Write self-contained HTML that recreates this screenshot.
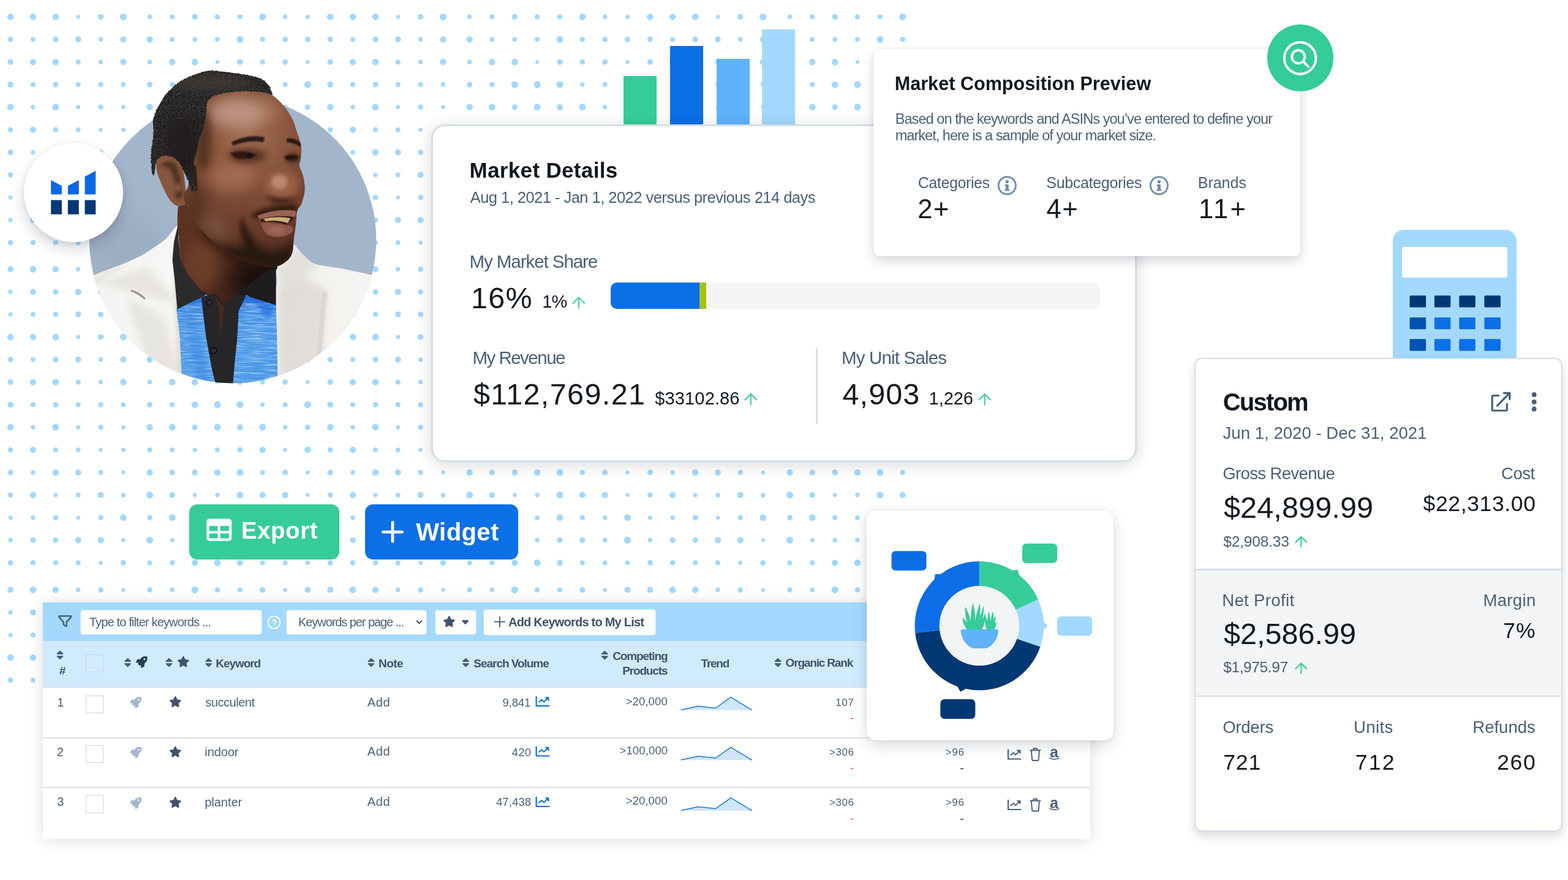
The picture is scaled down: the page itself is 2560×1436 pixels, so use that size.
<!DOCTYPE html>
<html lang="en">
<head>
<meta charset="utf-8">
<title>Market dashboard</title>
<style>
html,body{margin:0;padding:0;background:#fff;}
body{width:2560px;height:1436px;overflow:hidden;font-family:"Liberation Sans",sans-serif;}
#stage{position:relative;width:2560px;height:1436px;overflow:hidden;background:#fff;}
#stage>div,#stage>svg{position:absolute;}
.t{position:absolute;white-space:nowrap;line-height:1;}
#texts{left:0;top:0;width:0;height:0;}
.bar{position:absolute;}
.card{position:absolute;background:#fff;box-sizing:border-box;}

</style>
</head>
<body>
<div id="stage">
<svg id="dots" width="2560" height="1436" viewBox="0 0 2560 1436" style="position:absolute;left:0;top:0"><path fill="#a4d8fe" d="M11.8 27.5a5.33 5.33 0 1 0 10.66 0a5.33 5.33 0 1 0 -10.66 0zM48.8 27.5a5.13 5.13 0 1 0 10.26 0a5.13 5.13 0 1 0 -10.26 0zM85.5 27.5a5.33 5.33 0 1 0 10.66 0a5.33 5.33 0 1 0 -10.66 0zM124.4 27.5a3.3 3.3 0 1 0 6.60 0a3.3 3.3 0 1 0 -6.60 0zM159.8 27.5a4.72 4.72 0 1 0 9.44 0a4.72 4.72 0 1 0 -9.44 0zM195.8 27.5a5.53 5.53 0 1 0 11.06 0a5.53 5.53 0 1 0 -11.06 0zM12.6 64.3a4.52 4.52 0 1 0 9.04 0a4.52 4.52 0 1 0 -9.04 0zM50.0 64.3a3.91 3.91 0 1 0 7.82 0a3.91 3.91 0 1 0 -7.82 0zM86.1 64.3a4.72 4.72 0 1 0 9.44 0a4.72 4.72 0 1 0 -9.44 0zM122.7 64.3a4.93 4.93 0 1 0 9.86 0a4.93 4.93 0 1 0 -9.86 0zM160.8 64.3a3.71 3.71 0 1 0 7.42 0a3.71 3.71 0 1 0 -7.42 0zM196.2 64.3a5.13 5.13 0 1 0 10.26 0a5.13 5.13 0 1 0 -10.26 0zM12.4 101.2a4.72 4.72 0 1 0 9.44 0a4.72 4.72 0 1 0 -9.44 0zM48.8 101.2a5.13 5.13 0 1 0 10.26 0a5.13 5.13 0 1 0 -10.26 0zM85.5 101.2a5.33 5.33 0 1 0 10.66 0a5.33 5.33 0 1 0 -10.66 0zM123.3 101.2a4.32 4.32 0 1 0 8.64 0a4.32 4.32 0 1 0 -8.64 0zM160.8 101.2a3.71 3.71 0 1 0 7.42 0a3.71 3.71 0 1 0 -7.42 0zM196.2 101.2a5.13 5.13 0 1 0 10.26 0a5.13 5.13 0 1 0 -10.26 0zM12.2 138.0a4.93 4.93 0 1 0 9.86 0a4.93 4.93 0 1 0 -9.86 0zM49.8 138.0a4.11 4.11 0 1 0 8.22 0a4.11 4.11 0 1 0 -8.22 0zM86.3 138.0a4.52 4.52 0 1 0 9.04 0a4.52 4.52 0 1 0 -9.04 0zM123.5 138.0a4.11 4.11 0 1 0 8.22 0a4.11 4.11 0 1 0 -8.22 0zM160.4 138.0a4.11 4.11 0 1 0 8.22 0a4.11 4.11 0 1 0 -8.22 0zM197.4 138.0a3.91 3.91 0 1 0 7.82 0a3.91 3.91 0 1 0 -7.82 0zM11.8 174.8a5.33 5.33 0 1 0 10.66 0a5.33 5.33 0 1 0 -10.66 0zM50.2 174.8a3.71 3.71 0 1 0 7.42 0a3.71 3.71 0 1 0 -7.42 0zM85.3 174.8a5.53 5.53 0 1 0 11.06 0a5.53 5.53 0 1 0 -11.06 0zM124.2 174.8a3.5 3.5 0 1 0 7.00 0a3.5 3.5 0 1 0 -7.00 0zM160.2 174.8a4.32 4.32 0 1 0 8.64 0a4.32 4.32 0 1 0 -8.64 0zM198.1 174.8a3.3 3.3 0 1 0 6.60 0a3.3 3.3 0 1 0 -6.60 0zM12.8 211.7a4.32 4.32 0 1 0 8.64 0a4.32 4.32 0 1 0 -8.64 0zM48.8 211.7a5.13 5.13 0 1 0 10.26 0a5.13 5.13 0 1 0 -10.26 0zM86.7 211.7a4.11 4.11 0 1 0 8.22 0a4.11 4.11 0 1 0 -8.22 0zM123.7 211.7a3.91 3.91 0 1 0 7.82 0a3.91 3.91 0 1 0 -7.82 0zM161.2 211.7a3.3 3.3 0 1 0 6.60 0a3.3 3.3 0 1 0 -6.60 0zM197.9 211.7a3.5 3.5 0 1 0 7.00 0a3.5 3.5 0 1 0 -7.00 0zM12.4 248.6a4.72 4.72 0 1 0 9.44 0a4.72 4.72 0 1 0 -9.44 0zM50.2 248.6a3.71 3.71 0 1 0 7.42 0a3.71 3.71 0 1 0 -7.42 0zM85.5 248.6a5.33 5.33 0 1 0 10.66 0a5.33 5.33 0 1 0 -10.66 0zM122.7 248.6a4.93 4.93 0 1 0 9.86 0a4.93 4.93 0 1 0 -9.86 0zM160.2 248.6a4.32 4.32 0 1 0 8.64 0a4.32 4.32 0 1 0 -8.64 0zM198.1 248.6a3.3 3.3 0 1 0 6.60 0a3.3 3.3 0 1 0 -6.60 0zM12.8 285.4a4.32 4.32 0 1 0 8.64 0a4.32 4.32 0 1 0 -8.64 0zM48.8 285.4a5.13 5.13 0 1 0 10.26 0a5.13 5.13 0 1 0 -10.26 0zM87.3 285.4a3.5 3.5 0 1 0 7.00 0a3.5 3.5 0 1 0 -7.00 0zM123.7 285.4a3.91 3.91 0 1 0 7.82 0a3.91 3.91 0 1 0 -7.82 0zM159.6 285.4a4.93 4.93 0 1 0 9.86 0a4.93 4.93 0 1 0 -9.86 0zM197.4 285.4a3.91 3.91 0 1 0 7.82 0a3.91 3.91 0 1 0 -7.82 0zM13.6 322.2a3.5 3.5 0 1 0 7.00 0a3.5 3.5 0 1 0 -7.00 0zM50.2 322.2a3.71 3.71 0 1 0 7.42 0a3.71 3.71 0 1 0 -7.42 0zM86.3 322.2a4.52 4.52 0 1 0 9.04 0a4.52 4.52 0 1 0 -9.04 0zM124.4 322.2a3.3 3.3 0 1 0 6.60 0a3.3 3.3 0 1 0 -6.60 0zM160.2 322.2a4.32 4.32 0 1 0 8.64 0a4.32 4.32 0 1 0 -8.64 0zM196.0 322.2a5.33 5.33 0 1 0 10.66 0a5.33 5.33 0 1 0 -10.66 0zM13.4 359.1a3.71 3.71 0 1 0 7.42 0a3.71 3.71 0 1 0 -7.42 0zM49.2 359.1a4.72 4.72 0 1 0 9.44 0a4.72 4.72 0 1 0 -9.44 0zM86.3 359.1a4.52 4.52 0 1 0 9.04 0a4.52 4.52 0 1 0 -9.04 0zM122.5 359.1a5.13 5.13 0 1 0 10.26 0a5.13 5.13 0 1 0 -10.26 0zM159.4 359.1a5.13 5.13 0 1 0 10.26 0a5.13 5.13 0 1 0 -10.26 0zM198.1 359.1a3.3 3.3 0 1 0 6.60 0a3.3 3.3 0 1 0 -6.60 0zM12.6 396.0a4.52 4.52 0 1 0 9.04 0a4.52 4.52 0 1 0 -9.04 0zM49.6 396.0a4.32 4.32 0 1 0 8.64 0a4.32 4.32 0 1 0 -8.64 0zM86.7 396.0a4.11 4.11 0 1 0 8.22 0a4.11 4.11 0 1 0 -8.22 0zM123.5 396.0a4.11 4.11 0 1 0 8.22 0a4.11 4.11 0 1 0 -8.22 0zM161.2 396.0a3.3 3.3 0 1 0 6.60 0a3.3 3.3 0 1 0 -6.60 0zM196.8 396.0a4.52 4.52 0 1 0 9.04 0a4.52 4.52 0 1 0 -9.04 0zM240.7 27.5a3.71 3.71 0 1 0 7.42 0a3.71 3.71 0 1 0 -7.42 0zM277.1 27.5a4.11 4.11 0 1 0 8.22 0a4.11 4.11 0 1 0 -8.22 0zM313.4 27.5a4.72 4.72 0 1 0 9.44 0a4.72 4.72 0 1 0 -9.44 0zM350.8 27.5a4.11 4.11 0 1 0 8.22 0a4.11 4.11 0 1 0 -8.22 0zM387.7 27.5a4.11 4.11 0 1 0 8.22 0a4.11 4.11 0 1 0 -8.22 0zM423.1 27.5a5.53 5.53 0 1 0 11.06 0a5.53 5.53 0 1 0 -11.06 0zM461.8 27.5a3.71 3.71 0 1 0 7.42 0a3.71 3.71 0 1 0 -7.42 0zM498.9 27.5a3.5 3.5 0 1 0 7.00 0a3.5 3.5 0 1 0 -7.00 0zM533.9 27.5a5.33 5.33 0 1 0 10.66 0a5.33 5.33 0 1 0 -10.66 0zM570.9 27.5a5.13 5.13 0 1 0 10.26 0a5.13 5.13 0 1 0 -10.26 0zM607.6 27.5a5.33 5.33 0 1 0 10.66 0a5.33 5.33 0 1 0 -10.66 0zM646.5 27.5a3.3 3.3 0 1 0 6.60 0a3.3 3.3 0 1 0 -6.60 0zM681.9 27.5a4.72 4.72 0 1 0 9.44 0a4.72 4.72 0 1 0 -9.44 0zM717.9 27.5a5.53 5.53 0 1 0 11.06 0a5.53 5.53 0 1 0 -11.06 0zM239.2 64.3a5.23 5.23 0 1 0 10.46 0a5.23 5.23 0 1 0 -10.46 0zM277.3 64.3a3.91 3.91 0 1 0 7.82 0a3.91 3.91 0 1 0 -7.82 0zM314.2 64.3a3.91 3.91 0 1 0 7.82 0a3.91 3.91 0 1 0 -7.82 0zM350.9 64.3a4.01 4.01 0 1 0 8.02 0a4.01 4.01 0 1 0 -8.02 0zM386.3 64.3a5.53 5.53 0 1 0 11.06 0a5.53 5.53 0 1 0 -11.06 0zM424.3 64.3a4.32 4.32 0 1 0 8.64 0a4.32 4.32 0 1 0 -8.64 0zM461.0 64.3a4.52 4.52 0 1 0 9.04 0a4.52 4.52 0 1 0 -9.04 0zM497.7 64.3a4.62 4.62 0 1 0 9.24 0a4.62 4.62 0 1 0 -9.24 0zM534.7 64.3a4.52 4.52 0 1 0 9.04 0a4.52 4.52 0 1 0 -9.04 0zM572.1 64.3a3.91 3.91 0 1 0 7.82 0a3.91 3.91 0 1 0 -7.82 0zM608.2 64.3a4.72 4.72 0 1 0 9.44 0a4.72 4.72 0 1 0 -9.44 0zM644.8 64.3a4.93 4.93 0 1 0 9.86 0a4.93 4.93 0 1 0 -9.86 0zM682.9 64.3a3.71 3.71 0 1 0 7.42 0a3.71 3.71 0 1 0 -7.42 0zM718.3 64.3a5.13 5.13 0 1 0 10.26 0a5.13 5.13 0 1 0 -10.26 0zM240.6 101.2a3.81 3.81 0 1 0 7.62 0a3.81 3.81 0 1 0 -7.62 0zM275.9 101.2a5.33 5.33 0 1 0 10.66 0a5.33 5.33 0 1 0 -10.66 0zM312.8 101.2a5.33 5.33 0 1 0 10.66 0a5.33 5.33 0 1 0 -10.66 0zM351.9 101.2a3.1 3.1 0 1 0 6.20 0a3.1 3.1 0 1 0 -6.20 0zM387.1 101.2a4.72 4.72 0 1 0 9.44 0a4.72 4.72 0 1 0 -9.44 0zM424.5 101.2a4.11 4.11 0 1 0 8.22 0a4.11 4.11 0 1 0 -8.22 0zM461.0 101.2a4.52 4.52 0 1 0 9.04 0a4.52 4.52 0 1 0 -9.04 0zM499.1 101.2a3.3 3.3 0 1 0 6.60 0a3.3 3.3 0 1 0 -6.60 0zM534.5 101.2a4.72 4.72 0 1 0 9.44 0a4.72 4.72 0 1 0 -9.44 0zM570.9 101.2a5.13 5.13 0 1 0 10.26 0a5.13 5.13 0 1 0 -10.26 0zM607.6 101.2a5.33 5.33 0 1 0 10.66 0a5.33 5.33 0 1 0 -10.66 0zM645.4 101.2a4.32 4.32 0 1 0 8.64 0a4.32 4.32 0 1 0 -8.64 0zM682.9 101.2a3.71 3.71 0 1 0 7.42 0a3.71 3.71 0 1 0 -7.42 0zM718.3 101.2a5.13 5.13 0 1 0 10.26 0a5.13 5.13 0 1 0 -10.26 0zM239.9 138.0a4.52 4.52 0 1 0 9.04 0a4.52 4.52 0 1 0 -9.04 0zM276.9 138.0a4.32 4.32 0 1 0 8.64 0a4.32 4.32 0 1 0 -8.64 0zM312.6 138.0a5.53 5.53 0 1 0 11.06 0a5.53 5.53 0 1 0 -11.06 0zM349.4 138.0a5.53 5.53 0 1 0 11.06 0a5.53 5.53 0 1 0 -11.06 0zM386.3 138.0a5.53 5.53 0 1 0 11.06 0a5.53 5.53 0 1 0 -11.06 0zM424.9 138.0a3.71 3.71 0 1 0 7.42 0a3.71 3.71 0 1 0 -7.42 0zM461.5 138.0a4.01 4.01 0 1 0 8.02 0a4.01 4.01 0 1 0 -8.02 0zM496.8 138.0a5.53 5.53 0 1 0 11.06 0a5.53 5.53 0 1 0 -11.06 0zM534.3 138.0a4.93 4.93 0 1 0 9.86 0a4.93 4.93 0 1 0 -9.86 0zM571.9 138.0a4.11 4.11 0 1 0 8.22 0a4.11 4.11 0 1 0 -8.22 0zM608.4 138.0a4.52 4.52 0 1 0 9.04 0a4.52 4.52 0 1 0 -9.04 0zM645.6 138.0a4.11 4.11 0 1 0 8.22 0a4.11 4.11 0 1 0 -8.22 0zM682.5 138.0a4.11 4.11 0 1 0 8.22 0a4.11 4.11 0 1 0 -8.22 0zM719.5 138.0a3.91 3.91 0 1 0 7.82 0a3.91 3.91 0 1 0 -7.82 0zM239.1 174.8a5.33 5.33 0 1 0 10.66 0a5.33 5.33 0 1 0 -10.66 0zM275.9 174.8a5.33 5.33 0 1 0 10.66 0a5.33 5.33 0 1 0 -10.66 0zM313.6 174.8a4.52 4.52 0 1 0 9.04 0a4.52 4.52 0 1 0 -9.04 0zM349.4 174.8a5.53 5.53 0 1 0 11.06 0a5.53 5.53 0 1 0 -11.06 0zM386.7 174.8a5.13 5.13 0 1 0 10.26 0a5.13 5.13 0 1 0 -10.26 0zM423.1 174.8a5.53 5.53 0 1 0 11.06 0a5.53 5.53 0 1 0 -11.06 0zM461.8 174.8a3.71 3.71 0 1 0 7.42 0a3.71 3.71 0 1 0 -7.42 0zM497.8 174.8a4.52 4.52 0 1 0 9.04 0a4.52 4.52 0 1 0 -9.04 0zM533.9 174.8a5.33 5.33 0 1 0 10.66 0a5.33 5.33 0 1 0 -10.66 0zM572.3 174.8a3.71 3.71 0 1 0 7.42 0a3.71 3.71 0 1 0 -7.42 0zM607.4 174.8a5.53 5.53 0 1 0 11.06 0a5.53 5.53 0 1 0 -11.06 0zM646.2 174.8a3.5 3.5 0 1 0 7.00 0a3.5 3.5 0 1 0 -7.00 0zM682.3 174.8a4.32 4.32 0 1 0 8.64 0a4.32 4.32 0 1 0 -8.64 0zM720.2 174.8a3.3 3.3 0 1 0 6.60 0a3.3 3.3 0 1 0 -6.60 0zM240.3 211.7a4.11 4.11 0 1 0 8.22 0a4.11 4.11 0 1 0 -8.22 0zM277.3 211.7a3.91 3.91 0 1 0 7.82 0a3.91 3.91 0 1 0 -7.82 0zM314.4 211.7a3.71 3.71 0 1 0 7.42 0a3.71 3.71 0 1 0 -7.42 0zM351.0 211.7a3.91 3.91 0 1 0 7.82 0a3.91 3.91 0 1 0 -7.82 0zM387.5 211.7a4.32 4.32 0 1 0 8.64 0a4.32 4.32 0 1 0 -8.64 0zM423.3 211.7a5.33 5.33 0 1 0 10.66 0a5.33 5.33 0 1 0 -10.66 0zM462.2 211.7a3.3 3.3 0 1 0 6.60 0a3.3 3.3 0 1 0 -6.60 0zM497.0 211.7a5.33 5.33 0 1 0 10.66 0a5.33 5.33 0 1 0 -10.66 0zM534.9 211.7a4.32 4.32 0 1 0 8.64 0a4.32 4.32 0 1 0 -8.64 0zM570.9 211.7a5.13 5.13 0 1 0 10.26 0a5.13 5.13 0 1 0 -10.26 0zM608.8 211.7a4.11 4.11 0 1 0 8.22 0a4.11 4.11 0 1 0 -8.22 0zM645.8 211.7a3.91 3.91 0 1 0 7.82 0a3.91 3.91 0 1 0 -7.82 0zM683.3 211.7a3.3 3.3 0 1 0 6.60 0a3.3 3.3 0 1 0 -6.60 0zM720.0 211.7a3.5 3.5 0 1 0 7.00 0a3.5 3.5 0 1 0 -7.00 0zM239.3 248.6a5.13 5.13 0 1 0 10.26 0a5.13 5.13 0 1 0 -10.26 0zM276.5 248.6a4.72 4.72 0 1 0 9.44 0a4.72 4.72 0 1 0 -9.44 0zM313.2 248.6a4.93 4.93 0 1 0 9.86 0a4.93 4.93 0 1 0 -9.86 0zM349.6 248.6a5.33 5.33 0 1 0 10.66 0a5.33 5.33 0 1 0 -10.66 0zM386.3 248.6a5.53 5.53 0 1 0 11.06 0a5.53 5.53 0 1 0 -11.06 0zM424.5 248.6a4.11 4.11 0 1 0 8.22 0a4.11 4.11 0 1 0 -8.22 0zM460.8 248.6a4.72 4.72 0 1 0 9.44 0a4.72 4.72 0 1 0 -9.44 0zM499.1 248.6a3.3 3.3 0 1 0 6.60 0a3.3 3.3 0 1 0 -6.60 0zM534.5 248.6a4.72 4.72 0 1 0 9.44 0a4.72 4.72 0 1 0 -9.44 0zM572.3 248.6a3.71 3.71 0 1 0 7.42 0a3.71 3.71 0 1 0 -7.42 0zM607.6 248.6a5.33 5.33 0 1 0 10.66 0a5.33 5.33 0 1 0 -10.66 0zM644.8 248.6a4.93 4.93 0 1 0 9.86 0a4.93 4.93 0 1 0 -9.86 0zM682.3 248.6a4.32 4.32 0 1 0 8.64 0a4.32 4.32 0 1 0 -8.64 0zM720.2 248.6a3.3 3.3 0 1 0 6.60 0a3.3 3.3 0 1 0 -6.60 0zM238.9 285.4a5.53 5.53 0 1 0 11.06 0a5.53 5.53 0 1 0 -11.06 0zM276.5 285.4a4.72 4.72 0 1 0 9.44 0a4.72 4.72 0 1 0 -9.44 0zM314.8 285.4a3.3 3.3 0 1 0 6.60 0a3.3 3.3 0 1 0 -6.60 0zM351.2 285.4a3.71 3.71 0 1 0 7.42 0a3.71 3.71 0 1 0 -7.42 0zM386.3 285.4a5.53 5.53 0 1 0 11.06 0a5.53 5.53 0 1 0 -11.06 0zM423.7 285.4a4.93 4.93 0 1 0 9.86 0a4.93 4.93 0 1 0 -9.86 0zM460.4 285.4a5.13 5.13 0 1 0 10.26 0a5.13 5.13 0 1 0 -10.26 0zM499.2 285.4a3.1 3.1 0 1 0 6.20 0a3.1 3.1 0 1 0 -6.20 0zM534.9 285.4a4.32 4.32 0 1 0 8.64 0a4.32 4.32 0 1 0 -8.64 0zM570.9 285.4a5.13 5.13 0 1 0 10.26 0a5.13 5.13 0 1 0 -10.26 0zM609.4 285.4a3.5 3.5 0 1 0 7.00 0a3.5 3.5 0 1 0 -7.00 0zM645.8 285.4a3.91 3.91 0 1 0 7.82 0a3.91 3.91 0 1 0 -7.82 0zM681.7 285.4a4.93 4.93 0 1 0 9.86 0a4.93 4.93 0 1 0 -9.86 0zM719.5 285.4a3.91 3.91 0 1 0 7.82 0a3.91 3.91 0 1 0 -7.82 0zM239.9 322.2a4.52 4.52 0 1 0 9.04 0a4.52 4.52 0 1 0 -9.04 0zM275.7 322.2a5.53 5.53 0 1 0 11.06 0a5.53 5.53 0 1 0 -11.06 0zM313.8 322.2a4.32 4.32 0 1 0 8.64 0a4.32 4.32 0 1 0 -8.64 0zM351.0 322.2a3.91 3.91 0 1 0 7.82 0a3.91 3.91 0 1 0 -7.82 0zM386.5 322.2a5.33 5.33 0 1 0 10.66 0a5.33 5.33 0 1 0 -10.66 0zM424.5 322.2a4.11 4.11 0 1 0 8.22 0a4.11 4.11 0 1 0 -8.22 0zM461.8 322.2a3.71 3.71 0 1 0 7.42 0a3.71 3.71 0 1 0 -7.42 0zM496.8 322.2a5.53 5.53 0 1 0 11.06 0a5.53 5.53 0 1 0 -11.06 0zM535.7 322.2a3.5 3.5 0 1 0 7.00 0a3.5 3.5 0 1 0 -7.00 0zM572.3 322.2a3.71 3.71 0 1 0 7.42 0a3.71 3.71 0 1 0 -7.42 0zM608.4 322.2a4.52 4.52 0 1 0 9.04 0a4.52 4.52 0 1 0 -9.04 0zM646.5 322.2a3.3 3.3 0 1 0 6.60 0a3.3 3.3 0 1 0 -6.60 0zM682.3 322.2a4.32 4.32 0 1 0 8.64 0a4.32 4.32 0 1 0 -8.64 0zM718.1 322.2a5.33 5.33 0 1 0 10.66 0a5.33 5.33 0 1 0 -10.66 0zM238.9 359.1a5.53 5.53 0 1 0 11.06 0a5.53 5.53 0 1 0 -11.06 0zM277.8 359.1a3.5 3.5 0 1 0 7.00 0a3.5 3.5 0 1 0 -7.00 0zM314.3 359.1a3.81 3.81 0 1 0 7.62 0a3.81 3.81 0 1 0 -7.62 0zM351.2 359.1a3.71 3.71 0 1 0 7.42 0a3.71 3.71 0 1 0 -7.42 0zM387.1 359.1a4.72 4.72 0 1 0 9.44 0a4.72 4.72 0 1 0 -9.44 0zM423.9 359.1a4.72 4.72 0 1 0 9.44 0a4.72 4.72 0 1 0 -9.44 0zM461.6 359.1a3.91 3.91 0 1 0 7.82 0a3.91 3.91 0 1 0 -7.82 0zM496.6 359.1a5.74 5.74 0 1 0 11.48 0a5.74 5.74 0 1 0 -11.48 0zM535.5 359.1a3.71 3.71 0 1 0 7.42 0a3.71 3.71 0 1 0 -7.42 0zM571.3 359.1a4.72 4.72 0 1 0 9.44 0a4.72 4.72 0 1 0 -9.44 0zM608.4 359.1a4.52 4.52 0 1 0 9.04 0a4.52 4.52 0 1 0 -9.04 0zM644.6 359.1a5.13 5.13 0 1 0 10.26 0a5.13 5.13 0 1 0 -10.26 0zM681.5 359.1a5.13 5.13 0 1 0 10.26 0a5.13 5.13 0 1 0 -10.26 0zM720.2 359.1a3.3 3.3 0 1 0 6.60 0a3.3 3.3 0 1 0 -6.60 0zM240.5 396.0a3.91 3.91 0 1 0 7.82 0a3.91 3.91 0 1 0 -7.82 0zM277.1 396.0a4.11 4.11 0 1 0 8.22 0a4.11 4.11 0 1 0 -8.22 0zM313.0 396.0a5.13 5.13 0 1 0 10.26 0a5.13 5.13 0 1 0 -10.26 0zM349.6 396.0a5.33 5.33 0 1 0 10.66 0a5.33 5.33 0 1 0 -10.66 0zM386.9 396.0a4.93 4.93 0 1 0 9.86 0a4.93 4.93 0 1 0 -9.86 0zM424.7 396.0a3.91 3.91 0 1 0 7.82 0a3.91 3.91 0 1 0 -7.82 0zM461.6 396.0a3.91 3.91 0 1 0 7.82 0a3.91 3.91 0 1 0 -7.82 0zM498.6 396.0a3.71 3.71 0 1 0 7.42 0a3.71 3.71 0 1 0 -7.42 0zM534.7 396.0a4.52 4.52 0 1 0 9.04 0a4.52 4.52 0 1 0 -9.04 0zM571.7 396.0a4.32 4.32 0 1 0 8.64 0a4.32 4.32 0 1 0 -8.64 0zM608.8 396.0a4.11 4.11 0 1 0 8.22 0a4.11 4.11 0 1 0 -8.22 0zM645.6 396.0a4.11 4.11 0 1 0 8.22 0a4.11 4.11 0 1 0 -8.22 0zM683.3 396.0a3.3 3.3 0 1 0 6.60 0a3.3 3.3 0 1 0 -6.60 0zM718.9 396.0a4.52 4.52 0 1 0 9.04 0a4.52 4.52 0 1 0 -9.04 0zM762.9 27.5a3.71 3.71 0 1 0 7.42 0a3.71 3.71 0 1 0 -7.42 0zM799.3 27.5a4.11 4.11 0 1 0 8.22 0a4.11 4.11 0 1 0 -8.22 0zM835.6 27.5a4.72 4.72 0 1 0 9.44 0a4.72 4.72 0 1 0 -9.44 0zM873.0 27.5a4.11 4.11 0 1 0 8.22 0a4.11 4.11 0 1 0 -8.22 0zM909.9 27.5a4.11 4.11 0 1 0 8.22 0a4.11 4.11 0 1 0 -8.22 0zM945.3 27.5a5.53 5.53 0 1 0 11.06 0a5.53 5.53 0 1 0 -11.06 0zM984.0 27.5a3.71 3.71 0 1 0 7.42 0a3.71 3.71 0 1 0 -7.42 0zM1021.0 27.5a3.5 3.5 0 1 0 7.00 0a3.5 3.5 0 1 0 -7.00 0zM1056.1 27.5a5.33 5.33 0 1 0 10.66 0a5.33 5.33 0 1 0 -10.66 0zM1093.1 27.5a5.13 5.13 0 1 0 10.26 0a5.13 5.13 0 1 0 -10.26 0zM1129.8 27.5a5.33 5.33 0 1 0 10.66 0a5.33 5.33 0 1 0 -10.66 0zM1168.7 27.5a3.3 3.3 0 1 0 6.60 0a3.3 3.3 0 1 0 -6.60 0zM1204.1 27.5a4.72 4.72 0 1 0 9.44 0a4.72 4.72 0 1 0 -9.44 0zM1240.1 27.5a5.53 5.53 0 1 0 11.06 0a5.53 5.53 0 1 0 -11.06 0zM761.4 64.3a5.23 5.23 0 1 0 10.46 0a5.23 5.23 0 1 0 -10.46 0zM799.5 64.3a3.91 3.91 0 1 0 7.82 0a3.91 3.91 0 1 0 -7.82 0zM836.4 64.3a3.91 3.91 0 1 0 7.82 0a3.91 3.91 0 1 0 -7.82 0zM873.1 64.3a4.01 4.01 0 1 0 8.02 0a4.01 4.01 0 1 0 -8.02 0zM908.5 64.3a5.53 5.53 0 1 0 11.06 0a5.53 5.53 0 1 0 -11.06 0zM946.5 64.3a4.32 4.32 0 1 0 8.64 0a4.32 4.32 0 1 0 -8.64 0zM983.2 64.3a4.52 4.52 0 1 0 9.04 0a4.52 4.52 0 1 0 -9.04 0zM1019.9 64.3a4.62 4.62 0 1 0 9.24 0a4.62 4.62 0 1 0 -9.24 0zM1056.9 64.3a4.52 4.52 0 1 0 9.04 0a4.52 4.52 0 1 0 -9.04 0zM1094.3 64.3a3.91 3.91 0 1 0 7.82 0a3.91 3.91 0 1 0 -7.82 0zM1130.4 64.3a4.72 4.72 0 1 0 9.44 0a4.72 4.72 0 1 0 -9.44 0zM1167.0 64.3a4.93 4.93 0 1 0 9.86 0a4.93 4.93 0 1 0 -9.86 0zM1205.1 64.3a3.71 3.71 0 1 0 7.42 0a3.71 3.71 0 1 0 -7.42 0zM1240.5 64.3a5.13 5.13 0 1 0 10.26 0a5.13 5.13 0 1 0 -10.26 0zM762.8 101.2a3.81 3.81 0 1 0 7.62 0a3.81 3.81 0 1 0 -7.62 0zM798.1 101.2a5.33 5.33 0 1 0 10.66 0a5.33 5.33 0 1 0 -10.66 0zM835.0 101.2a5.33 5.33 0 1 0 10.66 0a5.33 5.33 0 1 0 -10.66 0zM874.1 101.2a3.1 3.1 0 1 0 6.20 0a3.1 3.1 0 1 0 -6.20 0zM909.3 101.2a4.72 4.72 0 1 0 9.44 0a4.72 4.72 0 1 0 -9.44 0zM946.7 101.2a4.11 4.11 0 1 0 8.22 0a4.11 4.11 0 1 0 -8.22 0zM983.2 101.2a4.52 4.52 0 1 0 9.04 0a4.52 4.52 0 1 0 -9.04 0zM1021.2 101.2a3.3 3.3 0 1 0 6.60 0a3.3 3.3 0 1 0 -6.60 0zM1056.7 101.2a4.72 4.72 0 1 0 9.44 0a4.72 4.72 0 1 0 -9.44 0zM1093.1 101.2a5.13 5.13 0 1 0 10.26 0a5.13 5.13 0 1 0 -10.26 0zM1129.8 101.2a5.33 5.33 0 1 0 10.66 0a5.33 5.33 0 1 0 -10.66 0zM1167.6 101.2a4.32 4.32 0 1 0 8.64 0a4.32 4.32 0 1 0 -8.64 0zM1205.1 101.2a3.71 3.71 0 1 0 7.42 0a3.71 3.71 0 1 0 -7.42 0zM1240.5 101.2a5.13 5.13 0 1 0 10.26 0a5.13 5.13 0 1 0 -10.26 0zM762.1 138.0a4.52 4.52 0 1 0 9.04 0a4.52 4.52 0 1 0 -9.04 0zM799.1 138.0a4.32 4.32 0 1 0 8.64 0a4.32 4.32 0 1 0 -8.64 0zM834.8 138.0a5.53 5.53 0 1 0 11.06 0a5.53 5.53 0 1 0 -11.06 0zM871.6 138.0a5.53 5.53 0 1 0 11.06 0a5.53 5.53 0 1 0 -11.06 0zM908.5 138.0a5.53 5.53 0 1 0 11.06 0a5.53 5.53 0 1 0 -11.06 0zM947.1 138.0a3.71 3.71 0 1 0 7.42 0a3.71 3.71 0 1 0 -7.42 0zM983.7 138.0a4.01 4.01 0 1 0 8.02 0a4.01 4.01 0 1 0 -8.02 0zM1019.0 138.0a5.53 5.53 0 1 0 11.06 0a5.53 5.53 0 1 0 -11.06 0zM1056.5 138.0a4.93 4.93 0 1 0 9.86 0a4.93 4.93 0 1 0 -9.86 0zM1094.1 138.0a4.11 4.11 0 1 0 8.22 0a4.11 4.11 0 1 0 -8.22 0zM1130.6 138.0a4.52 4.52 0 1 0 9.04 0a4.52 4.52 0 1 0 -9.04 0zM1167.8 138.0a4.11 4.11 0 1 0 8.22 0a4.11 4.11 0 1 0 -8.22 0zM1204.7 138.0a4.11 4.11 0 1 0 8.22 0a4.11 4.11 0 1 0 -8.22 0zM1241.7 138.0a3.91 3.91 0 1 0 7.82 0a3.91 3.91 0 1 0 -7.82 0zM761.3 174.8a5.33 5.33 0 1 0 10.66 0a5.33 5.33 0 1 0 -10.66 0zM798.1 174.8a5.33 5.33 0 1 0 10.66 0a5.33 5.33 0 1 0 -10.66 0zM835.8 174.8a4.52 4.52 0 1 0 9.04 0a4.52 4.52 0 1 0 -9.04 0zM871.6 174.8a5.53 5.53 0 1 0 11.06 0a5.53 5.53 0 1 0 -11.06 0zM908.9 174.8a5.13 5.13 0 1 0 10.26 0a5.13 5.13 0 1 0 -10.26 0zM945.3 174.8a5.53 5.53 0 1 0 11.06 0a5.53 5.53 0 1 0 -11.06 0zM984.0 174.8a3.71 3.71 0 1 0 7.42 0a3.71 3.71 0 1 0 -7.42 0zM1020.0 174.8a4.52 4.52 0 1 0 9.04 0a4.52 4.52 0 1 0 -9.04 0zM1056.1 174.8a5.33 5.33 0 1 0 10.66 0a5.33 5.33 0 1 0 -10.66 0zM1094.5 174.8a3.71 3.71 0 1 0 7.42 0a3.71 3.71 0 1 0 -7.42 0zM1129.6 174.8a5.53 5.53 0 1 0 11.06 0a5.53 5.53 0 1 0 -11.06 0zM1168.5 174.8a3.5 3.5 0 1 0 7.00 0a3.5 3.5 0 1 0 -7.00 0zM1204.5 174.8a4.32 4.32 0 1 0 8.64 0a4.32 4.32 0 1 0 -8.64 0zM1242.4 174.8a3.3 3.3 0 1 0 6.60 0a3.3 3.3 0 1 0 -6.60 0zM762.5 211.7a4.11 4.11 0 1 0 8.22 0a4.11 4.11 0 1 0 -8.22 0zM799.5 211.7a3.91 3.91 0 1 0 7.82 0a3.91 3.91 0 1 0 -7.82 0zM836.6 211.7a3.71 3.71 0 1 0 7.42 0a3.71 3.71 0 1 0 -7.42 0zM873.2 211.7a3.91 3.91 0 1 0 7.82 0a3.91 3.91 0 1 0 -7.82 0zM909.7 211.7a4.32 4.32 0 1 0 8.64 0a4.32 4.32 0 1 0 -8.64 0zM945.5 211.7a5.33 5.33 0 1 0 10.66 0a5.33 5.33 0 1 0 -10.66 0zM984.4 211.7a3.3 3.3 0 1 0 6.60 0a3.3 3.3 0 1 0 -6.60 0zM1019.2 211.7a5.33 5.33 0 1 0 10.66 0a5.33 5.33 0 1 0 -10.66 0zM1057.1 211.7a4.32 4.32 0 1 0 8.64 0a4.32 4.32 0 1 0 -8.64 0zM1093.1 211.7a5.13 5.13 0 1 0 10.26 0a5.13 5.13 0 1 0 -10.26 0zM1131.0 211.7a4.11 4.11 0 1 0 8.22 0a4.11 4.11 0 1 0 -8.22 0zM1168.0 211.7a3.91 3.91 0 1 0 7.82 0a3.91 3.91 0 1 0 -7.82 0zM1205.5 211.7a3.3 3.3 0 1 0 6.60 0a3.3 3.3 0 1 0 -6.60 0zM1242.2 211.7a3.5 3.5 0 1 0 7.00 0a3.5 3.5 0 1 0 -7.00 0zM761.5 248.6a5.13 5.13 0 1 0 10.26 0a5.13 5.13 0 1 0 -10.26 0zM798.7 248.6a4.72 4.72 0 1 0 9.44 0a4.72 4.72 0 1 0 -9.44 0zM835.4 248.6a4.93 4.93 0 1 0 9.86 0a4.93 4.93 0 1 0 -9.86 0zM871.8 248.6a5.33 5.33 0 1 0 10.66 0a5.33 5.33 0 1 0 -10.66 0zM908.5 248.6a5.53 5.53 0 1 0 11.06 0a5.53 5.53 0 1 0 -11.06 0zM946.7 248.6a4.11 4.11 0 1 0 8.22 0a4.11 4.11 0 1 0 -8.22 0zM983.0 248.6a4.72 4.72 0 1 0 9.44 0a4.72 4.72 0 1 0 -9.44 0zM1021.2 248.6a3.3 3.3 0 1 0 6.60 0a3.3 3.3 0 1 0 -6.60 0zM1056.7 248.6a4.72 4.72 0 1 0 9.44 0a4.72 4.72 0 1 0 -9.44 0zM1094.5 248.6a3.71 3.71 0 1 0 7.42 0a3.71 3.71 0 1 0 -7.42 0zM1129.8 248.6a5.33 5.33 0 1 0 10.66 0a5.33 5.33 0 1 0 -10.66 0zM1167.0 248.6a4.93 4.93 0 1 0 9.86 0a4.93 4.93 0 1 0 -9.86 0zM1204.5 248.6a4.32 4.32 0 1 0 8.64 0a4.32 4.32 0 1 0 -8.64 0zM1242.4 248.6a3.3 3.3 0 1 0 6.60 0a3.3 3.3 0 1 0 -6.60 0zM761.1 285.4a5.53 5.53 0 1 0 11.06 0a5.53 5.53 0 1 0 -11.06 0zM798.7 285.4a4.72 4.72 0 1 0 9.44 0a4.72 4.72 0 1 0 -9.44 0zM837.0 285.4a3.3 3.3 0 1 0 6.60 0a3.3 3.3 0 1 0 -6.60 0zM873.4 285.4a3.71 3.71 0 1 0 7.42 0a3.71 3.71 0 1 0 -7.42 0zM908.5 285.4a5.53 5.53 0 1 0 11.06 0a5.53 5.53 0 1 0 -11.06 0zM945.9 285.4a4.93 4.93 0 1 0 9.86 0a4.93 4.93 0 1 0 -9.86 0zM982.6 285.4a5.13 5.13 0 1 0 10.26 0a5.13 5.13 0 1 0 -10.26 0zM1021.4 285.4a3.1 3.1 0 1 0 6.20 0a3.1 3.1 0 1 0 -6.20 0zM1057.1 285.4a4.32 4.32 0 1 0 8.64 0a4.32 4.32 0 1 0 -8.64 0zM1093.1 285.4a5.13 5.13 0 1 0 10.26 0a5.13 5.13 0 1 0 -10.26 0zM1131.6 285.4a3.5 3.5 0 1 0 7.00 0a3.5 3.5 0 1 0 -7.00 0zM1168.0 285.4a3.91 3.91 0 1 0 7.82 0a3.91 3.91 0 1 0 -7.82 0zM1203.9 285.4a4.93 4.93 0 1 0 9.86 0a4.93 4.93 0 1 0 -9.86 0zM1241.7 285.4a3.91 3.91 0 1 0 7.82 0a3.91 3.91 0 1 0 -7.82 0zM762.1 322.2a4.52 4.52 0 1 0 9.04 0a4.52 4.52 0 1 0 -9.04 0zM797.9 322.2a5.53 5.53 0 1 0 11.06 0a5.53 5.53 0 1 0 -11.06 0zM836.0 322.2a4.32 4.32 0 1 0 8.64 0a4.32 4.32 0 1 0 -8.64 0zM873.2 322.2a3.91 3.91 0 1 0 7.82 0a3.91 3.91 0 1 0 -7.82 0zM908.7 322.2a5.33 5.33 0 1 0 10.66 0a5.33 5.33 0 1 0 -10.66 0zM946.7 322.2a4.11 4.11 0 1 0 8.22 0a4.11 4.11 0 1 0 -8.22 0zM984.0 322.2a3.71 3.71 0 1 0 7.42 0a3.71 3.71 0 1 0 -7.42 0zM1019.0 322.2a5.53 5.53 0 1 0 11.06 0a5.53 5.53 0 1 0 -11.06 0zM1057.9 322.2a3.5 3.5 0 1 0 7.00 0a3.5 3.5 0 1 0 -7.00 0zM1094.5 322.2a3.71 3.71 0 1 0 7.42 0a3.71 3.71 0 1 0 -7.42 0zM1130.6 322.2a4.52 4.52 0 1 0 9.04 0a4.52 4.52 0 1 0 -9.04 0zM1168.7 322.2a3.3 3.3 0 1 0 6.60 0a3.3 3.3 0 1 0 -6.60 0zM1204.5 322.2a4.32 4.32 0 1 0 8.64 0a4.32 4.32 0 1 0 -8.64 0zM1240.3 322.2a5.33 5.33 0 1 0 10.66 0a5.33 5.33 0 1 0 -10.66 0zM761.1 359.1a5.53 5.53 0 1 0 11.06 0a5.53 5.53 0 1 0 -11.06 0zM800.0 359.1a3.5 3.5 0 1 0 7.00 0a3.5 3.5 0 1 0 -7.00 0zM836.5 359.1a3.81 3.81 0 1 0 7.62 0a3.81 3.81 0 1 0 -7.62 0zM873.4 359.1a3.71 3.71 0 1 0 7.42 0a3.71 3.71 0 1 0 -7.42 0zM909.3 359.1a4.72 4.72 0 1 0 9.44 0a4.72 4.72 0 1 0 -9.44 0zM946.1 359.1a4.72 4.72 0 1 0 9.44 0a4.72 4.72 0 1 0 -9.44 0zM983.8 359.1a3.91 3.91 0 1 0 7.82 0a3.91 3.91 0 1 0 -7.82 0zM1018.8 359.1a5.74 5.74 0 1 0 11.48 0a5.74 5.74 0 1 0 -11.48 0zM1057.7 359.1a3.71 3.71 0 1 0 7.42 0a3.71 3.71 0 1 0 -7.42 0zM1093.5 359.1a4.72 4.72 0 1 0 9.44 0a4.72 4.72 0 1 0 -9.44 0zM1130.6 359.1a4.52 4.52 0 1 0 9.04 0a4.52 4.52 0 1 0 -9.04 0zM1166.8 359.1a5.13 5.13 0 1 0 10.26 0a5.13 5.13 0 1 0 -10.26 0zM1203.7 359.1a5.13 5.13 0 1 0 10.26 0a5.13 5.13 0 1 0 -10.26 0zM1242.4 359.1a3.3 3.3 0 1 0 6.60 0a3.3 3.3 0 1 0 -6.60 0zM762.7 396.0a3.91 3.91 0 1 0 7.82 0a3.91 3.91 0 1 0 -7.82 0zM799.3 396.0a4.11 4.11 0 1 0 8.22 0a4.11 4.11 0 1 0 -8.22 0zM835.2 396.0a5.13 5.13 0 1 0 10.26 0a5.13 5.13 0 1 0 -10.26 0zM871.8 396.0a5.33 5.33 0 1 0 10.66 0a5.33 5.33 0 1 0 -10.66 0zM909.1 396.0a4.93 4.93 0 1 0 9.86 0a4.93 4.93 0 1 0 -9.86 0zM946.9 396.0a3.91 3.91 0 1 0 7.82 0a3.91 3.91 0 1 0 -7.82 0zM983.8 396.0a3.91 3.91 0 1 0 7.82 0a3.91 3.91 0 1 0 -7.82 0zM1020.8 396.0a3.71 3.71 0 1 0 7.42 0a3.71 3.71 0 1 0 -7.42 0zM1056.9 396.0a4.52 4.52 0 1 0 9.04 0a4.52 4.52 0 1 0 -9.04 0zM1093.9 396.0a4.32 4.32 0 1 0 8.64 0a4.32 4.32 0 1 0 -8.64 0zM1131.0 396.0a4.11 4.11 0 1 0 8.22 0a4.11 4.11 0 1 0 -8.22 0zM1167.8 396.0a4.11 4.11 0 1 0 8.22 0a4.11 4.11 0 1 0 -8.22 0zM1205.5 396.0a3.3 3.3 0 1 0 6.60 0a3.3 3.3 0 1 0 -6.60 0zM1241.1 396.0a4.52 4.52 0 1 0 9.04 0a4.52 4.52 0 1 0 -9.04 0zM1285.7 27.5a3.71 3.71 0 1 0 7.42 0a3.71 3.71 0 1 0 -7.42 0zM1322.1 27.5a4.11 4.11 0 1 0 8.22 0a4.11 4.11 0 1 0 -8.22 0zM1358.4 27.5a4.72 4.72 0 1 0 9.44 0a4.72 4.72 0 1 0 -9.44 0zM1395.8 27.5a4.11 4.11 0 1 0 8.22 0a4.11 4.11 0 1 0 -8.22 0zM1432.7 27.5a4.11 4.11 0 1 0 8.22 0a4.11 4.11 0 1 0 -8.22 0zM1468.1 27.5a5.53 5.53 0 1 0 11.06 0a5.53 5.53 0 1 0 -11.06 0zM1284.2 64.3a5.23 5.23 0 1 0 10.46 0a5.23 5.23 0 1 0 -10.46 0zM1322.3 64.3a3.91 3.91 0 1 0 7.82 0a3.91 3.91 0 1 0 -7.82 0zM1359.2 64.3a3.91 3.91 0 1 0 7.82 0a3.91 3.91 0 1 0 -7.82 0zM1395.9 64.3a4.01 4.01 0 1 0 8.02 0a4.01 4.01 0 1 0 -8.02 0zM1431.3 64.3a5.53 5.53 0 1 0 11.06 0a5.53 5.53 0 1 0 -11.06 0zM1469.3 64.3a4.32 4.32 0 1 0 8.64 0a4.32 4.32 0 1 0 -8.64 0zM1285.6 101.2a3.81 3.81 0 1 0 7.62 0a3.81 3.81 0 1 0 -7.62 0zM1320.9 101.2a5.33 5.33 0 1 0 10.66 0a5.33 5.33 0 1 0 -10.66 0zM1357.8 101.2a5.33 5.33 0 1 0 10.66 0a5.33 5.33 0 1 0 -10.66 0zM1396.9 101.2a3.1 3.1 0 1 0 6.20 0a3.1 3.1 0 1 0 -6.20 0zM1432.1 101.2a4.72 4.72 0 1 0 9.44 0a4.72 4.72 0 1 0 -9.44 0zM1469.5 101.2a4.11 4.11 0 1 0 8.22 0a4.11 4.11 0 1 0 -8.22 0zM1284.9 138.0a4.52 4.52 0 1 0 9.04 0a4.52 4.52 0 1 0 -9.04 0zM1321.9 138.0a4.32 4.32 0 1 0 8.64 0a4.32 4.32 0 1 0 -8.64 0zM1357.6 138.0a5.53 5.53 0 1 0 11.06 0a5.53 5.53 0 1 0 -11.06 0zM1394.4 138.0a5.53 5.53 0 1 0 11.06 0a5.53 5.53 0 1 0 -11.06 0zM1431.3 138.0a5.53 5.53 0 1 0 11.06 0a5.53 5.53 0 1 0 -11.06 0zM1469.9 138.0a3.71 3.71 0 1 0 7.42 0a3.71 3.71 0 1 0 -7.42 0zM1284.1 174.8a5.33 5.33 0 1 0 10.66 0a5.33 5.33 0 1 0 -10.66 0zM1320.9 174.8a5.33 5.33 0 1 0 10.66 0a5.33 5.33 0 1 0 -10.66 0zM1358.6 174.8a4.52 4.52 0 1 0 9.04 0a4.52 4.52 0 1 0 -9.04 0zM1394.4 174.8a5.53 5.53 0 1 0 11.06 0a5.53 5.53 0 1 0 -11.06 0zM1431.7 174.8a5.13 5.13 0 1 0 10.26 0a5.13 5.13 0 1 0 -10.26 0zM1468.1 174.8a5.53 5.53 0 1 0 11.06 0a5.53 5.53 0 1 0 -11.06 0zM1285.3 211.7a4.11 4.11 0 1 0 8.22 0a4.11 4.11 0 1 0 -8.22 0zM1322.3 211.7a3.91 3.91 0 1 0 7.82 0a3.91 3.91 0 1 0 -7.82 0zM1359.4 211.7a3.71 3.71 0 1 0 7.42 0a3.71 3.71 0 1 0 -7.42 0zM1396.0 211.7a3.91 3.91 0 1 0 7.82 0a3.91 3.91 0 1 0 -7.82 0zM1432.5 211.7a4.32 4.32 0 1 0 8.64 0a4.32 4.32 0 1 0 -8.64 0zM1468.3 211.7a5.33 5.33 0 1 0 10.66 0a5.33 5.33 0 1 0 -10.66 0zM1284.3 248.6a5.13 5.13 0 1 0 10.26 0a5.13 5.13 0 1 0 -10.26 0zM1321.5 248.6a4.72 4.72 0 1 0 9.44 0a4.72 4.72 0 1 0 -9.44 0zM1358.2 248.6a4.93 4.93 0 1 0 9.86 0a4.93 4.93 0 1 0 -9.86 0zM1394.6 248.6a5.33 5.33 0 1 0 10.66 0a5.33 5.33 0 1 0 -10.66 0zM1431.3 248.6a5.53 5.53 0 1 0 11.06 0a5.53 5.53 0 1 0 -11.06 0zM1469.5 248.6a4.11 4.11 0 1 0 8.22 0a4.11 4.11 0 1 0 -8.22 0zM1283.9 285.4a5.53 5.53 0 1 0 11.06 0a5.53 5.53 0 1 0 -11.06 0zM1321.5 285.4a4.72 4.72 0 1 0 9.44 0a4.72 4.72 0 1 0 -9.44 0zM1359.8 285.4a3.3 3.3 0 1 0 6.60 0a3.3 3.3 0 1 0 -6.60 0zM1396.2 285.4a3.71 3.71 0 1 0 7.42 0a3.71 3.71 0 1 0 -7.42 0zM1431.3 285.4a5.53 5.53 0 1 0 11.06 0a5.53 5.53 0 1 0 -11.06 0zM1468.7 285.4a4.93 4.93 0 1 0 9.86 0a4.93 4.93 0 1 0 -9.86 0zM1284.9 322.2a4.52 4.52 0 1 0 9.04 0a4.52 4.52 0 1 0 -9.04 0zM1320.7 322.2a5.53 5.53 0 1 0 11.06 0a5.53 5.53 0 1 0 -11.06 0zM1358.8 322.2a4.32 4.32 0 1 0 8.64 0a4.32 4.32 0 1 0 -8.64 0zM1396.0 322.2a3.91 3.91 0 1 0 7.82 0a3.91 3.91 0 1 0 -7.82 0zM1431.5 322.2a5.33 5.33 0 1 0 10.66 0a5.33 5.33 0 1 0 -10.66 0zM1469.5 322.2a4.11 4.11 0 1 0 8.22 0a4.11 4.11 0 1 0 -8.22 0zM1283.9 359.1a5.53 5.53 0 1 0 11.06 0a5.53 5.53 0 1 0 -11.06 0zM1322.8 359.1a3.5 3.5 0 1 0 7.00 0a3.5 3.5 0 1 0 -7.00 0zM1359.3 359.1a3.81 3.81 0 1 0 7.62 0a3.81 3.81 0 1 0 -7.62 0zM1396.2 359.1a3.71 3.71 0 1 0 7.42 0a3.71 3.71 0 1 0 -7.42 0zM1432.1 359.1a4.72 4.72 0 1 0 9.44 0a4.72 4.72 0 1 0 -9.44 0zM1468.9 359.1a4.72 4.72 0 1 0 9.44 0a4.72 4.72 0 1 0 -9.44 0zM1285.5 396.0a3.91 3.91 0 1 0 7.82 0a3.91 3.91 0 1 0 -7.82 0zM1322.1 396.0a4.11 4.11 0 1 0 8.22 0a4.11 4.11 0 1 0 -8.22 0zM1358.0 396.0a5.13 5.13 0 1 0 10.26 0a5.13 5.13 0 1 0 -10.26 0zM1394.6 396.0a5.33 5.33 0 1 0 10.66 0a5.33 5.33 0 1 0 -10.66 0zM1431.9 396.0a4.93 4.93 0 1 0 9.86 0a4.93 4.93 0 1 0 -9.86 0zM1469.7 396.0a3.91 3.91 0 1 0 7.82 0a3.91 3.91 0 1 0 -7.82 0zM12.1 439.3a5.03 5.03 0 1 0 10.06 0a5.03 5.03 0 1 0 -10.06 0zM48.5 439.3a5.43 5.43 0 1 0 10.86 0a5.43 5.43 0 1 0 -10.86 0zM85.7 439.3a5.13 5.13 0 1 0 10.26 0a5.13 5.13 0 1 0 -10.26 0zM123.9 439.3a3.71 3.71 0 1 0 7.42 0a3.71 3.71 0 1 0 -7.42 0zM160.1 439.3a4.42 4.42 0 1 0 8.84 0a4.42 4.42 0 1 0 -8.84 0zM198.1 439.3a3.3 3.3 0 1 0 6.60 0a3.3 3.3 0 1 0 -6.60 0zM13.5 476.2a3.6 3.6 0 1 0 7.20 0a3.6 3.6 0 1 0 -7.20 0zM49.0 476.2a4.93 4.93 0 1 0 9.86 0a4.93 4.93 0 1 0 -9.86 0zM86.3 476.2a4.52 4.52 0 1 0 9.04 0a4.52 4.52 0 1 0 -9.04 0zM122.4 476.2a5.23 5.23 0 1 0 10.46 0a5.23 5.23 0 1 0 -10.46 0zM160.2 476.2a4.32 4.32 0 1 0 8.64 0a4.32 4.32 0 1 0 -8.64 0zM197.2 476.2a4.11 4.11 0 1 0 8.22 0a4.11 4.11 0 1 0 -8.22 0zM13.6 513.0a3.5 3.5 0 1 0 7.00 0a3.5 3.5 0 1 0 -7.00 0zM49.9 513.0a4.01 4.01 0 1 0 8.02 0a4.01 4.01 0 1 0 -8.02 0zM86.5 513.0a4.32 4.32 0 1 0 8.64 0a4.32 4.32 0 1 0 -8.64 0zM122.8 513.0a4.82 4.82 0 1 0 9.64 0a4.82 4.82 0 1 0 -9.64 0zM159.9 513.0a4.62 4.62 0 1 0 9.24 0a4.62 4.62 0 1 0 -9.24 0zM197.2 513.0a4.11 4.11 0 1 0 8.22 0a4.11 4.11 0 1 0 -8.22 0zM11.8 549.9a5.33 5.33 0 1 0 10.66 0a5.33 5.33 0 1 0 -10.66 0zM48.8 549.9a5.13 5.13 0 1 0 10.26 0a5.13 5.13 0 1 0 -10.26 0zM85.5 549.9a5.33 5.33 0 1 0 10.66 0a5.33 5.33 0 1 0 -10.66 0zM124.4 549.9a3.3 3.3 0 1 0 6.60 0a3.3 3.3 0 1 0 -6.60 0zM159.8 549.9a4.72 4.72 0 1 0 9.44 0a4.72 4.72 0 1 0 -9.44 0zM195.8 549.9a5.53 5.53 0 1 0 11.06 0a5.53 5.53 0 1 0 -11.06 0zM12.6 586.7a4.52 4.52 0 1 0 9.04 0a4.52 4.52 0 1 0 -9.04 0zM50.0 586.7a3.91 3.91 0 1 0 7.82 0a3.91 3.91 0 1 0 -7.82 0zM86.1 586.7a4.72 4.72 0 1 0 9.44 0a4.72 4.72 0 1 0 -9.44 0zM122.7 586.7a4.93 4.93 0 1 0 9.86 0a4.93 4.93 0 1 0 -9.86 0zM160.8 586.7a3.71 3.71 0 1 0 7.42 0a3.71 3.71 0 1 0 -7.42 0zM196.2 586.7a5.13 5.13 0 1 0 10.26 0a5.13 5.13 0 1 0 -10.26 0zM12.4 623.5a4.72 4.72 0 1 0 9.44 0a4.72 4.72 0 1 0 -9.44 0zM48.8 623.5a5.13 5.13 0 1 0 10.26 0a5.13 5.13 0 1 0 -10.26 0zM85.5 623.5a5.33 5.33 0 1 0 10.66 0a5.33 5.33 0 1 0 -10.66 0zM123.3 623.5a4.32 4.32 0 1 0 8.64 0a4.32 4.32 0 1 0 -8.64 0zM160.8 623.5a3.71 3.71 0 1 0 7.42 0a3.71 3.71 0 1 0 -7.42 0zM196.2 623.5a5.13 5.13 0 1 0 10.26 0a5.13 5.13 0 1 0 -10.26 0zM12.2 660.4a4.93 4.93 0 1 0 9.86 0a4.93 4.93 0 1 0 -9.86 0zM49.8 660.4a4.11 4.11 0 1 0 8.22 0a4.11 4.11 0 1 0 -8.22 0zM86.3 660.4a4.52 4.52 0 1 0 9.04 0a4.52 4.52 0 1 0 -9.04 0zM123.5 660.4a4.11 4.11 0 1 0 8.22 0a4.11 4.11 0 1 0 -8.22 0zM160.4 660.4a4.11 4.11 0 1 0 8.22 0a4.11 4.11 0 1 0 -8.22 0zM197.4 660.4a3.91 3.91 0 1 0 7.82 0a3.91 3.91 0 1 0 -7.82 0zM11.8 697.2a5.33 5.33 0 1 0 10.66 0a5.33 5.33 0 1 0 -10.66 0zM50.2 697.2a3.71 3.71 0 1 0 7.42 0a3.71 3.71 0 1 0 -7.42 0zM85.3 697.2a5.53 5.53 0 1 0 11.06 0a5.53 5.53 0 1 0 -11.06 0zM124.2 697.2a3.5 3.5 0 1 0 7.00 0a3.5 3.5 0 1 0 -7.00 0zM160.2 697.2a4.32 4.32 0 1 0 8.64 0a4.32 4.32 0 1 0 -8.64 0zM198.1 697.2a3.3 3.3 0 1 0 6.60 0a3.3 3.3 0 1 0 -6.60 0zM12.8 734.1a4.32 4.32 0 1 0 8.64 0a4.32 4.32 0 1 0 -8.64 0zM48.8 734.1a5.13 5.13 0 1 0 10.26 0a5.13 5.13 0 1 0 -10.26 0zM86.7 734.1a4.11 4.11 0 1 0 8.22 0a4.11 4.11 0 1 0 -8.22 0zM123.7 734.1a3.91 3.91 0 1 0 7.82 0a3.91 3.91 0 1 0 -7.82 0zM161.2 734.1a3.3 3.3 0 1 0 6.60 0a3.3 3.3 0 1 0 -6.60 0zM197.9 734.1a3.5 3.5 0 1 0 7.00 0a3.5 3.5 0 1 0 -7.00 0zM12.4 771.0a4.72 4.72 0 1 0 9.44 0a4.72 4.72 0 1 0 -9.44 0zM50.2 771.0a3.71 3.71 0 1 0 7.42 0a3.71 3.71 0 1 0 -7.42 0zM85.5 771.0a5.33 5.33 0 1 0 10.66 0a5.33 5.33 0 1 0 -10.66 0zM122.7 771.0a4.93 4.93 0 1 0 9.86 0a4.93 4.93 0 1 0 -9.86 0zM160.2 771.0a4.32 4.32 0 1 0 8.64 0a4.32 4.32 0 1 0 -8.64 0zM198.1 771.0a3.3 3.3 0 1 0 6.60 0a3.3 3.3 0 1 0 -6.60 0zM12.8 807.8a4.32 4.32 0 1 0 8.64 0a4.32 4.32 0 1 0 -8.64 0zM48.8 807.8a5.13 5.13 0 1 0 10.26 0a5.13 5.13 0 1 0 -10.26 0zM87.3 807.8a3.5 3.5 0 1 0 7.00 0a3.5 3.5 0 1 0 -7.00 0zM123.7 807.8a3.91 3.91 0 1 0 7.82 0a3.91 3.91 0 1 0 -7.82 0zM159.6 807.8a4.93 4.93 0 1 0 9.86 0a4.93 4.93 0 1 0 -9.86 0zM197.4 807.8a3.91 3.91 0 1 0 7.82 0a3.91 3.91 0 1 0 -7.82 0zM13.6 844.7a3.5 3.5 0 1 0 7.00 0a3.5 3.5 0 1 0 -7.00 0zM50.2 844.7a3.71 3.71 0 1 0 7.42 0a3.71 3.71 0 1 0 -7.42 0zM86.3 844.7a4.52 4.52 0 1 0 9.04 0a4.52 4.52 0 1 0 -9.04 0zM124.4 844.7a3.3 3.3 0 1 0 6.60 0a3.3 3.3 0 1 0 -6.60 0zM160.2 844.7a4.32 4.32 0 1 0 8.64 0a4.32 4.32 0 1 0 -8.64 0zM196.0 844.7a5.33 5.33 0 1 0 10.66 0a5.33 5.33 0 1 0 -10.66 0zM13.4 881.5a3.71 3.71 0 1 0 7.42 0a3.71 3.71 0 1 0 -7.42 0zM49.2 881.5a4.72 4.72 0 1 0 9.44 0a4.72 4.72 0 1 0 -9.44 0zM86.3 881.5a4.52 4.52 0 1 0 9.04 0a4.52 4.52 0 1 0 -9.04 0zM122.5 881.5a5.13 5.13 0 1 0 10.26 0a5.13 5.13 0 1 0 -10.26 0zM159.4 881.5a5.13 5.13 0 1 0 10.26 0a5.13 5.13 0 1 0 -10.26 0zM198.1 881.5a3.3 3.3 0 1 0 6.60 0a3.3 3.3 0 1 0 -6.60 0zM12.6 918.4a4.52 4.52 0 1 0 9.04 0a4.52 4.52 0 1 0 -9.04 0zM49.6 918.4a4.32 4.32 0 1 0 8.64 0a4.32 4.32 0 1 0 -8.64 0zM86.7 918.4a4.11 4.11 0 1 0 8.22 0a4.11 4.11 0 1 0 -8.22 0zM123.5 918.4a4.11 4.11 0 1 0 8.22 0a4.11 4.11 0 1 0 -8.22 0zM161.2 918.4a3.3 3.3 0 1 0 6.60 0a3.3 3.3 0 1 0 -6.60 0zM196.8 918.4a4.52 4.52 0 1 0 9.04 0a4.52 4.52 0 1 0 -9.04 0zM240.1 439.3a4.32 4.32 0 1 0 8.64 0a4.32 4.32 0 1 0 -8.64 0zM277.5 439.3a3.71 3.71 0 1 0 7.42 0a3.71 3.71 0 1 0 -7.42 0zM312.4 439.3a5.74 5.74 0 1 0 11.48 0a5.74 5.74 0 1 0 -11.48 0zM350.6 439.3a4.32 4.32 0 1 0 8.64 0a4.32 4.32 0 1 0 -8.64 0zM387.7 439.3a4.11 4.11 0 1 0 8.22 0a4.11 4.11 0 1 0 -8.22 0zM423.9 439.3a4.72 4.72 0 1 0 9.44 0a4.72 4.72 0 1 0 -9.44 0zM462.2 439.3a3.3 3.3 0 1 0 6.60 0a3.3 3.3 0 1 0 -6.60 0zM497.4 439.3a4.93 4.93 0 1 0 9.86 0a4.93 4.93 0 1 0 -9.86 0zM534.2 439.3a5.03 5.03 0 1 0 10.06 0a5.03 5.03 0 1 0 -10.06 0zM570.6 439.3a5.43 5.43 0 1 0 10.86 0a5.43 5.43 0 1 0 -10.86 0zM607.8 439.3a5.13 5.13 0 1 0 10.26 0a5.13 5.13 0 1 0 -10.26 0zM646.0 439.3a3.71 3.71 0 1 0 7.42 0a3.71 3.71 0 1 0 -7.42 0zM682.2 439.3a4.42 4.42 0 1 0 8.84 0a4.42 4.42 0 1 0 -8.84 0zM720.2 439.3a3.3 3.3 0 1 0 6.60 0a3.3 3.3 0 1 0 -6.60 0zM240.3 476.2a4.11 4.11 0 1 0 8.22 0a4.11 4.11 0 1 0 -8.22 0zM276.7 476.2a4.52 4.52 0 1 0 9.04 0a4.52 4.52 0 1 0 -9.04 0zM314.2 476.2a3.91 3.91 0 1 0 7.82 0a3.91 3.91 0 1 0 -7.82 0zM350.2 476.2a4.72 4.72 0 1 0 9.44 0a4.72 4.72 0 1 0 -9.44 0zM387.7 476.2a4.11 4.11 0 1 0 8.22 0a4.11 4.11 0 1 0 -8.22 0zM423.5 476.2a5.13 5.13 0 1 0 10.26 0a5.13 5.13 0 1 0 -10.26 0zM461.8 476.2a3.71 3.71 0 1 0 7.42 0a3.71 3.71 0 1 0 -7.42 0zM498.0 476.2a4.32 4.32 0 1 0 8.64 0a4.32 4.32 0 1 0 -8.64 0zM535.6 476.2a3.6 3.6 0 1 0 7.20 0a3.6 3.6 0 1 0 -7.20 0zM571.1 476.2a4.93 4.93 0 1 0 9.86 0a4.93 4.93 0 1 0 -9.86 0zM608.4 476.2a4.52 4.52 0 1 0 9.04 0a4.52 4.52 0 1 0 -9.04 0zM644.5 476.2a5.23 5.23 0 1 0 10.46 0a5.23 5.23 0 1 0 -10.46 0zM682.3 476.2a4.32 4.32 0 1 0 8.64 0a4.32 4.32 0 1 0 -8.64 0zM719.3 476.2a4.11 4.11 0 1 0 8.22 0a4.11 4.11 0 1 0 -8.22 0zM239.7 513.0a4.72 4.72 0 1 0 9.44 0a4.72 4.72 0 1 0 -9.44 0zM277.3 513.0a3.91 3.91 0 1 0 7.82 0a3.91 3.91 0 1 0 -7.82 0zM313.0 513.0a5.13 5.13 0 1 0 10.26 0a5.13 5.13 0 1 0 -10.26 0zM350.8 513.0a4.11 4.11 0 1 0 8.22 0a4.11 4.11 0 1 0 -8.22 0zM387.3 513.0a4.52 4.52 0 1 0 9.04 0a4.52 4.52 0 1 0 -9.04 0zM424.9 513.0a3.71 3.71 0 1 0 7.42 0a3.71 3.71 0 1 0 -7.42 0zM460.6 513.0a4.93 4.93 0 1 0 9.86 0a4.93 4.93 0 1 0 -9.86 0zM498.2 513.0a4.11 4.11 0 1 0 8.22 0a4.11 4.11 0 1 0 -8.22 0zM535.7 513.0a3.5 3.5 0 1 0 7.00 0a3.5 3.5 0 1 0 -7.00 0zM572.0 513.0a4.01 4.01 0 1 0 8.02 0a4.01 4.01 0 1 0 -8.02 0zM608.6 513.0a4.32 4.32 0 1 0 8.64 0a4.32 4.32 0 1 0 -8.64 0zM644.9 513.0a4.82 4.82 0 1 0 9.64 0a4.82 4.82 0 1 0 -9.64 0zM682.0 513.0a4.62 4.62 0 1 0 9.24 0a4.62 4.62 0 1 0 -9.24 0zM719.3 513.0a4.11 4.11 0 1 0 8.22 0a4.11 4.11 0 1 0 -8.22 0zM240.7 549.9a3.71 3.71 0 1 0 7.42 0a3.71 3.71 0 1 0 -7.42 0zM277.1 549.9a4.11 4.11 0 1 0 8.22 0a4.11 4.11 0 1 0 -8.22 0zM313.4 549.9a4.72 4.72 0 1 0 9.44 0a4.72 4.72 0 1 0 -9.44 0zM350.8 549.9a4.11 4.11 0 1 0 8.22 0a4.11 4.11 0 1 0 -8.22 0zM387.7 549.9a4.11 4.11 0 1 0 8.22 0a4.11 4.11 0 1 0 -8.22 0zM423.1 549.9a5.53 5.53 0 1 0 11.06 0a5.53 5.53 0 1 0 -11.06 0zM461.8 549.9a3.71 3.71 0 1 0 7.42 0a3.71 3.71 0 1 0 -7.42 0zM498.9 549.9a3.5 3.5 0 1 0 7.00 0a3.5 3.5 0 1 0 -7.00 0zM533.9 549.9a5.33 5.33 0 1 0 10.66 0a5.33 5.33 0 1 0 -10.66 0zM570.9 549.9a5.13 5.13 0 1 0 10.26 0a5.13 5.13 0 1 0 -10.26 0zM607.6 549.9a5.33 5.33 0 1 0 10.66 0a5.33 5.33 0 1 0 -10.66 0zM646.5 549.9a3.3 3.3 0 1 0 6.60 0a3.3 3.3 0 1 0 -6.60 0zM681.9 549.9a4.72 4.72 0 1 0 9.44 0a4.72 4.72 0 1 0 -9.44 0zM717.9 549.9a5.53 5.53 0 1 0 11.06 0a5.53 5.53 0 1 0 -11.06 0zM239.2 586.7a5.23 5.23 0 1 0 10.46 0a5.23 5.23 0 1 0 -10.46 0zM277.3 586.7a3.91 3.91 0 1 0 7.82 0a3.91 3.91 0 1 0 -7.82 0zM314.2 586.7a3.91 3.91 0 1 0 7.82 0a3.91 3.91 0 1 0 -7.82 0zM350.9 586.7a4.01 4.01 0 1 0 8.02 0a4.01 4.01 0 1 0 -8.02 0zM386.3 586.7a5.53 5.53 0 1 0 11.06 0a5.53 5.53 0 1 0 -11.06 0zM424.3 586.7a4.32 4.32 0 1 0 8.64 0a4.32 4.32 0 1 0 -8.64 0zM461.0 586.7a4.52 4.52 0 1 0 9.04 0a4.52 4.52 0 1 0 -9.04 0zM497.7 586.7a4.62 4.62 0 1 0 9.24 0a4.62 4.62 0 1 0 -9.24 0zM534.7 586.7a4.52 4.52 0 1 0 9.04 0a4.52 4.52 0 1 0 -9.04 0zM572.1 586.7a3.91 3.91 0 1 0 7.82 0a3.91 3.91 0 1 0 -7.82 0zM608.2 586.7a4.72 4.72 0 1 0 9.44 0a4.72 4.72 0 1 0 -9.44 0zM644.8 586.7a4.93 4.93 0 1 0 9.86 0a4.93 4.93 0 1 0 -9.86 0zM682.9 586.7a3.71 3.71 0 1 0 7.42 0a3.71 3.71 0 1 0 -7.42 0zM718.3 586.7a5.13 5.13 0 1 0 10.26 0a5.13 5.13 0 1 0 -10.26 0zM240.6 623.5a3.81 3.81 0 1 0 7.62 0a3.81 3.81 0 1 0 -7.62 0zM275.9 623.5a5.33 5.33 0 1 0 10.66 0a5.33 5.33 0 1 0 -10.66 0zM312.8 623.5a5.33 5.33 0 1 0 10.66 0a5.33 5.33 0 1 0 -10.66 0zM351.9 623.5a3.1 3.1 0 1 0 6.20 0a3.1 3.1 0 1 0 -6.20 0zM387.1 623.5a4.72 4.72 0 1 0 9.44 0a4.72 4.72 0 1 0 -9.44 0zM424.5 623.5a4.11 4.11 0 1 0 8.22 0a4.11 4.11 0 1 0 -8.22 0zM461.0 623.5a4.52 4.52 0 1 0 9.04 0a4.52 4.52 0 1 0 -9.04 0zM499.1 623.5a3.3 3.3 0 1 0 6.60 0a3.3 3.3 0 1 0 -6.60 0zM534.5 623.5a4.72 4.72 0 1 0 9.44 0a4.72 4.72 0 1 0 -9.44 0zM570.9 623.5a5.13 5.13 0 1 0 10.26 0a5.13 5.13 0 1 0 -10.26 0zM607.6 623.5a5.33 5.33 0 1 0 10.66 0a5.33 5.33 0 1 0 -10.66 0zM645.4 623.5a4.32 4.32 0 1 0 8.64 0a4.32 4.32 0 1 0 -8.64 0zM682.9 623.5a3.71 3.71 0 1 0 7.42 0a3.71 3.71 0 1 0 -7.42 0zM718.3 623.5a5.13 5.13 0 1 0 10.26 0a5.13 5.13 0 1 0 -10.26 0zM239.9 660.4a4.52 4.52 0 1 0 9.04 0a4.52 4.52 0 1 0 -9.04 0zM276.9 660.4a4.32 4.32 0 1 0 8.64 0a4.32 4.32 0 1 0 -8.64 0zM312.6 660.4a5.53 5.53 0 1 0 11.06 0a5.53 5.53 0 1 0 -11.06 0zM349.4 660.4a5.53 5.53 0 1 0 11.06 0a5.53 5.53 0 1 0 -11.06 0zM386.3 660.4a5.53 5.53 0 1 0 11.06 0a5.53 5.53 0 1 0 -11.06 0zM424.9 660.4a3.71 3.71 0 1 0 7.42 0a3.71 3.71 0 1 0 -7.42 0zM461.5 660.4a4.01 4.01 0 1 0 8.02 0a4.01 4.01 0 1 0 -8.02 0zM496.8 660.4a5.53 5.53 0 1 0 11.06 0a5.53 5.53 0 1 0 -11.06 0zM534.3 660.4a4.93 4.93 0 1 0 9.86 0a4.93 4.93 0 1 0 -9.86 0zM571.9 660.4a4.11 4.11 0 1 0 8.22 0a4.11 4.11 0 1 0 -8.22 0zM608.4 660.4a4.52 4.52 0 1 0 9.04 0a4.52 4.52 0 1 0 -9.04 0zM645.6 660.4a4.11 4.11 0 1 0 8.22 0a4.11 4.11 0 1 0 -8.22 0zM682.5 660.4a4.11 4.11 0 1 0 8.22 0a4.11 4.11 0 1 0 -8.22 0zM719.5 660.4a3.91 3.91 0 1 0 7.82 0a3.91 3.91 0 1 0 -7.82 0zM239.1 697.2a5.33 5.33 0 1 0 10.66 0a5.33 5.33 0 1 0 -10.66 0zM275.9 697.2a5.33 5.33 0 1 0 10.66 0a5.33 5.33 0 1 0 -10.66 0zM313.6 697.2a4.52 4.52 0 1 0 9.04 0a4.52 4.52 0 1 0 -9.04 0zM349.4 697.2a5.53 5.53 0 1 0 11.06 0a5.53 5.53 0 1 0 -11.06 0zM386.7 697.2a5.13 5.13 0 1 0 10.26 0a5.13 5.13 0 1 0 -10.26 0zM423.1 697.2a5.53 5.53 0 1 0 11.06 0a5.53 5.53 0 1 0 -11.06 0zM461.8 697.2a3.71 3.71 0 1 0 7.42 0a3.71 3.71 0 1 0 -7.42 0zM497.8 697.2a4.52 4.52 0 1 0 9.04 0a4.52 4.52 0 1 0 -9.04 0zM533.9 697.2a5.33 5.33 0 1 0 10.66 0a5.33 5.33 0 1 0 -10.66 0zM572.3 697.2a3.71 3.71 0 1 0 7.42 0a3.71 3.71 0 1 0 -7.42 0zM607.4 697.2a5.53 5.53 0 1 0 11.06 0a5.53 5.53 0 1 0 -11.06 0zM646.2 697.2a3.5 3.5 0 1 0 7.00 0a3.5 3.5 0 1 0 -7.00 0zM682.3 697.2a4.32 4.32 0 1 0 8.64 0a4.32 4.32 0 1 0 -8.64 0zM720.2 697.2a3.3 3.3 0 1 0 6.60 0a3.3 3.3 0 1 0 -6.60 0zM240.3 734.1a4.11 4.11 0 1 0 8.22 0a4.11 4.11 0 1 0 -8.22 0zM277.3 734.1a3.91 3.91 0 1 0 7.82 0a3.91 3.91 0 1 0 -7.82 0zM314.4 734.1a3.71 3.71 0 1 0 7.42 0a3.71 3.71 0 1 0 -7.42 0zM351.0 734.1a3.91 3.91 0 1 0 7.82 0a3.91 3.91 0 1 0 -7.82 0zM387.5 734.1a4.32 4.32 0 1 0 8.64 0a4.32 4.32 0 1 0 -8.64 0zM423.3 734.1a5.33 5.33 0 1 0 10.66 0a5.33 5.33 0 1 0 -10.66 0zM462.2 734.1a3.3 3.3 0 1 0 6.60 0a3.3 3.3 0 1 0 -6.60 0zM497.0 734.1a5.33 5.33 0 1 0 10.66 0a5.33 5.33 0 1 0 -10.66 0zM534.9 734.1a4.32 4.32 0 1 0 8.64 0a4.32 4.32 0 1 0 -8.64 0zM570.9 734.1a5.13 5.13 0 1 0 10.26 0a5.13 5.13 0 1 0 -10.26 0zM608.8 734.1a4.11 4.11 0 1 0 8.22 0a4.11 4.11 0 1 0 -8.22 0zM645.8 734.1a3.91 3.91 0 1 0 7.82 0a3.91 3.91 0 1 0 -7.82 0zM683.3 734.1a3.3 3.3 0 1 0 6.60 0a3.3 3.3 0 1 0 -6.60 0zM720.0 734.1a3.5 3.5 0 1 0 7.00 0a3.5 3.5 0 1 0 -7.00 0zM239.3 771.0a5.13 5.13 0 1 0 10.26 0a5.13 5.13 0 1 0 -10.26 0zM276.5 771.0a4.72 4.72 0 1 0 9.44 0a4.72 4.72 0 1 0 -9.44 0zM313.2 771.0a4.93 4.93 0 1 0 9.86 0a4.93 4.93 0 1 0 -9.86 0zM349.6 771.0a5.33 5.33 0 1 0 10.66 0a5.33 5.33 0 1 0 -10.66 0zM386.3 771.0a5.53 5.53 0 1 0 11.06 0a5.53 5.53 0 1 0 -11.06 0zM424.5 771.0a4.11 4.11 0 1 0 8.22 0a4.11 4.11 0 1 0 -8.22 0zM460.8 771.0a4.72 4.72 0 1 0 9.44 0a4.72 4.72 0 1 0 -9.44 0zM499.1 771.0a3.3 3.3 0 1 0 6.60 0a3.3 3.3 0 1 0 -6.60 0zM534.5 771.0a4.72 4.72 0 1 0 9.44 0a4.72 4.72 0 1 0 -9.44 0zM572.3 771.0a3.71 3.71 0 1 0 7.42 0a3.71 3.71 0 1 0 -7.42 0zM607.6 771.0a5.33 5.33 0 1 0 10.66 0a5.33 5.33 0 1 0 -10.66 0zM644.8 771.0a4.93 4.93 0 1 0 9.86 0a4.93 4.93 0 1 0 -9.86 0zM682.3 771.0a4.32 4.32 0 1 0 8.64 0a4.32 4.32 0 1 0 -8.64 0zM720.2 771.0a3.3 3.3 0 1 0 6.60 0a3.3 3.3 0 1 0 -6.60 0zM238.9 807.8a5.53 5.53 0 1 0 11.06 0a5.53 5.53 0 1 0 -11.06 0zM276.5 807.8a4.72 4.72 0 1 0 9.44 0a4.72 4.72 0 1 0 -9.44 0zM314.8 807.8a3.3 3.3 0 1 0 6.60 0a3.3 3.3 0 1 0 -6.60 0zM351.2 807.8a3.71 3.71 0 1 0 7.42 0a3.71 3.71 0 1 0 -7.42 0zM386.3 807.8a5.53 5.53 0 1 0 11.06 0a5.53 5.53 0 1 0 -11.06 0zM423.7 807.8a4.93 4.93 0 1 0 9.86 0a4.93 4.93 0 1 0 -9.86 0zM460.4 807.8a5.13 5.13 0 1 0 10.26 0a5.13 5.13 0 1 0 -10.26 0zM499.2 807.8a3.1 3.1 0 1 0 6.20 0a3.1 3.1 0 1 0 -6.20 0zM534.9 807.8a4.32 4.32 0 1 0 8.64 0a4.32 4.32 0 1 0 -8.64 0zM570.9 807.8a5.13 5.13 0 1 0 10.26 0a5.13 5.13 0 1 0 -10.26 0zM609.4 807.8a3.5 3.5 0 1 0 7.00 0a3.5 3.5 0 1 0 -7.00 0zM645.8 807.8a3.91 3.91 0 1 0 7.82 0a3.91 3.91 0 1 0 -7.82 0zM681.7 807.8a4.93 4.93 0 1 0 9.86 0a4.93 4.93 0 1 0 -9.86 0zM719.5 807.8a3.91 3.91 0 1 0 7.82 0a3.91 3.91 0 1 0 -7.82 0zM239.9 844.7a4.52 4.52 0 1 0 9.04 0a4.52 4.52 0 1 0 -9.04 0zM275.7 844.7a5.53 5.53 0 1 0 11.06 0a5.53 5.53 0 1 0 -11.06 0zM313.8 844.7a4.32 4.32 0 1 0 8.64 0a4.32 4.32 0 1 0 -8.64 0zM351.0 844.7a3.91 3.91 0 1 0 7.82 0a3.91 3.91 0 1 0 -7.82 0zM386.5 844.7a5.33 5.33 0 1 0 10.66 0a5.33 5.33 0 1 0 -10.66 0zM424.5 844.7a4.11 4.11 0 1 0 8.22 0a4.11 4.11 0 1 0 -8.22 0zM461.8 844.7a3.71 3.71 0 1 0 7.42 0a3.71 3.71 0 1 0 -7.42 0zM496.8 844.7a5.53 5.53 0 1 0 11.06 0a5.53 5.53 0 1 0 -11.06 0zM535.7 844.7a3.5 3.5 0 1 0 7.00 0a3.5 3.5 0 1 0 -7.00 0zM572.3 844.7a3.71 3.71 0 1 0 7.42 0a3.71 3.71 0 1 0 -7.42 0zM608.4 844.7a4.52 4.52 0 1 0 9.04 0a4.52 4.52 0 1 0 -9.04 0zM646.5 844.7a3.3 3.3 0 1 0 6.60 0a3.3 3.3 0 1 0 -6.60 0zM682.3 844.7a4.32 4.32 0 1 0 8.64 0a4.32 4.32 0 1 0 -8.64 0zM718.1 844.7a5.33 5.33 0 1 0 10.66 0a5.33 5.33 0 1 0 -10.66 0zM238.9 881.5a5.53 5.53 0 1 0 11.06 0a5.53 5.53 0 1 0 -11.06 0zM277.8 881.5a3.5 3.5 0 1 0 7.00 0a3.5 3.5 0 1 0 -7.00 0zM314.3 881.5a3.81 3.81 0 1 0 7.62 0a3.81 3.81 0 1 0 -7.62 0zM351.2 881.5a3.71 3.71 0 1 0 7.42 0a3.71 3.71 0 1 0 -7.42 0zM387.1 881.5a4.72 4.72 0 1 0 9.44 0a4.72 4.72 0 1 0 -9.44 0zM423.9 881.5a4.72 4.72 0 1 0 9.44 0a4.72 4.72 0 1 0 -9.44 0zM461.6 881.5a3.91 3.91 0 1 0 7.82 0a3.91 3.91 0 1 0 -7.82 0zM496.6 881.5a5.74 5.74 0 1 0 11.48 0a5.74 5.74 0 1 0 -11.48 0zM535.5 881.5a3.71 3.71 0 1 0 7.42 0a3.71 3.71 0 1 0 -7.42 0zM571.3 881.5a4.72 4.72 0 1 0 9.44 0a4.72 4.72 0 1 0 -9.44 0zM608.4 881.5a4.52 4.52 0 1 0 9.04 0a4.52 4.52 0 1 0 -9.04 0zM644.6 881.5a5.13 5.13 0 1 0 10.26 0a5.13 5.13 0 1 0 -10.26 0zM681.5 881.5a5.13 5.13 0 1 0 10.26 0a5.13 5.13 0 1 0 -10.26 0zM720.2 881.5a3.3 3.3 0 1 0 6.60 0a3.3 3.3 0 1 0 -6.60 0zM240.5 918.4a3.91 3.91 0 1 0 7.82 0a3.91 3.91 0 1 0 -7.82 0zM277.1 918.4a4.11 4.11 0 1 0 8.22 0a4.11 4.11 0 1 0 -8.22 0zM313.0 918.4a5.13 5.13 0 1 0 10.26 0a5.13 5.13 0 1 0 -10.26 0zM349.6 918.4a5.33 5.33 0 1 0 10.66 0a5.33 5.33 0 1 0 -10.66 0zM386.9 918.4a4.93 4.93 0 1 0 9.86 0a4.93 4.93 0 1 0 -9.86 0zM424.7 918.4a3.91 3.91 0 1 0 7.82 0a3.91 3.91 0 1 0 -7.82 0zM461.6 918.4a3.91 3.91 0 1 0 7.82 0a3.91 3.91 0 1 0 -7.82 0zM498.6 918.4a3.71 3.71 0 1 0 7.42 0a3.71 3.71 0 1 0 -7.42 0zM534.7 918.4a4.52 4.52 0 1 0 9.04 0a4.52 4.52 0 1 0 -9.04 0zM571.7 918.4a4.32 4.32 0 1 0 8.64 0a4.32 4.32 0 1 0 -8.64 0zM608.8 918.4a4.11 4.11 0 1 0 8.22 0a4.11 4.11 0 1 0 -8.22 0zM645.6 918.4a4.11 4.11 0 1 0 8.22 0a4.11 4.11 0 1 0 -8.22 0zM683.3 918.4a3.3 3.3 0 1 0 6.60 0a3.3 3.3 0 1 0 -6.60 0zM718.9 918.4a4.52 4.52 0 1 0 9.04 0a4.52 4.52 0 1 0 -9.04 0zM762.3 439.3a4.32 4.32 0 1 0 8.64 0a4.32 4.32 0 1 0 -8.64 0zM799.7 439.3a3.71 3.71 0 1 0 7.42 0a3.71 3.71 0 1 0 -7.42 0zM834.6 439.3a5.74 5.74 0 1 0 11.48 0a5.74 5.74 0 1 0 -11.48 0zM872.8 439.3a4.32 4.32 0 1 0 8.64 0a4.32 4.32 0 1 0 -8.64 0zM909.9 439.3a4.11 4.11 0 1 0 8.22 0a4.11 4.11 0 1 0 -8.22 0zM946.1 439.3a4.72 4.72 0 1 0 9.44 0a4.72 4.72 0 1 0 -9.44 0zM984.4 439.3a3.3 3.3 0 1 0 6.60 0a3.3 3.3 0 1 0 -6.60 0zM1019.6 439.3a4.93 4.93 0 1 0 9.86 0a4.93 4.93 0 1 0 -9.86 0zM1056.4 439.3a5.03 5.03 0 1 0 10.06 0a5.03 5.03 0 1 0 -10.06 0zM1092.8 439.3a5.43 5.43 0 1 0 10.86 0a5.43 5.43 0 1 0 -10.86 0zM1130.0 439.3a5.13 5.13 0 1 0 10.26 0a5.13 5.13 0 1 0 -10.26 0zM1168.2 439.3a3.71 3.71 0 1 0 7.42 0a3.71 3.71 0 1 0 -7.42 0zM1204.4 439.3a4.42 4.42 0 1 0 8.84 0a4.42 4.42 0 1 0 -8.84 0zM1242.4 439.3a3.3 3.3 0 1 0 6.60 0a3.3 3.3 0 1 0 -6.60 0zM762.5 476.2a4.11 4.11 0 1 0 8.22 0a4.11 4.11 0 1 0 -8.22 0zM798.9 476.2a4.52 4.52 0 1 0 9.04 0a4.52 4.52 0 1 0 -9.04 0zM836.4 476.2a3.91 3.91 0 1 0 7.82 0a3.91 3.91 0 1 0 -7.82 0zM872.4 476.2a4.72 4.72 0 1 0 9.44 0a4.72 4.72 0 1 0 -9.44 0zM909.9 476.2a4.11 4.11 0 1 0 8.22 0a4.11 4.11 0 1 0 -8.22 0zM945.7 476.2a5.13 5.13 0 1 0 10.26 0a5.13 5.13 0 1 0 -10.26 0zM984.0 476.2a3.71 3.71 0 1 0 7.42 0a3.71 3.71 0 1 0 -7.42 0zM1020.2 476.2a4.32 4.32 0 1 0 8.64 0a4.32 4.32 0 1 0 -8.64 0zM1057.8 476.2a3.6 3.6 0 1 0 7.20 0a3.6 3.6 0 1 0 -7.20 0zM1093.3 476.2a4.93 4.93 0 1 0 9.86 0a4.93 4.93 0 1 0 -9.86 0zM1130.6 476.2a4.52 4.52 0 1 0 9.04 0a4.52 4.52 0 1 0 -9.04 0zM1166.7 476.2a5.23 5.23 0 1 0 10.46 0a5.23 5.23 0 1 0 -10.46 0zM1204.5 476.2a4.32 4.32 0 1 0 8.64 0a4.32 4.32 0 1 0 -8.64 0zM1241.5 476.2a4.11 4.11 0 1 0 8.22 0a4.11 4.11 0 1 0 -8.22 0zM761.9 513.0a4.72 4.72 0 1 0 9.44 0a4.72 4.72 0 1 0 -9.44 0zM799.5 513.0a3.91 3.91 0 1 0 7.82 0a3.91 3.91 0 1 0 -7.82 0zM835.2 513.0a5.13 5.13 0 1 0 10.26 0a5.13 5.13 0 1 0 -10.26 0zM873.0 513.0a4.11 4.11 0 1 0 8.22 0a4.11 4.11 0 1 0 -8.22 0zM909.5 513.0a4.52 4.52 0 1 0 9.04 0a4.52 4.52 0 1 0 -9.04 0zM947.1 513.0a3.71 3.71 0 1 0 7.42 0a3.71 3.71 0 1 0 -7.42 0zM982.8 513.0a4.93 4.93 0 1 0 9.86 0a4.93 4.93 0 1 0 -9.86 0zM1020.4 513.0a4.11 4.11 0 1 0 8.22 0a4.11 4.11 0 1 0 -8.22 0zM1057.9 513.0a3.5 3.5 0 1 0 7.00 0a3.5 3.5 0 1 0 -7.00 0zM1094.2 513.0a4.01 4.01 0 1 0 8.02 0a4.01 4.01 0 1 0 -8.02 0zM1130.8 513.0a4.32 4.32 0 1 0 8.64 0a4.32 4.32 0 1 0 -8.64 0zM1167.1 513.0a4.82 4.82 0 1 0 9.64 0a4.82 4.82 0 1 0 -9.64 0zM1204.2 513.0a4.62 4.62 0 1 0 9.24 0a4.62 4.62 0 1 0 -9.24 0zM1241.5 513.0a4.11 4.11 0 1 0 8.22 0a4.11 4.11 0 1 0 -8.22 0zM762.9 549.9a3.71 3.71 0 1 0 7.42 0a3.71 3.71 0 1 0 -7.42 0zM799.3 549.9a4.11 4.11 0 1 0 8.22 0a4.11 4.11 0 1 0 -8.22 0zM835.6 549.9a4.72 4.72 0 1 0 9.44 0a4.72 4.72 0 1 0 -9.44 0zM873.0 549.9a4.11 4.11 0 1 0 8.22 0a4.11 4.11 0 1 0 -8.22 0zM909.9 549.9a4.11 4.11 0 1 0 8.22 0a4.11 4.11 0 1 0 -8.22 0zM945.3 549.9a5.53 5.53 0 1 0 11.06 0a5.53 5.53 0 1 0 -11.06 0zM984.0 549.9a3.71 3.71 0 1 0 7.42 0a3.71 3.71 0 1 0 -7.42 0zM1021.0 549.9a3.5 3.5 0 1 0 7.00 0a3.5 3.5 0 1 0 -7.00 0zM1056.1 549.9a5.33 5.33 0 1 0 10.66 0a5.33 5.33 0 1 0 -10.66 0zM1093.1 549.9a5.13 5.13 0 1 0 10.26 0a5.13 5.13 0 1 0 -10.26 0zM1129.8 549.9a5.33 5.33 0 1 0 10.66 0a5.33 5.33 0 1 0 -10.66 0zM1168.7 549.9a3.3 3.3 0 1 0 6.60 0a3.3 3.3 0 1 0 -6.60 0zM1204.1 549.9a4.72 4.72 0 1 0 9.44 0a4.72 4.72 0 1 0 -9.44 0zM1240.1 549.9a5.53 5.53 0 1 0 11.06 0a5.53 5.53 0 1 0 -11.06 0zM761.4 586.7a5.23 5.23 0 1 0 10.46 0a5.23 5.23 0 1 0 -10.46 0zM799.5 586.7a3.91 3.91 0 1 0 7.82 0a3.91 3.91 0 1 0 -7.82 0zM836.4 586.7a3.91 3.91 0 1 0 7.82 0a3.91 3.91 0 1 0 -7.82 0zM873.1 586.7a4.01 4.01 0 1 0 8.02 0a4.01 4.01 0 1 0 -8.02 0zM908.5 586.7a5.53 5.53 0 1 0 11.06 0a5.53 5.53 0 1 0 -11.06 0zM946.5 586.7a4.32 4.32 0 1 0 8.64 0a4.32 4.32 0 1 0 -8.64 0zM983.2 586.7a4.52 4.52 0 1 0 9.04 0a4.52 4.52 0 1 0 -9.04 0zM1019.9 586.7a4.62 4.62 0 1 0 9.24 0a4.62 4.62 0 1 0 -9.24 0zM1056.9 586.7a4.52 4.52 0 1 0 9.04 0a4.52 4.52 0 1 0 -9.04 0zM1094.3 586.7a3.91 3.91 0 1 0 7.82 0a3.91 3.91 0 1 0 -7.82 0zM1130.4 586.7a4.72 4.72 0 1 0 9.44 0a4.72 4.72 0 1 0 -9.44 0zM1167.0 586.7a4.93 4.93 0 1 0 9.86 0a4.93 4.93 0 1 0 -9.86 0zM1205.1 586.7a3.71 3.71 0 1 0 7.42 0a3.71 3.71 0 1 0 -7.42 0zM1240.5 586.7a5.13 5.13 0 1 0 10.26 0a5.13 5.13 0 1 0 -10.26 0zM762.8 623.5a3.81 3.81 0 1 0 7.62 0a3.81 3.81 0 1 0 -7.62 0zM798.1 623.5a5.33 5.33 0 1 0 10.66 0a5.33 5.33 0 1 0 -10.66 0zM835.0 623.5a5.33 5.33 0 1 0 10.66 0a5.33 5.33 0 1 0 -10.66 0zM874.1 623.5a3.1 3.1 0 1 0 6.20 0a3.1 3.1 0 1 0 -6.20 0zM909.3 623.5a4.72 4.72 0 1 0 9.44 0a4.72 4.72 0 1 0 -9.44 0zM946.7 623.5a4.11 4.11 0 1 0 8.22 0a4.11 4.11 0 1 0 -8.22 0zM983.2 623.5a4.52 4.52 0 1 0 9.04 0a4.52 4.52 0 1 0 -9.04 0zM1021.2 623.5a3.3 3.3 0 1 0 6.60 0a3.3 3.3 0 1 0 -6.60 0zM1056.7 623.5a4.72 4.72 0 1 0 9.44 0a4.72 4.72 0 1 0 -9.44 0zM1093.1 623.5a5.13 5.13 0 1 0 10.26 0a5.13 5.13 0 1 0 -10.26 0zM1129.8 623.5a5.33 5.33 0 1 0 10.66 0a5.33 5.33 0 1 0 -10.66 0zM1167.6 623.5a4.32 4.32 0 1 0 8.64 0a4.32 4.32 0 1 0 -8.64 0zM1205.1 623.5a3.71 3.71 0 1 0 7.42 0a3.71 3.71 0 1 0 -7.42 0zM1240.5 623.5a5.13 5.13 0 1 0 10.26 0a5.13 5.13 0 1 0 -10.26 0zM762.1 660.4a4.52 4.52 0 1 0 9.04 0a4.52 4.52 0 1 0 -9.04 0zM799.1 660.4a4.32 4.32 0 1 0 8.64 0a4.32 4.32 0 1 0 -8.64 0zM834.8 660.4a5.53 5.53 0 1 0 11.06 0a5.53 5.53 0 1 0 -11.06 0zM871.6 660.4a5.53 5.53 0 1 0 11.06 0a5.53 5.53 0 1 0 -11.06 0zM908.5 660.4a5.53 5.53 0 1 0 11.06 0a5.53 5.53 0 1 0 -11.06 0zM947.1 660.4a3.71 3.71 0 1 0 7.42 0a3.71 3.71 0 1 0 -7.42 0zM983.7 660.4a4.01 4.01 0 1 0 8.02 0a4.01 4.01 0 1 0 -8.02 0zM1019.0 660.4a5.53 5.53 0 1 0 11.06 0a5.53 5.53 0 1 0 -11.06 0zM1056.5 660.4a4.93 4.93 0 1 0 9.86 0a4.93 4.93 0 1 0 -9.86 0zM1094.1 660.4a4.11 4.11 0 1 0 8.22 0a4.11 4.11 0 1 0 -8.22 0zM1130.6 660.4a4.52 4.52 0 1 0 9.04 0a4.52 4.52 0 1 0 -9.04 0zM1167.8 660.4a4.11 4.11 0 1 0 8.22 0a4.11 4.11 0 1 0 -8.22 0zM1204.7 660.4a4.11 4.11 0 1 0 8.22 0a4.11 4.11 0 1 0 -8.22 0zM1241.7 660.4a3.91 3.91 0 1 0 7.82 0a3.91 3.91 0 1 0 -7.82 0zM761.3 697.2a5.33 5.33 0 1 0 10.66 0a5.33 5.33 0 1 0 -10.66 0zM798.1 697.2a5.33 5.33 0 1 0 10.66 0a5.33 5.33 0 1 0 -10.66 0zM835.8 697.2a4.52 4.52 0 1 0 9.04 0a4.52 4.52 0 1 0 -9.04 0zM871.6 697.2a5.53 5.53 0 1 0 11.06 0a5.53 5.53 0 1 0 -11.06 0zM908.9 697.2a5.13 5.13 0 1 0 10.26 0a5.13 5.13 0 1 0 -10.26 0zM945.3 697.2a5.53 5.53 0 1 0 11.06 0a5.53 5.53 0 1 0 -11.06 0zM984.0 697.2a3.71 3.71 0 1 0 7.42 0a3.71 3.71 0 1 0 -7.42 0zM1020.0 697.2a4.52 4.52 0 1 0 9.04 0a4.52 4.52 0 1 0 -9.04 0zM1056.1 697.2a5.33 5.33 0 1 0 10.66 0a5.33 5.33 0 1 0 -10.66 0zM1094.5 697.2a3.71 3.71 0 1 0 7.42 0a3.71 3.71 0 1 0 -7.42 0zM1129.6 697.2a5.53 5.53 0 1 0 11.06 0a5.53 5.53 0 1 0 -11.06 0zM1168.5 697.2a3.5 3.5 0 1 0 7.00 0a3.5 3.5 0 1 0 -7.00 0zM1204.5 697.2a4.32 4.32 0 1 0 8.64 0a4.32 4.32 0 1 0 -8.64 0zM1242.4 697.2a3.3 3.3 0 1 0 6.60 0a3.3 3.3 0 1 0 -6.60 0zM762.5 734.1a4.11 4.11 0 1 0 8.22 0a4.11 4.11 0 1 0 -8.22 0zM799.5 734.1a3.91 3.91 0 1 0 7.82 0a3.91 3.91 0 1 0 -7.82 0zM836.6 734.1a3.71 3.71 0 1 0 7.42 0a3.71 3.71 0 1 0 -7.42 0zM873.2 734.1a3.91 3.91 0 1 0 7.82 0a3.91 3.91 0 1 0 -7.82 0zM909.7 734.1a4.32 4.32 0 1 0 8.64 0a4.32 4.32 0 1 0 -8.64 0zM945.5 734.1a5.33 5.33 0 1 0 10.66 0a5.33 5.33 0 1 0 -10.66 0zM984.4 734.1a3.3 3.3 0 1 0 6.60 0a3.3 3.3 0 1 0 -6.60 0zM1019.2 734.1a5.33 5.33 0 1 0 10.66 0a5.33 5.33 0 1 0 -10.66 0zM1057.1 734.1a4.32 4.32 0 1 0 8.64 0a4.32 4.32 0 1 0 -8.64 0zM1093.1 734.1a5.13 5.13 0 1 0 10.26 0a5.13 5.13 0 1 0 -10.26 0zM1131.0 734.1a4.11 4.11 0 1 0 8.22 0a4.11 4.11 0 1 0 -8.22 0zM1168.0 734.1a3.91 3.91 0 1 0 7.82 0a3.91 3.91 0 1 0 -7.82 0zM1205.5 734.1a3.3 3.3 0 1 0 6.60 0a3.3 3.3 0 1 0 -6.60 0zM1242.2 734.1a3.5 3.5 0 1 0 7.00 0a3.5 3.5 0 1 0 -7.00 0zM761.5 771.0a5.13 5.13 0 1 0 10.26 0a5.13 5.13 0 1 0 -10.26 0zM798.7 771.0a4.72 4.72 0 1 0 9.44 0a4.72 4.72 0 1 0 -9.44 0zM835.4 771.0a4.93 4.93 0 1 0 9.86 0a4.93 4.93 0 1 0 -9.86 0zM871.8 771.0a5.33 5.33 0 1 0 10.66 0a5.33 5.33 0 1 0 -10.66 0zM908.5 771.0a5.53 5.53 0 1 0 11.06 0a5.53 5.53 0 1 0 -11.06 0zM946.7 771.0a4.11 4.11 0 1 0 8.22 0a4.11 4.11 0 1 0 -8.22 0zM983.0 771.0a4.72 4.72 0 1 0 9.44 0a4.72 4.72 0 1 0 -9.44 0zM1021.2 771.0a3.3 3.3 0 1 0 6.60 0a3.3 3.3 0 1 0 -6.60 0zM1056.7 771.0a4.72 4.72 0 1 0 9.44 0a4.72 4.72 0 1 0 -9.44 0zM1094.5 771.0a3.71 3.71 0 1 0 7.42 0a3.71 3.71 0 1 0 -7.42 0zM1129.8 771.0a5.33 5.33 0 1 0 10.66 0a5.33 5.33 0 1 0 -10.66 0zM1167.0 771.0a4.93 4.93 0 1 0 9.86 0a4.93 4.93 0 1 0 -9.86 0zM1204.5 771.0a4.32 4.32 0 1 0 8.64 0a4.32 4.32 0 1 0 -8.64 0zM1242.4 771.0a3.3 3.3 0 1 0 6.60 0a3.3 3.3 0 1 0 -6.60 0zM761.1 807.8a5.53 5.53 0 1 0 11.06 0a5.53 5.53 0 1 0 -11.06 0zM798.7 807.8a4.72 4.72 0 1 0 9.44 0a4.72 4.72 0 1 0 -9.44 0zM837.0 807.8a3.3 3.3 0 1 0 6.60 0a3.3 3.3 0 1 0 -6.60 0zM873.4 807.8a3.71 3.71 0 1 0 7.42 0a3.71 3.71 0 1 0 -7.42 0zM908.5 807.8a5.53 5.53 0 1 0 11.06 0a5.53 5.53 0 1 0 -11.06 0zM945.9 807.8a4.93 4.93 0 1 0 9.86 0a4.93 4.93 0 1 0 -9.86 0zM982.6 807.8a5.13 5.13 0 1 0 10.26 0a5.13 5.13 0 1 0 -10.26 0zM1021.4 807.8a3.1 3.1 0 1 0 6.20 0a3.1 3.1 0 1 0 -6.20 0zM1057.1 807.8a4.32 4.32 0 1 0 8.64 0a4.32 4.32 0 1 0 -8.64 0zM1093.1 807.8a5.13 5.13 0 1 0 10.26 0a5.13 5.13 0 1 0 -10.26 0zM1131.6 807.8a3.5 3.5 0 1 0 7.00 0a3.5 3.5 0 1 0 -7.00 0zM1168.0 807.8a3.91 3.91 0 1 0 7.82 0a3.91 3.91 0 1 0 -7.82 0zM1203.9 807.8a4.93 4.93 0 1 0 9.86 0a4.93 4.93 0 1 0 -9.86 0zM1241.7 807.8a3.91 3.91 0 1 0 7.82 0a3.91 3.91 0 1 0 -7.82 0zM762.1 844.7a4.52 4.52 0 1 0 9.04 0a4.52 4.52 0 1 0 -9.04 0zM797.9 844.7a5.53 5.53 0 1 0 11.06 0a5.53 5.53 0 1 0 -11.06 0zM836.0 844.7a4.32 4.32 0 1 0 8.64 0a4.32 4.32 0 1 0 -8.64 0zM873.2 844.7a3.91 3.91 0 1 0 7.82 0a3.91 3.91 0 1 0 -7.82 0zM908.7 844.7a5.33 5.33 0 1 0 10.66 0a5.33 5.33 0 1 0 -10.66 0zM946.7 844.7a4.11 4.11 0 1 0 8.22 0a4.11 4.11 0 1 0 -8.22 0zM984.0 844.7a3.71 3.71 0 1 0 7.42 0a3.71 3.71 0 1 0 -7.42 0zM1019.0 844.7a5.53 5.53 0 1 0 11.06 0a5.53 5.53 0 1 0 -11.06 0zM1057.9 844.7a3.5 3.5 0 1 0 7.00 0a3.5 3.5 0 1 0 -7.00 0zM1094.5 844.7a3.71 3.71 0 1 0 7.42 0a3.71 3.71 0 1 0 -7.42 0zM1130.6 844.7a4.52 4.52 0 1 0 9.04 0a4.52 4.52 0 1 0 -9.04 0zM1168.7 844.7a3.3 3.3 0 1 0 6.60 0a3.3 3.3 0 1 0 -6.60 0zM1204.5 844.7a4.32 4.32 0 1 0 8.64 0a4.32 4.32 0 1 0 -8.64 0zM1240.3 844.7a5.33 5.33 0 1 0 10.66 0a5.33 5.33 0 1 0 -10.66 0zM761.1 881.5a5.53 5.53 0 1 0 11.06 0a5.53 5.53 0 1 0 -11.06 0zM800.0 881.5a3.5 3.5 0 1 0 7.00 0a3.5 3.5 0 1 0 -7.00 0zM836.5 881.5a3.81 3.81 0 1 0 7.62 0a3.81 3.81 0 1 0 -7.62 0zM873.4 881.5a3.71 3.71 0 1 0 7.42 0a3.71 3.71 0 1 0 -7.42 0zM909.3 881.5a4.72 4.72 0 1 0 9.44 0a4.72 4.72 0 1 0 -9.44 0zM946.1 881.5a4.72 4.72 0 1 0 9.44 0a4.72 4.72 0 1 0 -9.44 0zM983.8 881.5a3.91 3.91 0 1 0 7.82 0a3.91 3.91 0 1 0 -7.82 0zM1018.8 881.5a5.74 5.74 0 1 0 11.48 0a5.74 5.74 0 1 0 -11.48 0zM1057.7 881.5a3.71 3.71 0 1 0 7.42 0a3.71 3.71 0 1 0 -7.42 0zM1093.5 881.5a4.72 4.72 0 1 0 9.44 0a4.72 4.72 0 1 0 -9.44 0zM1130.6 881.5a4.52 4.52 0 1 0 9.04 0a4.52 4.52 0 1 0 -9.04 0zM1166.8 881.5a5.13 5.13 0 1 0 10.26 0a5.13 5.13 0 1 0 -10.26 0zM1203.7 881.5a5.13 5.13 0 1 0 10.26 0a5.13 5.13 0 1 0 -10.26 0zM1242.4 881.5a3.3 3.3 0 1 0 6.60 0a3.3 3.3 0 1 0 -6.60 0zM762.7 918.4a3.91 3.91 0 1 0 7.82 0a3.91 3.91 0 1 0 -7.82 0zM799.3 918.4a4.11 4.11 0 1 0 8.22 0a4.11 4.11 0 1 0 -8.22 0zM835.2 918.4a5.13 5.13 0 1 0 10.26 0a5.13 5.13 0 1 0 -10.26 0zM871.8 918.4a5.33 5.33 0 1 0 10.66 0a5.33 5.33 0 1 0 -10.66 0zM909.1 918.4a4.93 4.93 0 1 0 9.86 0a4.93 4.93 0 1 0 -9.86 0zM946.9 918.4a3.91 3.91 0 1 0 7.82 0a3.91 3.91 0 1 0 -7.82 0zM983.8 918.4a3.91 3.91 0 1 0 7.82 0a3.91 3.91 0 1 0 -7.82 0zM1020.8 918.4a3.71 3.71 0 1 0 7.42 0a3.71 3.71 0 1 0 -7.42 0zM1056.9 918.4a4.52 4.52 0 1 0 9.04 0a4.52 4.52 0 1 0 -9.04 0zM1093.9 918.4a4.32 4.32 0 1 0 8.64 0a4.32 4.32 0 1 0 -8.64 0zM1131.0 918.4a4.11 4.11 0 1 0 8.22 0a4.11 4.11 0 1 0 -8.22 0zM1167.8 918.4a4.11 4.11 0 1 0 8.22 0a4.11 4.11 0 1 0 -8.22 0zM1205.5 918.4a3.3 3.3 0 1 0 6.60 0a3.3 3.3 0 1 0 -6.60 0zM1241.1 918.4a4.52 4.52 0 1 0 9.04 0a4.52 4.52 0 1 0 -9.04 0zM1285.1 439.3a4.32 4.32 0 1 0 8.64 0a4.32 4.32 0 1 0 -8.64 0zM1322.5 439.3a3.71 3.71 0 1 0 7.42 0a3.71 3.71 0 1 0 -7.42 0zM1357.4 439.3a5.74 5.74 0 1 0 11.48 0a5.74 5.74 0 1 0 -11.48 0zM1395.6 439.3a4.32 4.32 0 1 0 8.64 0a4.32 4.32 0 1 0 -8.64 0zM1432.7 439.3a4.11 4.11 0 1 0 8.22 0a4.11 4.11 0 1 0 -8.22 0zM1468.9 439.3a4.72 4.72 0 1 0 9.44 0a4.72 4.72 0 1 0 -9.44 0zM1285.3 476.2a4.11 4.11 0 1 0 8.22 0a4.11 4.11 0 1 0 -8.22 0zM1321.7 476.2a4.52 4.52 0 1 0 9.04 0a4.52 4.52 0 1 0 -9.04 0zM1359.2 476.2a3.91 3.91 0 1 0 7.82 0a3.91 3.91 0 1 0 -7.82 0zM1395.2 476.2a4.72 4.72 0 1 0 9.44 0a4.72 4.72 0 1 0 -9.44 0zM1432.7 476.2a4.11 4.11 0 1 0 8.22 0a4.11 4.11 0 1 0 -8.22 0zM1468.5 476.2a5.13 5.13 0 1 0 10.26 0a5.13 5.13 0 1 0 -10.26 0zM1284.7 513.0a4.72 4.72 0 1 0 9.44 0a4.72 4.72 0 1 0 -9.44 0zM1322.3 513.0a3.91 3.91 0 1 0 7.82 0a3.91 3.91 0 1 0 -7.82 0zM1358.0 513.0a5.13 5.13 0 1 0 10.26 0a5.13 5.13 0 1 0 -10.26 0zM1395.8 513.0a4.11 4.11 0 1 0 8.22 0a4.11 4.11 0 1 0 -8.22 0zM1432.3 513.0a4.52 4.52 0 1 0 9.04 0a4.52 4.52 0 1 0 -9.04 0zM1469.9 513.0a3.71 3.71 0 1 0 7.42 0a3.71 3.71 0 1 0 -7.42 0zM1285.7 549.9a3.71 3.71 0 1 0 7.42 0a3.71 3.71 0 1 0 -7.42 0zM1322.1 549.9a4.11 4.11 0 1 0 8.22 0a4.11 4.11 0 1 0 -8.22 0zM1358.4 549.9a4.72 4.72 0 1 0 9.44 0a4.72 4.72 0 1 0 -9.44 0zM1395.8 549.9a4.11 4.11 0 1 0 8.22 0a4.11 4.11 0 1 0 -8.22 0zM1432.7 549.9a4.11 4.11 0 1 0 8.22 0a4.11 4.11 0 1 0 -8.22 0zM1468.1 549.9a5.53 5.53 0 1 0 11.06 0a5.53 5.53 0 1 0 -11.06 0zM1284.2 586.7a5.23 5.23 0 1 0 10.46 0a5.23 5.23 0 1 0 -10.46 0zM1322.3 586.7a3.91 3.91 0 1 0 7.82 0a3.91 3.91 0 1 0 -7.82 0zM1359.2 586.7a3.91 3.91 0 1 0 7.82 0a3.91 3.91 0 1 0 -7.82 0zM1395.9 586.7a4.01 4.01 0 1 0 8.02 0a4.01 4.01 0 1 0 -8.02 0zM1431.3 586.7a5.53 5.53 0 1 0 11.06 0a5.53 5.53 0 1 0 -11.06 0zM1469.3 586.7a4.32 4.32 0 1 0 8.64 0a4.32 4.32 0 1 0 -8.64 0zM1285.6 623.5a3.81 3.81 0 1 0 7.62 0a3.81 3.81 0 1 0 -7.62 0zM1320.9 623.5a5.33 5.33 0 1 0 10.66 0a5.33 5.33 0 1 0 -10.66 0zM1357.8 623.5a5.33 5.33 0 1 0 10.66 0a5.33 5.33 0 1 0 -10.66 0zM1396.9 623.5a3.1 3.1 0 1 0 6.20 0a3.1 3.1 0 1 0 -6.20 0zM1432.1 623.5a4.72 4.72 0 1 0 9.44 0a4.72 4.72 0 1 0 -9.44 0zM1469.5 623.5a4.11 4.11 0 1 0 8.22 0a4.11 4.11 0 1 0 -8.22 0zM1284.9 660.4a4.52 4.52 0 1 0 9.04 0a4.52 4.52 0 1 0 -9.04 0zM1321.9 660.4a4.32 4.32 0 1 0 8.64 0a4.32 4.32 0 1 0 -8.64 0zM1357.6 660.4a5.53 5.53 0 1 0 11.06 0a5.53 5.53 0 1 0 -11.06 0zM1394.4 660.4a5.53 5.53 0 1 0 11.06 0a5.53 5.53 0 1 0 -11.06 0zM1431.3 660.4a5.53 5.53 0 1 0 11.06 0a5.53 5.53 0 1 0 -11.06 0zM1469.9 660.4a3.71 3.71 0 1 0 7.42 0a3.71 3.71 0 1 0 -7.42 0zM1284.1 697.2a5.33 5.33 0 1 0 10.66 0a5.33 5.33 0 1 0 -10.66 0zM1320.9 697.2a5.33 5.33 0 1 0 10.66 0a5.33 5.33 0 1 0 -10.66 0zM1358.6 697.2a4.52 4.52 0 1 0 9.04 0a4.52 4.52 0 1 0 -9.04 0zM1394.4 697.2a5.53 5.53 0 1 0 11.06 0a5.53 5.53 0 1 0 -11.06 0zM1431.7 697.2a5.13 5.13 0 1 0 10.26 0a5.13 5.13 0 1 0 -10.26 0zM1468.1 697.2a5.53 5.53 0 1 0 11.06 0a5.53 5.53 0 1 0 -11.06 0zM1285.3 734.1a4.11 4.11 0 1 0 8.22 0a4.11 4.11 0 1 0 -8.22 0zM1322.3 734.1a3.91 3.91 0 1 0 7.82 0a3.91 3.91 0 1 0 -7.82 0zM1359.4 734.1a3.71 3.71 0 1 0 7.42 0a3.71 3.71 0 1 0 -7.42 0zM1396.0 734.1a3.91 3.91 0 1 0 7.82 0a3.91 3.91 0 1 0 -7.82 0zM1432.5 734.1a4.32 4.32 0 1 0 8.64 0a4.32 4.32 0 1 0 -8.64 0zM1468.3 734.1a5.33 5.33 0 1 0 10.66 0a5.33 5.33 0 1 0 -10.66 0zM1284.3 771.0a5.13 5.13 0 1 0 10.26 0a5.13 5.13 0 1 0 -10.26 0zM1321.5 771.0a4.72 4.72 0 1 0 9.44 0a4.72 4.72 0 1 0 -9.44 0zM1358.2 771.0a4.93 4.93 0 1 0 9.86 0a4.93 4.93 0 1 0 -9.86 0zM1394.6 771.0a5.33 5.33 0 1 0 10.66 0a5.33 5.33 0 1 0 -10.66 0zM1431.3 771.0a5.53 5.53 0 1 0 11.06 0a5.53 5.53 0 1 0 -11.06 0zM1469.5 771.0a4.11 4.11 0 1 0 8.22 0a4.11 4.11 0 1 0 -8.22 0zM1283.9 807.8a5.53 5.53 0 1 0 11.06 0a5.53 5.53 0 1 0 -11.06 0zM1321.5 807.8a4.72 4.72 0 1 0 9.44 0a4.72 4.72 0 1 0 -9.44 0zM1359.8 807.8a3.3 3.3 0 1 0 6.60 0a3.3 3.3 0 1 0 -6.60 0zM1396.2 807.8a3.71 3.71 0 1 0 7.42 0a3.71 3.71 0 1 0 -7.42 0zM1431.3 807.8a5.53 5.53 0 1 0 11.06 0a5.53 5.53 0 1 0 -11.06 0zM1468.7 807.8a4.93 4.93 0 1 0 9.86 0a4.93 4.93 0 1 0 -9.86 0zM1284.9 844.7a4.52 4.52 0 1 0 9.04 0a4.52 4.52 0 1 0 -9.04 0zM1320.7 844.7a5.53 5.53 0 1 0 11.06 0a5.53 5.53 0 1 0 -11.06 0zM1358.8 844.7a4.32 4.32 0 1 0 8.64 0a4.32 4.32 0 1 0 -8.64 0zM1396.0 844.7a3.91 3.91 0 1 0 7.82 0a3.91 3.91 0 1 0 -7.82 0zM1431.5 844.7a5.33 5.33 0 1 0 10.66 0a5.33 5.33 0 1 0 -10.66 0zM1469.5 844.7a4.11 4.11 0 1 0 8.22 0a4.11 4.11 0 1 0 -8.22 0zM1283.9 881.5a5.53 5.53 0 1 0 11.06 0a5.53 5.53 0 1 0 -11.06 0zM1322.8 881.5a3.5 3.5 0 1 0 7.00 0a3.5 3.5 0 1 0 -7.00 0zM1359.3 881.5a3.81 3.81 0 1 0 7.62 0a3.81 3.81 0 1 0 -7.62 0zM1396.2 881.5a3.71 3.71 0 1 0 7.42 0a3.71 3.71 0 1 0 -7.42 0zM1432.1 881.5a4.72 4.72 0 1 0 9.44 0a4.72 4.72 0 1 0 -9.44 0zM1468.9 881.5a4.72 4.72 0 1 0 9.44 0a4.72 4.72 0 1 0 -9.44 0zM1285.5 918.4a3.91 3.91 0 1 0 7.82 0a3.91 3.91 0 1 0 -7.82 0zM1322.1 918.4a4.11 4.11 0 1 0 8.22 0a4.11 4.11 0 1 0 -8.22 0zM1358.0 918.4a5.13 5.13 0 1 0 10.26 0a5.13 5.13 0 1 0 -10.26 0zM1394.6 918.4a5.33 5.33 0 1 0 10.66 0a5.33 5.33 0 1 0 -10.66 0zM1431.9 918.4a4.93 4.93 0 1 0 9.86 0a4.93 4.93 0 1 0 -9.86 0zM1469.7 918.4a3.91 3.91 0 1 0 7.82 0a3.91 3.91 0 1 0 -7.82 0zM12.1 962.5a5.03 5.03 0 1 0 10.06 0a5.03 5.03 0 1 0 -10.06 0zM48.5 962.5a5.43 5.43 0 1 0 10.86 0a5.43 5.43 0 1 0 -10.86 0zM85.7 962.5a5.13 5.13 0 1 0 10.26 0a5.13 5.13 0 1 0 -10.26 0zM123.9 962.5a3.71 3.71 0 1 0 7.42 0a3.71 3.71 0 1 0 -7.42 0zM160.1 962.5a4.42 4.42 0 1 0 8.84 0a4.42 4.42 0 1 0 -8.84 0zM198.1 962.5a3.3 3.3 0 1 0 6.60 0a3.3 3.3 0 1 0 -6.60 0zM13.5 999.4a3.6 3.6 0 1 0 7.20 0a3.6 3.6 0 1 0 -7.20 0zM49.0 999.4a4.93 4.93 0 1 0 9.86 0a4.93 4.93 0 1 0 -9.86 0zM13.6 1036.2a3.5 3.5 0 1 0 7.00 0a3.5 3.5 0 1 0 -7.00 0zM49.9 1036.2a4.01 4.01 0 1 0 8.02 0a4.01 4.01 0 1 0 -8.02 0zM11.8 1073.0a5.33 5.33 0 1 0 10.66 0a5.33 5.33 0 1 0 -10.66 0zM48.8 1073.0a5.13 5.13 0 1 0 10.26 0a5.13 5.13 0 1 0 -10.26 0zM12.6 1109.9a4.52 4.52 0 1 0 9.04 0a4.52 4.52 0 1 0 -9.04 0zM50.0 1109.9a3.91 3.91 0 1 0 7.82 0a3.91 3.91 0 1 0 -7.82 0zM240.1 962.5a4.32 4.32 0 1 0 8.64 0a4.32 4.32 0 1 0 -8.64 0zM277.5 962.5a3.71 3.71 0 1 0 7.42 0a3.71 3.71 0 1 0 -7.42 0zM312.4 962.5a5.74 5.74 0 1 0 11.48 0a5.74 5.74 0 1 0 -11.48 0zM350.6 962.5a4.32 4.32 0 1 0 8.64 0a4.32 4.32 0 1 0 -8.64 0zM387.7 962.5a4.11 4.11 0 1 0 8.22 0a4.11 4.11 0 1 0 -8.22 0zM423.9 962.5a4.72 4.72 0 1 0 9.44 0a4.72 4.72 0 1 0 -9.44 0zM462.2 962.5a3.3 3.3 0 1 0 6.60 0a3.3 3.3 0 1 0 -6.60 0zM497.4 962.5a4.93 4.93 0 1 0 9.86 0a4.93 4.93 0 1 0 -9.86 0zM534.2 962.5a5.03 5.03 0 1 0 10.06 0a5.03 5.03 0 1 0 -10.06 0zM570.6 962.5a5.43 5.43 0 1 0 10.86 0a5.43 5.43 0 1 0 -10.86 0zM607.8 962.5a5.13 5.13 0 1 0 10.26 0a5.13 5.13 0 1 0 -10.26 0zM646.0 962.5a3.71 3.71 0 1 0 7.42 0a3.71 3.71 0 1 0 -7.42 0zM682.2 962.5a4.42 4.42 0 1 0 8.84 0a4.42 4.42 0 1 0 -8.84 0zM720.2 962.5a3.3 3.3 0 1 0 6.60 0a3.3 3.3 0 1 0 -6.60 0zM762.3 962.5a4.32 4.32 0 1 0 8.64 0a4.32 4.32 0 1 0 -8.64 0zM799.7 962.5a3.71 3.71 0 1 0 7.42 0a3.71 3.71 0 1 0 -7.42 0zM834.6 962.5a5.74 5.74 0 1 0 11.48 0a5.74 5.74 0 1 0 -11.48 0zM872.8 962.5a4.32 4.32 0 1 0 8.64 0a4.32 4.32 0 1 0 -8.64 0zM909.9 962.5a4.11 4.11 0 1 0 8.22 0a4.11 4.11 0 1 0 -8.22 0zM946.1 962.5a4.72 4.72 0 1 0 9.44 0a4.72 4.72 0 1 0 -9.44 0zM984.4 962.5a3.3 3.3 0 1 0 6.60 0a3.3 3.3 0 1 0 -6.60 0zM1019.6 962.5a4.93 4.93 0 1 0 9.86 0a4.93 4.93 0 1 0 -9.86 0zM1056.4 962.5a5.03 5.03 0 1 0 10.06 0a5.03 5.03 0 1 0 -10.06 0zM1092.8 962.5a5.43 5.43 0 1 0 10.86 0a5.43 5.43 0 1 0 -10.86 0zM1130.0 962.5a5.13 5.13 0 1 0 10.26 0a5.13 5.13 0 1 0 -10.26 0zM1168.2 962.5a3.71 3.71 0 1 0 7.42 0a3.71 3.71 0 1 0 -7.42 0zM1204.4 962.5a4.42 4.42 0 1 0 8.84 0a4.42 4.42 0 1 0 -8.84 0zM1242.4 962.5a3.3 3.3 0 1 0 6.60 0a3.3 3.3 0 1 0 -6.60 0zM1285.1 962.5a4.32 4.32 0 1 0 8.64 0a4.32 4.32 0 1 0 -8.64 0zM1322.5 962.5a3.71 3.71 0 1 0 7.42 0a3.71 3.71 0 1 0 -7.42 0zM1357.4 962.5a5.74 5.74 0 1 0 11.48 0a5.74 5.74 0 1 0 -11.48 0zM1395.6 962.5a4.32 4.32 0 1 0 8.64 0a4.32 4.32 0 1 0 -8.64 0zM1432.7 962.5a4.11 4.11 0 1 0 8.22 0a4.11 4.11 0 1 0 -8.22 0zM1468.9 962.5a4.72 4.72 0 1 0 9.44 0a4.72 4.72 0 1 0 -9.44 0z"/></svg>
<!-- bar chart decoration -->
<div class="bar" style="left:1018.4px;top:124px;width:54px;height:82px;background:#36cc98"></div>
<div class="bar" style="left:1094px;top:74.5px;width:54px;height:131px;background:#0b6fe6"></div>
<div class="bar" style="left:1169.5px;top:96px;width:54px;height:110px;background:#5fb3fd"></div>
<div class="bar" style="left:1244.4px;top:47.5px;width:53.8px;height:158px;background:#a3d9ff"></div>

<!-- Market details card -->
<div class="card" id="md" style="left:703.8px;top:202.5px;width:1152.2px;height:551px;border:3px solid #d6dee7;border-radius:22px;box-shadow:0 4px 24px rgba(20,25,35,.17)"></div>
<div style="left:996.6px;top:460.7px;width:799.8px;height:43.4px;border-radius:10px;background:#f3f5f7;overflow:hidden">
  <div style="position:absolute;left:0;top:0;width:145.1px;height:100%;background:#0b6fe6"></div>
  <div style="position:absolute;left:145.1px;top:0;width:11px;height:100%;background:#a4c400"></div>
</div>
<div style="left:1332.3px;top:568.5px;width:3px;height:123.5px;background:#d6dee7"></div>

<!-- calculator -->
<div style="left:2274px;top:374.5px;width:202px;height:230px;border-radius:18px;background:#a3d9ff"></div>
<div style="left:2289px;top:402.6px;width:172px;height:50.7px;border-radius:2px;background:#fff"></div>
<svg style="left:2274px;top:374.5px" width="202" height="230" viewBox="2274 374.5 202 230">
 <g>
  <rect x="2301.5" y="481.8" width="26.6" height="19.3" rx="1.5" fill="#003873"/>
  <rect x="2341.9" y="481.8" width="26.4" height="19.3" rx="1.5" fill="#003873"/>
  <rect x="2382.3" y="481.8" width="26.5" height="19.3" rx="1.5" fill="#003873"/>
  <rect x="2423.4" y="481.8" width="26.6" height="19.3" rx="1.5" fill="#003873"/>
  <rect x="2301.5" y="517.4" width="26.6" height="19.3" rx="1.5" fill="#0052b4"/>
  <rect x="2341.9" y="517.4" width="26.4" height="19.3" rx="1.5" fill="#0b6fe6"/>
  <rect x="2382.3" y="517.4" width="26.5" height="19.3" rx="1.5" fill="#0b6fe6"/>
  <rect x="2423.4" y="517.4" width="26.6" height="19.3" rx="1.5" fill="#0b6fe6"/>
  <rect x="2301.5" y="552.8" width="26.6" height="19.3" rx="1.5" fill="#0052b4"/>
  <rect x="2341.9" y="552.8" width="26.4" height="19.3" rx="1.5" fill="#0b6fe6"/>
  <rect x="2382.3" y="552.8" width="26.5" height="19.3" rx="1.5" fill="#0b6fe6"/>
  <rect x="2423.4" y="552.8" width="26.6" height="19.3" rx="1.5" fill="#0b6fe6"/>
 </g>
</svg>

<!-- Custom card -->
<div class="card" id="custom" style="left:1950px;top:584.4px;width:600.5px;height:773px;border:2px solid #d6dee7;border-radius:12px;box-shadow:0 8px 16px rgba(30,45,70,.16);overflow:hidden">
  <div style="position:absolute;left:0;top:342px;width:100%;height:2.4px;background:#d6dee7"></div>
  <div style="position:absolute;left:0;top:344.4px;width:100%;height:204.6px;background:#f3f5f7"></div>
  <div style="position:absolute;left:0;top:548.6px;width:100%;height:2.4px;background:#d6dee7"></div>
</div>

<!-- Market composition preview card -->
<div class="card" id="mcp" style="left:1425.7px;top:79.5px;width:697.3px;height:338.5px;border-radius:9px;box-shadow:0 8px 18px rgba(20,30,50,.17), 0 0 6px rgba(20,30,50,.06)"></div>
<div style="left:2068.5px;top:40.4px;width:108.4px;height:108.4px;border-radius:50%;background:#34cc98"></div>

<!-- buttons -->
<div style="left:308.8px;top:822.6px;width:245.7px;height:90.2px;border-radius:13px;background:#36cc98"></div>
<div style="left:595.9px;top:822.6px;width:250.1px;height:90.2px;border-radius:13px;background:#0b6fe6"></div>

<!-- table -->
<div id="table" style="left:70px;top:983px;width:1709.5px;height:386px;background:#fff;box-shadow:0 2px 22px rgba(30,45,70,.16)">
  <div style="position:absolute;left:0;top:0;width:100%;height:63px;background:#a3d9ff"></div>
  <div style="position:absolute;left:0;top:63px;width:100%;height:75.4px;background:#d0eaff"></div>
  <div style="position:absolute;left:0;top:137.6px;width:100%;height:1.2px;background:#c3dcf2"></div>
  <div style="position:absolute;left:0;top:219.6px;width:100%;height:2px;background:#dbe2ea"></div>
  <div style="position:absolute;left:0;top:300.8px;width:100%;height:2px;background:#dbe2ea"></div>
  <!-- toolbar controls -->
  <div style="position:absolute;left:61.5px;top:12.8px;width:295.3px;height:39px;border-radius:4px;background:#fff;box-shadow:0 0 0 1px #c5e2fa"></div>
  <div style="position:absolute;left:398px;top:12.8px;width:227.6px;height:39px;border-radius:4px;background:#fff;box-shadow:0 0 0 1px #c5e2fa"></div>
  <div style="position:absolute;left:641.4px;top:12.8px;width:65.2px;height:39px;border-radius:4px;background:#fff;box-shadow:0 0 0 1px #c5e2fa"></div>
  <div style="position:absolute;left:719.9px;top:11.6px;width:280px;height:41.9px;border-radius:4px;background:#fff;box-shadow:0 0 0 1px #c5e2fa"></div>
  <!-- checkboxes -->
  <div style="position:absolute;left:70.2px;top:85.3px;width:29px;height:29px;box-sizing:border-box;border:1.3px solid #c6d6e6;background:#d3ebff"></div>
  <div style="position:absolute;left:70.2px;top:151.7px;width:29px;height:29px;box-sizing:border-box;border:1.3px solid #ccd5df;background:#fff"></div>
  <div style="position:absolute;left:70.2px;top:232.7px;width:29px;height:29px;box-sizing:border-box;border:1.3px solid #ccd5df;background:#fff"></div>
  <div style="position:absolute;left:70.2px;top:315.4px;width:29px;height:29px;box-sizing:border-box;border:1.3px solid #ccd5df;background:#fff"></div>
</div>

<!-- donut card -->
<div class="card" id="donut" style="left:1415px;top:832.8px;width:403.2px;height:375px;border-radius:15px;box-shadow:0 8px 24px rgba(20,30,50,.16), 0 0 8px rgba(20,30,50,.06)"></div>

<svg id="person" width="2560" height="1436" viewBox="0 0 2560 1436" style="position:absolute;left:0;top:0">
<defs>
<clipPath id="cc"><circle cx="380.0" cy="391.0" r="234.2"/></clipPath>
<clipPath id="cface"><path d="M444.0 154.5C449.6 159.3 457.2 165.3 462.8 171.9C468.4 178.5 473.6 186.7 477.3 194.1C481.0 201.5 482.7 209.0 485.1 216.4C487.5 223.8 490.9 231.3 491.8 238.7C492.7 246.1 491.2 255.8 490.7 261.0C490.2 266.2 488.1 265.4 488.8 270.0C489.6 274.6 493.7 281.6 495.2 288.4C496.7 295.2 498.1 303.3 497.6 310.7C497.1 318.1 494.1 327.4 492.0 333.0C489.9 338.6 486.8 338.5 485.3 344.1C483.8 349.7 484.0 359.0 483.1 366.4C482.2 373.8 480.7 381.3 479.8 388.7C478.9 396.1 479.3 404.9 477.5 411.0C475.7 417.1 473.4 421.3 468.8 425.3C464.2 429.3 457.6 433.9 450.0 435.2C442.4 436.5 432.7 435.0 423.2 433.0C413.7 431.0 404.5 428.7 393.2 423.3C381.9 417.9 366.9 409.6 355.6 400.8C344.3 392.0 333.6 380.7 325.5 370.7C317.4 360.7 310.9 349.1 306.7 340.6C302.4 332.2 299.8 326.8 300.0 320.0C300.2 313.2 307.0 308.8 308.0 300.0C309.0 291.2 305.7 276.2 306.0 267.0C306.3 257.8 308.0 253.3 310.0 245.0C312.0 236.7 315.7 225.3 318.0 217.0C320.3 208.7 322.3 202.8 324.0 195.0C325.7 187.2 325.3 177.2 328.0 170.0C330.7 162.8 334.0 156.3 340.0 152.0C346.0 147.7 356.5 145.8 364.0 144.0C371.5 142.2 377.8 141.6 385.0 141.0C392.2 140.4 399.6 140.2 407.0 140.5C414.4 140.8 423.2 140.7 429.4 143.0C435.6 145.3 438.4 149.7 444.0 154.5z"/></clipPath>
<clipPath id="cneck"><path d="M291.7 335.0C289.4 339.6 289.8 363.9 289.8 370.7C289.8 377.5 291.0 378.2 291.7 385.7C292.4 393.2 293.4 418.7 295.4 427.1C297.4 435.5 303.0 443.0 307.0 449.0C311.0 455.0 321.0 467.5 325.5 472.0C330.0 476.5 336.7 480.6 340.5 483.0C344.3 485.4 350.3 487.2 354.0 490.0C357.7 492.8 362.7 504.4 368.0 504.0C373.3 503.6 386.5 492.2 394.0 487.0C401.5 481.8 416.5 471.0 424.0 465.0C431.5 459.0 446.5 446.7 450.0 442.0C453.5 437.3 454.0 432.3 450.0 430.0C446.0 427.7 432.6 429.7 420.0 425.0C407.4 420.3 370.7 406.9 355.6 395.0C340.5 383.1 315.2 344.0 306.7 336.0C298.2 328.0 294.0 330.4 291.7 335.0z"/></clipPath>
<clipPath id="cshirt"><path d="M288.0 502.9L329.0 482.1L401.1 482.1L450.5 495.0L452.2 548.9L453.7 640.0L297.7 640.0L293.6 548.9z"/></clipPath>
<clipPath id="cjack"><path d="M290.4 369.0C289.5 364.4 278.9 381.0 276.0 384.0C273.1 387.0 270.2 390.7 265.3 394.3C260.4 397.9 241.3 411.1 234.0 415.2C226.7 419.3 212.2 425.8 202.7 429.8C193.2 433.8 162.1 445.0 152.5 449.7C142.9 454.4 123.8 447.8 120.0 470.0C116.2 492.2 59.3 620.2 120.0 640.0C180.7 659.8 579.3 661.0 640.0 640.0C700.7 619.0 643.9 482.3 640.0 460.0C636.1 437.7 616.4 451.1 606.8 448.6C597.2 446.1 566.8 439.9 557.8 438.2C548.8 436.5 535.4 435.0 530.0 434.0C524.6 433.0 515.9 431.9 511.8 429.8C507.7 427.7 498.9 419.7 495.0 416.0C491.1 412.3 480.9 397.5 478.0 398.0C475.1 398.5 473.3 415.6 470.0 420.0C466.7 424.4 452.4 430.2 450.0 436.0C447.6 441.8 457.3 462.5 449.1 470.0C440.9 477.5 397.4 500.0 380.0 500.0C362.6 500.0 311.2 478.9 300.0 470.0C288.8 461.1 285.1 435.3 284.0 423.5C282.9 411.7 291.3 373.6 290.4 369.0z"/></clipPath>
<clipPath id="chair"><path d="M247.8 279.7C247.0 273.8 246.5 260.4 247.0 249.8C247.5 239.2 250.1 225.7 250.6 216.4C251.1 207.1 248.7 201.5 250.2 194.1C251.7 186.7 256.0 178.8 259.6 171.9C263.2 165.0 266.6 159.0 271.8 152.9C277.0 146.8 284.1 139.9 290.8 135.1C297.5 130.3 303.8 127.2 312.0 123.9C320.2 120.7 331.9 116.8 340.3 115.6C348.7 114.4 355.2 116.1 362.6 116.8C370.0 117.5 377.4 118.5 384.8 119.5C392.2 120.5 400.0 121.4 407.1 123.0C414.2 124.6 421.9 126.3 427.2 129.0C432.4 131.7 436.0 135.6 438.6 139.0C441.2 142.4 442.1 147.0 443.0 149.6C443.9 152.2 446.3 154.3 444.0 154.5C441.7 154.7 435.5 151.5 429.4 150.6C423.2 149.7 414.5 149.1 407.1 148.9C399.7 148.7 392.2 148.8 384.8 149.5C377.4 150.2 369.1 151.3 362.6 152.8C356.1 154.3 349.9 155.8 345.8 158.4C341.7 161.0 339.5 164.1 338.0 168.4C336.5 172.7 337.8 177.7 336.9 184.0C336.0 190.3 334.5 198.9 332.5 206.3C330.5 213.7 326.8 221.2 324.7 228.6C322.6 236.0 321.6 244.4 320.2 250.8C318.8 257.2 316.5 260.9 316.0 267.1C315.5 273.3 316.2 280.9 317.0 288.0C317.8 295.1 321.1 305.5 320.5 309.5C319.9 313.5 316.2 315.2 313.6 312.0C311.0 308.8 308.9 298.3 305.0 290.0C301.1 281.7 295.8 268.0 290.0 262.0C284.2 256.0 275.7 254.0 270.0 254.0C264.3 254.0 259.0 256.8 256.0 262.0C253.0 267.2 253.4 282.1 252.0 285.0C250.6 287.9 248.6 285.6 247.8 279.7z"/></clipPath>
<filter id="b3" x="-50%" y="-50%" width="200%" height="200%"><feGaussianBlur stdDeviation="3"/></filter>
<filter id="b6" x="-50%" y="-50%" width="200%" height="200%"><feGaussianBlur stdDeviation="6"/></filter>
<filter id="b10" x="-50%" y="-50%" width="200%" height="200%"><feGaussianBlur stdDeviation="10"/></filter>
<filter id="b16" x="-50%" y="-50%" width="200%" height="200%"><feGaussianBlur stdDeviation="16"/></filter>
<filter id="rough" x="-5%" y="-5%" width="110%" height="110%">
  <feTurbulence type="fractalNoise" baseFrequency="0.35" numOctaves="2" seed="5" result="t"/>
  <feDisplacementMap in="SourceGraphic" in2="t" scale="3.2" xChannelSelector="R" yChannelSelector="G"/>
</filter>
<filter id="b1" x="-50%" y="-50%" width="200%" height="200%"><feGaussianBlur stdDeviation="1.2"/></filter>
<filter id="hairtex" x="0" y="0" width="100%" height="100%">
  <feTurbulence type="fractalNoise" baseFrequency="0.9" numOctaves="2" seed="3" result="n"/>
  <feColorMatrix in="n" type="matrix" values="0 0 0 0 0.27  0 0 0 0 0.24  0 0 0 0 0.22  1.2 1.2 0 0 -1.12"/>
  <feComposite in2="SourceGraphic" operator="in"/>
</filter>
<filter id="shirttex" x="0" y="0" width="100%" height="100%">
  <feTurbulence type="fractalNoise" baseFrequency="0.03 0.4" numOctaves="3" seed="8" result="n"/>
  <feColorMatrix in="n" type="matrix" values="0 0 0 0 0.55  0 0 0 0 0.76  0 0 0 0 0.97  1.3 1.0 0 0 -1.0"/>
  <feComposite in2="SourceGraphic" operator="in"/>
</filter>
<linearGradient id="gshirt" x1="0" y1="0" x2="0" y2="1">
  <stop offset="0" stop-color="#1f66d8"/><stop offset="0.12" stop-color="#3a88e3"/><stop offset="0.35" stop-color="#4a98e7"/><stop offset="1" stop-color="#4896e6"/>
</linearGradient>
<radialGradient id="gskin" gradientUnits="userSpaceOnUse" cx="400" cy="215" r="230">
  <stop offset="0" stop-color="#a36f54"/><stop offset="0.3" stop-color="#8b5740"/><stop offset="0.62" stop-color="#70412d"/><stop offset="1" stop-color="#47281b"/>
</radialGradient>
<linearGradient id="gneck" x1="0" y1="0" x2="1" y2="0.3">
  <stop offset="0" stop-color="#5b3320"/><stop offset="0.45" stop-color="#5a311f"/><stop offset="1" stop-color="#1f120d"/>
</linearGradient>
<linearGradient id="gjack" gradientUnits="userSpaceOnUse" x1="150" y1="0" x2="610" y2="0">
  <stop offset="0" stop-color="#f4f3f1"/><stop offset="0.28" stop-color="#f7f6f4"/><stop offset="0.66" stop-color="#f1efec"/><stop offset="0.8" stop-color="#f4f2ef"/><stop offset="1" stop-color="#f6f5f3"/>
</linearGradient>
</defs>
<circle cx="380.0" cy="391.0" r="234.2" fill="#a3b5cb"/>
<g clip-path="url(#cc)">
  <!-- background shading -->
  <ellipse cx="205" cy="400" rx="60" ry="50" fill="#8f9fb4" opacity=".3" filter="url(#b16)"/>
  <!-- jacket -->
  <path d="M290.4 369.0C289.5 364.4 278.9 381.0 276.0 384.0C273.1 387.0 270.2 390.7 265.3 394.3C260.4 397.9 241.3 411.1 234.0 415.2C226.7 419.3 212.2 425.8 202.7 429.8C193.2 433.8 162.1 445.0 152.5 449.7C142.9 454.4 123.8 447.8 120.0 470.0C116.2 492.2 59.3 620.2 120.0 640.0C180.7 659.8 579.3 661.0 640.0 640.0C700.7 619.0 643.9 482.3 640.0 460.0C636.1 437.7 616.4 451.1 606.8 448.6C597.2 446.1 566.8 439.9 557.8 438.2C548.8 436.5 535.4 435.0 530.0 434.0C524.6 433.0 515.9 431.9 511.8 429.8C507.7 427.7 498.9 419.7 495.0 416.0C491.1 412.3 480.9 397.5 478.0 398.0C475.1 398.5 473.3 415.6 470.0 420.0C466.7 424.4 452.4 430.2 450.0 436.0C447.6 441.8 457.3 462.5 449.1 470.0C440.9 477.5 397.4 500.0 380.0 500.0C362.6 500.0 311.2 478.9 300.0 470.0C288.8 461.1 285.1 435.3 284.0 423.5C282.9 411.7 291.3 373.6 290.4 369.0z" fill="url(#gjack)"/>
  <g clip-path="url(#cjack)">
    <path d="M160 462L240 436L296 500L250 486z" fill="#dcd8d2" opacity=".55" filter="url(#b6)"/>
    <path d="M208 486L236 500L270 520L296 620L280 640L236 580z" fill="#e4e1dc" opacity=".8" filter="url(#b6)"/>
    <path d="M214 473Q228 476 238 487L236 489Q226 480 213 475z" fill="#8a7a6c" opacity=".8"/>
    <path d="M296 430L300 640L290 640L284 430z" fill="#d9d5cf" opacity=".8" filter="url(#b3)"/>
    <path d="M452 440L490 400L520 432L498 452L470 520z" fill="#ddd9d3" opacity=".7" filter="url(#b6)"/>
    <path d="M494 452L534 474L524 600L500 640L456 640L453 480z" fill="#dfdcd7" opacity=".9" filter="url(#b6)"/>
    <path d="M526 478L534 476L522 610L514 612z" fill="#d5d1cb" opacity=".7" filter="url(#b1)"/>
    <path d="M470 520L473 520L480 630L477 630zM486 520L488 520L496 630L493 630z" fill="#dedad4" opacity=".6" filter="url(#b1)"/>
    <path d="M140 452L210 430L150 470z" fill="#e3dfda" opacity=".6" filter="url(#b3)"/>
  </g>
  <!-- shirt -->
  <path d="M288.0 502.9L329.0 482.1L401.1 482.1L450.5 495.0L452.2 548.9L453.7 640.0L297.7 640.0L293.6 548.9z" fill="url(#gshirt)"/>
  <g clip-path="url(#cshirt)">
    <rect x="280" y="495" width="180" height="150" fill="#fff" filter="url(#shirttex)"/>
    <path d="M300 510L318 505L345 640L325 640z" fill="#2f7ddf" opacity=".35" filter="url(#b3)"/>
    <path d="M410 490L450 500L440 520z" fill="#1b5fd2" opacity=".5" filter="url(#b3)"/>
  </g>
  <!-- neck -->
  <path d="M291.7 335.0C289.4 339.6 289.8 363.9 289.8 370.7C289.8 377.5 291.0 378.2 291.7 385.7C292.4 393.2 293.4 418.7 295.4 427.1C297.4 435.5 303.0 443.0 307.0 449.0C311.0 455.0 321.0 467.5 325.5 472.0C330.0 476.5 336.7 480.6 340.5 483.0C344.3 485.4 350.3 487.2 354.0 490.0C357.7 492.8 362.7 504.4 368.0 504.0C373.3 503.6 386.5 492.2 394.0 487.0C401.5 481.8 416.5 471.0 424.0 465.0C431.5 459.0 446.5 446.7 450.0 442.0C453.5 437.3 454.0 432.3 450.0 430.0C446.0 427.7 432.6 429.7 420.0 425.0C407.4 420.3 370.7 406.9 355.6 395.0C340.5 383.1 315.2 344.0 306.7 336.0C298.2 328.0 294.0 330.4 291.7 335.0z" fill="url(#gneck)"/>
  <g clip-path="url(#cneck)">
    <ellipse cx="330" cy="430" rx="28" ry="40" fill="#7a4a30" opacity=".55" filter="url(#b10)"/>
    <ellipse cx="420" cy="455" rx="40" ry="26" fill="#140b08" opacity=".7" filter="url(#b10)"/>
    <ellipse cx="380" cy="405" rx="60" ry="16" fill="#2a170f" opacity=".6" filter="url(#b6)" transform="rotate(28 380 405)"/>
  </g>
  <!-- collar + placket -->
  <path d="M329.0 485.1L351.0 478.9L365.6 496.7L386.5 478.9L401.1 484.1L389.6 507.1L387.5 548.9L383.3 590.7L379.2 640.0L355.1 640.0L345.7 601.1L336.3 548.9L331.1 507.1z" fill="#262527"/>
  <path d="M352.0 485.1L365.2 500.8L363.1 528.0L359.3 548.0L357.6 507.1z" fill="#4a2a1c"/>
  <path d="M290.4 368.0L284.1 394.3L281.5 423.5L285.2 457.0L289.4 504.5L329.0 485.1L339.4 478.5L328.0 473.7L307.1 448.6L294.6 423.5L291.4 392.2z" fill="#2b2a2b"/>
  <path d="M450.6 434.0L450.6 498.0L409.4 485.1L401.1 480.9L386.5 478.9L411.5 461.1L432.4 444.4z" fill="#1d1c1e"/>
  <circle cx="341.8" cy="494" r="5.2" fill="#151416"/><circle cx="341.8" cy="494" r="3.4" fill="#2d2c30"/>
  <circle cx="348.6" cy="572" r="6" fill="#121113"/><circle cx="348.6" cy="572" r="4" fill="#2b2a2e"/>
</g>
<!-- ear -->
<path d="M255.1 258.8C256.2 256.7 257.8 255.5 261.3 254.6C264.8 253.7 271.1 252.4 276.0 253.5C280.9 254.6 286.8 256.9 290.6 260.9C294.4 264.9 296.8 269.6 298.9 277.6C301.0 285.6 302.2 300.2 303.1 308.9C304.1 317.6 306.3 325.2 304.6 329.8C302.9 334.4 296.8 336.4 292.7 336.4C288.6 336.4 284.3 334.4 280.1 329.8C275.9 325.2 271.4 316.6 267.6 308.9C263.8 301.2 259.4 290.8 257.2 283.8C255.0 276.8 255.0 271.3 254.7 267.1C254.3 262.9 254.0 260.9 255.1 258.8z" fill="#87563f"/>
<path d="M262 266Q276 258 288 270Q296 288 298 318Q292 330 286 322Q290 300 280 280Q272 268 262 272z" fill="#3a2015" opacity=".75" filter="url(#b3)"/>
<path d="M258 262Q270 255 283 262Q270 260 262 270z" fill="#8a563a" opacity=".8" filter="url(#b1)"/>
<ellipse cx="291" cy="306" rx="5" ry="7" fill="#a97257" opacity=".7" filter="url(#b3)"/>
<!-- face -->
<path d="M444.0 154.5C449.6 159.3 457.2 165.3 462.8 171.9C468.4 178.5 473.6 186.7 477.3 194.1C481.0 201.5 482.7 209.0 485.1 216.4C487.5 223.8 490.9 231.3 491.8 238.7C492.7 246.1 491.2 255.8 490.7 261.0C490.2 266.2 488.1 265.4 488.8 270.0C489.6 274.6 493.7 281.6 495.2 288.4C496.7 295.2 498.1 303.3 497.6 310.7C497.1 318.1 494.1 327.4 492.0 333.0C489.9 338.6 486.8 338.5 485.3 344.1C483.8 349.7 484.0 359.0 483.1 366.4C482.2 373.8 480.7 381.3 479.8 388.7C478.9 396.1 479.3 404.9 477.5 411.0C475.7 417.1 473.4 421.3 468.8 425.3C464.2 429.3 457.6 433.9 450.0 435.2C442.4 436.5 432.7 435.0 423.2 433.0C413.7 431.0 404.5 428.7 393.2 423.3C381.9 417.9 366.9 409.6 355.6 400.8C344.3 392.0 333.6 380.7 325.5 370.7C317.4 360.7 310.9 349.1 306.7 340.6C302.4 332.2 299.8 326.8 300.0 320.0C300.2 313.2 307.0 308.8 308.0 300.0C309.0 291.2 305.7 276.2 306.0 267.0C306.3 257.8 308.0 253.3 310.0 245.0C312.0 236.7 315.7 225.3 318.0 217.0C320.3 208.7 322.3 202.8 324.0 195.0C325.7 187.2 325.3 177.2 328.0 170.0C330.7 162.8 334.0 156.3 340.0 152.0C346.0 147.7 356.5 145.8 364.0 144.0C371.5 142.2 377.8 141.6 385.0 141.0C392.2 140.4 399.6 140.2 407.0 140.5C414.4 140.8 423.2 140.7 429.4 143.0C435.6 145.3 438.4 149.7 444.0 154.5z" fill="url(#gskin)"/>
<g clip-path="url(#cface)">
  <!-- forehead highlight -->
  <ellipse cx="390" cy="184" rx="48" ry="24" fill="#c09a88" opacity=".85" filter="url(#b10)"/>
  <ellipse cx="440" cy="178" rx="22" ry="18" fill="#b27d5e" opacity=".5" filter="url(#b10)"/>
  <!-- cheek highlight -->
  <ellipse cx="378" cy="286" rx="40" ry="26" fill="#a56d55" opacity=".8" filter="url(#b10)"/>
  <ellipse cx="345" cy="250" rx="20" ry="30" fill="#8a5435" opacity=".5" filter="url(#b10)"/>
  <!-- nose -->
  <ellipse cx="460" cy="302" rx="28" ry="22" fill="#9c634a" opacity=".9" filter="url(#b6)"/>
  <ellipse cx="456" cy="297" rx="13" ry="12" fill="#c3917b" opacity=".8" filter="url(#b3)"/>
  <path d="M432 318Q455 328 484 322Q470 334 446 330z" fill="#2a140d" opacity=".8" filter="url(#b3)"/>
  <!-- brow / eye shadows -->
  <path d="M378 232Q405 218 432 224L430 232Q404 228 380 238z" fill="#1c110d" opacity=".85" filter="url(#b1)"/>
  <path d="M468 226Q482 224 492 234L490 240Q480 232 468 232z" fill="#1c110d" opacity=".85" filter="url(#b1)"/>
  <ellipse cx="404" cy="254" rx="30" ry="12" fill="#3d2216" opacity=".75" filter="url(#b6)"/>
  <path d="M376 250Q396 243 420 253Q402 262 384 258z" fill="#2a1711" opacity=".9" filter="url(#b1)"/>
  <ellipse cx="407" cy="254" rx="5" ry="4" fill="#101418"/>
  <ellipse cx="478" cy="258" rx="12" ry="8" fill="#321b12" opacity=".8" filter="url(#b3)"/>
  <path d="M464 256Q476 250 488 256Q478 262 466 260z" fill="#20130e" opacity=".9" filter="url(#b1)"/>
  <!-- temple shadow near hairline -->
  <ellipse cx="332" cy="230" rx="14" ry="50" fill="#3a2117" opacity=".6" filter="url(#b6)"/>
  <path d="M312 268L320 270L323 310L316 312z" fill="#1f1511" opacity=".8" filter="url(#b1)"/>
  <!-- moustache, mouth -->
  <path d="M410 350Q440 332 484 334L486 346Q450 340 418 358z" fill="#2a1711" opacity=".85" filter="url(#b3)"/>
  <path d="M420 352Q450 340 482 344Q486 350 480 354Q450 350 424 358z" fill="#9a6354"/>
  <path d="M424 358Q452 350 480 354Q476 364 466 366Q444 360 428 362z" fill="#3b1d14"/>
  <path d="M430 357Q452 352 474 356L470 364Q450 358 434 361z" fill="#cdb077"/>
  <path d="M426 364Q446 362 468 368Q480 366 478 378Q462 392 438 384Q428 376 426 364z" fill="#8c5648"/>
  <ellipse cx="452" cy="376" rx="14" ry="6" fill="#a87265" opacity=".7" filter="url(#b3)"/>
  <!-- beard / chin / jaw shadow -->
  <path d="M400 366Q410 400 440 410Q468 408 480 390L478 436L440 440Q380 430 340 390Q380 410 398 400z" fill="#24140e" opacity=".85" filter="url(#b6)"/>
  <path d="M395 350Q402 380 412 400Q400 396 392 372z" fill="#1d110c" opacity=".7" filter="url(#b3)"/>
  <ellipse cx="350" cy="370" rx="30" ry="16" fill="#8a6a58" opacity=".45" filter="url(#b10)" transform="rotate(40 350 370)"/>
  <ellipse cx="320" cy="330" rx="16" ry="36" fill="#4a2a1b" opacity=".6" filter="url(#b10)"/>
</g>
<!-- hair -->
<path d="M247.8 279.7C247.0 273.8 246.5 260.4 247.0 249.8C247.5 239.2 250.1 225.7 250.6 216.4C251.1 207.1 248.7 201.5 250.2 194.1C251.7 186.7 256.0 178.8 259.6 171.9C263.2 165.0 266.6 159.0 271.8 152.9C277.0 146.8 284.1 139.9 290.8 135.1C297.5 130.3 303.8 127.2 312.0 123.9C320.2 120.7 331.9 116.8 340.3 115.6C348.7 114.4 355.2 116.1 362.6 116.8C370.0 117.5 377.4 118.5 384.8 119.5C392.2 120.5 400.0 121.4 407.1 123.0C414.2 124.6 421.9 126.3 427.2 129.0C432.4 131.7 436.0 135.6 438.6 139.0C441.2 142.4 442.1 147.0 443.0 149.6C443.9 152.2 446.3 154.3 444.0 154.5C441.7 154.7 435.5 151.5 429.4 150.6C423.2 149.7 414.5 149.1 407.1 148.9C399.7 148.7 392.2 148.8 384.8 149.5C377.4 150.2 369.1 151.3 362.6 152.8C356.1 154.3 349.9 155.8 345.8 158.4C341.7 161.0 339.5 164.1 338.0 168.4C336.5 172.7 337.8 177.7 336.9 184.0C336.0 190.3 334.5 198.9 332.5 206.3C330.5 213.7 326.8 221.2 324.7 228.6C322.6 236.0 321.6 244.4 320.2 250.8C318.8 257.2 316.5 260.9 316.0 267.1C315.5 273.3 316.2 280.9 317.0 288.0C317.8 295.1 321.1 305.5 320.5 309.5C319.9 313.5 316.2 315.2 313.6 312.0C311.0 308.8 308.9 298.3 305.0 290.0C301.1 281.7 295.8 268.0 290.0 262.0C284.2 256.0 275.7 254.0 270.0 254.0C264.3 254.0 259.0 256.8 256.0 262.0C253.0 267.2 253.4 282.1 252.0 285.0C250.6 287.9 248.6 285.6 247.8 279.7z" fill="#1f1b1a" filter="url(#rough)"/>
<g clip-path="url(#chair)">
  <rect x="240" y="110" width="210" height="210" fill="#fff" filter="url(#hairtex)"/>
  <ellipse cx="300" cy="240" rx="30" ry="50" fill="#1b1614" opacity=".6" filter="url(#b10)"/>
  <ellipse cx="340" cy="135" rx="70" ry="14" fill="#4a423e" opacity=".5" filter="url(#b6)"/>
</g>
</svg>
<div style="left:38.9px;top:232.8px;width:162.6px;height:162.6px;border-radius:50%;background:#fff;box-shadow:0 11px 22px rgba(20,30,50,.18), 0 2px 8px rgba(20,30,50,.07)"></div>
<svg id="icons" width="2560" height="1436" viewBox="0 0 2560 1436" style="position:absolute;left:0;top:0">
<path d="M944.8 502.8V485.4M935.4 494.9L944.8 485.6L954.2 494.9" fill="none" stroke="#36cc98" stroke-width="2.0" stroke-linecap="round" stroke-linejoin="round"/>
<path d="M1225.8 660.5V642.8M1216.2 652.5L1225.8 643.0L1235.5 652.5" fill="none" stroke="#36cc98" stroke-width="2.0" stroke-linecap="round" stroke-linejoin="round"/>
<path d="M1607.7 660.5V642.8M1598.0 652.6L1607.7 643.0L1617.4 652.6" fill="none" stroke="#36cc98" stroke-width="2.0" stroke-linecap="round" stroke-linejoin="round"/>
<path d="M2124.3 892.5V875.6M2115.4 884.7L2124.3 875.9L2133.2 884.7" fill="none" stroke="#36cc98" stroke-width="2.1" stroke-linecap="round" stroke-linejoin="round"/>
<path d="M2124.3 1098.9V1082.2M2115.4 1091.2L2124.3 1082.3L2133.2 1091.2" fill="none" stroke="#36cc98" stroke-width="2.1" stroke-linecap="round" stroke-linejoin="round"/>
<circle cx="1644.25" cy="302.8" r="14.1" fill="none" stroke="#6b8bad" stroke-width="2.8"/>
<circle cx="1644.25" cy="296.6" r="2.6" fill="#6b8bad"/>
<path d="M1640.65 300.8h6v8.2h1.6v2.6h-8v-2.6h1.6v-5.6h-1.2z" fill="#6b8bad"/>
<circle cx="1892.4" cy="302.8" r="14.1" fill="none" stroke="#6b8bad" stroke-width="2.8"/>
<circle cx="1892.4" cy="296.6" r="2.6" fill="#6b8bad"/>
<path d="M1888.8000000000002 300.8h6v8.2h1.6v2.6h-8v-2.6h1.6v-5.6h-1.2z" fill="#6b8bad"/>
<circle cx="2122.6" cy="94.9" r="25.8" fill="none" stroke="#fff" stroke-width="4"/>
<circle cx="2119.7" cy="92.6" r="10.6" fill="none" stroke="#fff" stroke-width="4"/>
<path d="M2127.7 100.4L2136.1 108.8" fill="none" stroke="#fff" stroke-width="4" stroke-linecap="round"/>
<path d="M2446.8 645.5h-8.6q-2 0-2 2v20.5q0 2 2 2h20.2q2 0 2-2v-9" fill="none" stroke="#47607d" stroke-width="3.2" stroke-linecap="round" stroke-linejoin="round"/>
<path d="M2444.6 661.8L2463.6 642.3M2455.4 641.4h9.3v9.6" fill="none" stroke="#47607d" stroke-width="3.3" stroke-linecap="round" stroke-linejoin="miter"/>
<circle cx="2504.7" cy="643.9" r="3.9" fill="#47607d"/>
<circle cx="2504.7" cy="655.8" r="3.9" fill="#47607d"/>
<circle cx="2504.7" cy="667.5" r="3.9" fill="#47607d"/>
<rect x="337.2" y="846.4" width="41.1" height="36.4" rx="5" fill="#fff"/>
<path d="M341.6 858.2h13.8v8.3h-13.8zM359.9 858.2h13.9v8.3h-13.9zM341.6 870.4h13.8v8.1h-13.8zM359.9 870.4h13.9v8.1h-13.9z" fill="#36cc98"/>
<path d="M641 852.5v31.2M625.4 868.1h31.2" fill="none" stroke="#fff" stroke-width="4.8" stroke-linecap="round"/>
<path d="M97 1005.2h18.600q1.300 0.500 0.400 1.700l-7.300 8v6.300q-0.200 1.300 -1.400 0.600l-3.200 -2.300q-0.500 -0.400 -0.500 -1v-3.600l-7.200 -8q-0.800 -1.300 0.600 -1.700z" fill="none" stroke="#445c78" stroke-width="2.4" stroke-linejoin="round"/>
<circle cx="447.5" cy="1015.6" r="10" fill="none" stroke="#fff" stroke-width="1.9"/>
<path d="M680.6 1013.2l4 4 4-4" fill="none" stroke="#33475b" stroke-width="1.8" stroke-linecap="round" stroke-linejoin="round"/>
<path transform="translate(723.18 1005.10) scale(0.03514 0.03535)" fill="#3f536c" d="M259.3 17.8L194 150.2 47.9 171.5c-26.2 3.8-36.7 36.1-17.7 54.6l105.7 103-25 145.5c-4.5 26.3 23.2 46 46.4 33.7L288 439.6l130.7 68.7c23.2 12.2 50.9-7.4 46.4-33.7l-25-145.5 105.7-103c19-18.5 8.5-50.8-17.7-54.6L382 150.2 316.7 17.8c-11.7-23.6-45.6-23.9-57.4 0z"/>
<path transform="translate(753.70 1004.37) scale(0.03717 0.04024)" fill="#3f536c" d="M31.3 192h257.3c17.8 0 26.7 21.5 14.1 34.1L174.1 354.8c-7.8 7.8-20.5 7.8-28.3 0L17.2 226.1C4.6 213.5 13.5 192 31.3 192z"/>
<path d="M815.8 1006.3v16.6M807.5 1014.6h16.6" fill="none" stroke="#3f536c" stroke-width="1.7" stroke-linecap="round"/>
<path transform="translate(91.87 1059.64) scale(0.03801 0.03618)" fill="#475c76" d="M41 288h238c21.4 0 32.1 25.9 17 41L177 448c-9.4 9.4-24.6 9.4-33.9 0L24 329c-15.1-15.1-4.4-41 17-41zm255-105L177 64c-9.4-9.4-24.6-9.4-33.9 0L24 183c-15.1 15.1-4.4 41 17 41h238c21.4 0 32.1-25.9 17-41z"/>
<path transform="translate(202.47 1071.84) scale(0.03801 0.03618)" fill="#475c76" d="M41 288h238c21.4 0 32.1 25.9 17 41L177 448c-9.4 9.4-24.6 9.4-33.9 0L24 329c-15.1-15.1-4.4-41 17-41zm255-105L177 64c-9.4-9.4-24.6-9.4-33.9 0L24 183c-15.1 15.1-4.4 41 17 41h238c21.4 0 32.1-25.9 17-41z"/>
<path transform="translate(269.87 1071.84) scale(0.03801 0.03618)" fill="#475c76" d="M41 288h238c21.4 0 32.1 25.9 17 41L177 448c-9.4 9.4-24.6 9.4-33.9 0L24 329c-15.1-15.1-4.4-41 17-41zm255-105L177 64c-9.4-9.4-24.6-9.4-33.9 0L24 183c-15.1 15.1-4.4 41 17 41h238c21.4 0 32.1-25.9 17-41z"/>
<path transform="translate(334.57 1071.84) scale(0.03801 0.03618)" fill="#475c76" d="M41 288h238c21.4 0 32.1 25.9 17 41L177 448c-9.4 9.4-24.6 9.4-33.9 0L24 329c-15.1-15.1-4.4-41 17-41zm255-105L177 64c-9.4-9.4-24.6-9.4-33.9 0L24 183c-15.1 15.1-4.4 41 17 41h238c21.4 0 32.1-25.9 17-41z"/>
<path transform="translate(599.87 1071.84) scale(0.03801 0.03618)" fill="#475c76" d="M41 288h238c21.4 0 32.1 25.9 17 41L177 448c-9.4 9.4-24.6 9.4-33.9 0L24 329c-15.1-15.1-4.4-41 17-41zm255-105L177 64c-9.4-9.4-24.6-9.4-33.9 0L24 183c-15.1 15.1-4.4 41 17 41h238c21.4 0 32.1-25.9 17-41z"/>
<path transform="translate(754.37 1071.84) scale(0.03801 0.03618)" fill="#475c76" d="M41 288h238c21.4 0 32.1 25.9 17 41L177 448c-9.4 9.4-24.6 9.4-33.9 0L24 329c-15.1-15.1-4.4-41 17-41zm255-105L177 64c-9.4-9.4-24.6-9.4-33.9 0L24 183c-15.1 15.1-4.4 41 17 41h238c21.4 0 32.1-25.9 17-41z"/>
<path transform="translate(981.17 1059.84) scale(0.03801 0.03618)" fill="#475c76" d="M41 288h238c21.4 0 32.1 25.9 17 41L177 448c-9.4 9.4-24.6 9.4-33.9 0L24 329c-15.1-15.1-4.4-41 17-41zm255-105L177 64c-9.4-9.4-24.6-9.4-33.9 0L24 183c-15.1 15.1-4.4 41 17 41h238c21.4 0 32.1-25.9 17-41z"/>
<path transform="translate(1264.07 1071.84) scale(0.03801 0.03618)" fill="#475c76" d="M41 288h238c21.4 0 32.1 25.9 17 41L177 448c-9.4 9.4-24.6 9.4-33.9 0L24 329c-15.1-15.1-4.4-41 17-41zm255-105L177 64c-9.4-9.4-24.6-9.4-33.9 0L24 183c-15.1 15.1-4.4 41 17 41h238c21.4 0 32.1-25.9 17-41z"/>
<path transform="translate(222.00 1071.00) scale(0.03613 0.03672)" fill="#2b4052" d="M505.12019,19.09375c-1.18945-5.53125-6.65819-11-12.207-12.1875C460.716,0,435.507,0,410.40747,0,307.17523,0,245.26909,55.20312,199.05238,128H94.83772c-16.34763.01562-35.55658,11.875-42.88664,26.48438L2.51562,253.29688A28.4,28.4,0,0,0,0,264a24.00867,24.00867,0,0,0,24.00582,24H127.81618l-22.47457,22.46875c-11.36521,11.36133-12.99607,32.25781,0,45.25L156.24582,406.625c11.15623,11.1875,32.15619,13.15625,45.27726,0l22.47457-22.46875V488a24.00867,24.00867,0,0,0,24.00581,24,28.55934,28.55934,0,0,0,10.707-2.51562l98.72834-49.39063c14.62888-7.29687,26.50776-26.5,26.50776-42.85937V312.79688c72.59753-46.3125,128.03493-108.40626,128.03493-211.09376C512.07526,76.5,512.07526,51.29688,505.12019,19.09375ZM384.04033,168A40,40,0,1,1,424.05,128,40.02322,40.02322,0,0,1,384.04033,168Z"/>
<path transform="translate(289.29 1070.80) scale(0.03458 0.03477)" fill="#3f536c" d="M259.3 17.8L194 150.2 47.9 171.5c-26.2 3.8-36.7 36.1-17.7 54.6l105.7 103-25 145.5c-4.5 26.3 23.2 46 46.4 33.7L288 439.6l130.7 68.7c23.2 12.2 50.9-7.4 46.4-33.7l-25-145.5 105.7-103c19-18.5 8.5-50.8-17.7-54.6L382 150.2 316.7 17.8c-11.7-23.6-45.6-23.9-57.4 0z"/>
<path transform="translate(212.20 1137.20) scale(0.03672 0.03613)" fill="#a3b7cd" d="M505.12019,19.09375c-1.18945-5.53125-6.65819-11-12.207-12.1875C460.716,0,435.507,0,410.40747,0,307.17523,0,245.26909,55.20312,199.05238,128H94.83772c-16.34763.01562-35.55658,11.875-42.88664,26.48438L2.51562,253.29688A28.4,28.4,0,0,0,0,264a24.00867,24.00867,0,0,0,24.00582,24H127.81618l-22.47457,22.46875c-11.36521,11.36133-12.99607,32.25781,0,45.25L156.24582,406.625c11.15623,11.1875,32.15619,13.15625,45.27726,0l22.47457-22.46875V488a24.00867,24.00867,0,0,0,24.00581,24,28.55934,28.55934,0,0,0,10.707-2.51562l98.72834-49.39063c14.62888-7.29687,26.50776-26.5,26.50776-42.85937V312.79688c72.59753-46.3125,128.03493-108.40626,128.03493-211.09376C512.07526,76.5,512.07526,51.29688,505.12019,19.09375ZM384.04033,168A40,40,0,1,1,424.05,128,40.02322,40.02322,0,0,1,384.04033,168Z"/>
<path transform="translate(276.18 1136.20) scale(0.03495 0.03477)" fill="#3f536c" d="M259.3 17.8L194 150.2 47.9 171.5c-26.2 3.8-36.7 36.1-17.7 54.6l105.7 103-25 145.5c-4.5 26.3 23.2 46 46.4 33.7L288 439.6l130.7 68.7c23.2 12.2 50.9-7.4 46.4-33.7l-25-145.5 105.7-103c19-18.5 8.5-50.8-17.7-54.6L382 150.2 316.7 17.8c-11.7-23.6-45.6-23.9-57.4 0z"/>
<path d="M875.60 1137.00V1151.90H896.40" fill="none" stroke="#0b6fe6" stroke-width="2.2" stroke-linecap="round" stroke-linejoin="round"/>
<path d="M879.88 1145.64L884.36 1141.85L887.94 1145.48L893.76 1139.70" fill="none" stroke="#0b6fe6" stroke-width="1.98" stroke-linecap="round" stroke-linejoin="round"/>
<path d="M890.18 1137.72H896.00V1143.66z" fill="#0b6fe6" stroke="#0b6fe6" stroke-width="0.8" stroke-linejoin="round"/>
<path d="M1111.7 1158.5 1140.1 1152.3 1168.4 1155.5 1193.2 1137.7 1227.8 1158.8 L1227.8 1158.8 1111.7 1158.8z" fill="#cfe6fc"/>
<path d="M1111.7 1158.5 1140.1 1152.3 1168.4 1155.5 1193.2 1137.7 1227.8 1158.8" fill="none" stroke="#1a78de" stroke-width="1.5" stroke-linejoin="round"/>
<path transform="translate(212.20 1218.80) scale(0.03672 0.03613)" fill="#a3b7cd" d="M505.12019,19.09375c-1.18945-5.53125-6.65819-11-12.207-12.1875C460.716,0,435.507,0,410.40747,0,307.17523,0,245.26909,55.20312,199.05238,128H94.83772c-16.34763.01562-35.55658,11.875-42.88664,26.48438L2.51562,253.29688A28.4,28.4,0,0,0,0,264a24.00867,24.00867,0,0,0,24.00582,24H127.81618l-22.47457,22.46875c-11.36521,11.36133-12.99607,32.25781,0,45.25L156.24582,406.625c11.15623,11.1875,32.15619,13.15625,45.27726,0l22.47457-22.46875V488a24.00867,24.00867,0,0,0,24.00581,24,28.55934,28.55934,0,0,0,10.707-2.51562l98.72834-49.39063c14.62888-7.29687,26.50776-26.5,26.50776-42.85937V312.79688c72.59753-46.3125,128.03493-108.40626,128.03493-211.09376C512.07526,76.5,512.07526,51.29688,505.12019,19.09375ZM384.04033,168A40,40,0,1,1,424.05,128,40.02322,40.02322,0,0,1,384.04033,168Z"/>
<path transform="translate(276.18 1217.80) scale(0.03495 0.03477)" fill="#3f536c" d="M259.3 17.8L194 150.2 47.9 171.5c-26.2 3.8-36.7 36.1-17.7 54.6l105.7 103-25 145.5c-4.5 26.3 23.2 46 46.4 33.7L288 439.6l130.7 68.7c23.2 12.2 50.9-7.4 46.4-33.7l-25-145.5 105.7-103c19-18.5 8.5-50.8-17.7-54.6L382 150.2 316.7 17.8c-11.7-23.6-45.6-23.9-57.4 0z"/>
<path d="M875.60 1218.60V1233.50H896.40" fill="none" stroke="#0b6fe6" stroke-width="2.2" stroke-linecap="round" stroke-linejoin="round"/>
<path d="M879.88 1227.24L884.36 1223.44L887.94 1227.08L893.76 1221.30" fill="none" stroke="#0b6fe6" stroke-width="1.98" stroke-linecap="round" stroke-linejoin="round"/>
<path d="M890.18 1219.32H896.00V1225.26z" fill="#0b6fe6" stroke="#0b6fe6" stroke-width="0.8" stroke-linejoin="round"/>
<path d="M1111.7 1240.1 1140.1 1233.9 1168.4 1237.1 1193.2 1219.3 1227.8 1240.4 L1227.8 1240.4 1111.7 1240.4z" fill="#cfe6fc"/>
<path d="M1111.7 1240.1 1140.1 1233.9 1168.4 1237.1 1193.2 1219.3 1227.8 1240.4" fill="none" stroke="#1a78de" stroke-width="1.5" stroke-linejoin="round"/>
<path transform="translate(212.20 1301.30) scale(0.03672 0.03613)" fill="#a3b7cd" d="M505.12019,19.09375c-1.18945-5.53125-6.65819-11-12.207-12.1875C460.716,0,435.507,0,410.40747,0,307.17523,0,245.26909,55.20312,199.05238,128H94.83772c-16.34763.01562-35.55658,11.875-42.88664,26.48438L2.51562,253.29688A28.4,28.4,0,0,0,0,264a24.00867,24.00867,0,0,0,24.00582,24H127.81618l-22.47457,22.46875c-11.36521,11.36133-12.99607,32.25781,0,45.25L156.24582,406.625c11.15623,11.1875,32.15619,13.15625,45.27726,0l22.47457-22.46875V488a24.00867,24.00867,0,0,0,24.00581,24,28.55934,28.55934,0,0,0,10.707-2.51562l98.72834-49.39063c14.62888-7.29687,26.50776-26.5,26.50776-42.85937V312.79688c72.59753-46.3125,128.03493-108.40626,128.03493-211.09376C512.07526,76.5,512.07526,51.29688,505.12019,19.09375ZM384.04033,168A40,40,0,1,1,424.05,128,40.02322,40.02322,0,0,1,384.04033,168Z"/>
<path transform="translate(276.18 1300.30) scale(0.03495 0.03477)" fill="#3f536c" d="M259.3 17.8L194 150.2 47.9 171.5c-26.2 3.8-36.7 36.1-17.7 54.6l105.7 103-25 145.5c-4.5 26.3 23.2 46 46.4 33.7L288 439.6l130.7 68.7c23.2 12.2 50.9-7.4 46.4-33.7l-25-145.5 105.7-103c19-18.5 8.5-50.8-17.7-54.6L382 150.2 316.7 17.8c-11.7-23.6-45.6-23.9-57.4 0z"/>
<path d="M875.60 1301.10V1316.00H896.40" fill="none" stroke="#0b6fe6" stroke-width="2.2" stroke-linecap="round" stroke-linejoin="round"/>
<path d="M879.88 1309.74L884.36 1305.94L887.94 1309.58L893.76 1303.80" fill="none" stroke="#0b6fe6" stroke-width="1.98" stroke-linecap="round" stroke-linejoin="round"/>
<path d="M890.18 1301.82H896.00V1307.76z" fill="#0b6fe6" stroke="#0b6fe6" stroke-width="0.8" stroke-linejoin="round"/>
<path d="M1111.7 1322.6 1140.1 1316.4 1168.4 1319.6 1193.2 1301.8 1227.8 1322.9 L1227.8 1322.9 1111.7 1322.9z" fill="#cfe6fc"/>
<path d="M1111.7 1322.6 1140.1 1316.4 1168.4 1319.6 1193.2 1301.8 1227.8 1322.9" fill="none" stroke="#1a78de" stroke-width="1.5" stroke-linejoin="round"/>
<rect x="1388.8" y="1171.7" width="4.6" height="1.5" fill="#e8555f"/>
<rect x="1388.8" y="1253.3" width="4.6" height="1.5" fill="#e8555f"/>
<rect x="1388.8" y="1335.8" width="4.6" height="1.5" fill="#e8555f"/>
<rect x="1567.9" y="1253.6" width="5" height="1.6" fill="#33475b"/>
<path d="M1645.95 1223.20V1238.45H1666.40" fill="none" stroke="#47607d" stroke-width="2.1" stroke-linecap="round" stroke-linejoin="round"/>
<path d="M1650.18 1232.01L1654.58 1228.14L1658.10 1231.84L1663.82 1225.96" fill="none" stroke="#47607d" stroke-width="1.89" stroke-linecap="round" stroke-linejoin="round"/>
<path d="M1660.30 1223.94H1666.02V1229.99z" fill="#47607d" stroke="#47607d" stroke-width="0.8" stroke-linejoin="round"/>
<path d="M1682.2 1224.2h16.3M1686.8 1224.0q0 -3 3.5 -3q3.5 0 3.5 3M1683.8 1224.6l1.3 15q0.1 1.4 1.6 1.4h7.3q1.5 0 1.6 -1.4l1.3 -15" fill="none" stroke="#47607d" stroke-width="1.9" stroke-linecap="round" stroke-linejoin="round"/>
<path d="M1713.4 1236.6q8 4.6 15.6 0.6" fill="none" stroke="#47607d" stroke-width="1.5" stroke-linecap="round"/>
<rect x="1567.9" y="1336.1" width="5" height="1.6" fill="#33475b"/>
<path d="M1645.95 1305.70V1320.95H1666.40" fill="none" stroke="#47607d" stroke-width="2.1" stroke-linecap="round" stroke-linejoin="round"/>
<path d="M1650.18 1314.51L1654.58 1310.64L1658.10 1314.34L1663.82 1308.46" fill="none" stroke="#47607d" stroke-width="1.89" stroke-linecap="round" stroke-linejoin="round"/>
<path d="M1660.30 1306.44H1666.02V1312.49z" fill="#47607d" stroke="#47607d" stroke-width="0.8" stroke-linejoin="round"/>
<path d="M1682.2 1306.7h16.3M1686.8 1306.5q0 -3 3.5 -3q3.5 0 3.5 3M1683.8 1307.1l1.3 15q0.1 1.4 1.6 1.4h7.3q1.5 0 1.6 -1.4l1.3 -15" fill="none" stroke="#47607d" stroke-width="1.9" stroke-linecap="round" stroke-linejoin="round"/>
<path d="M1713.4 1319.1q8 4.6 15.6 0.6" fill="none" stroke="#47607d" stroke-width="1.5" stroke-linecap="round"/>
<path d="M83.2 294.1L100.9 303.2V317.2H83.2zM110.8 303.2L128.7 294.1V317.2H110.8zM138.5 288.3L156.2 278.8V317.2H138.5z" fill="#0b68e4"/>
<path d="M83.2 326.6h17.7v23.1h-17.7zM110.8 326.6h17.9v23.1h-17.9zM138.5 326.6h17.7v23.1h-17.7z" fill="#003873"/>
<circle cx="1598.8" cy="1021.2" r="70" fill="#f2f4f6"/>
<path d="M1598.80 915.90A105.3 105.3 0 0 1 1695.00 978.37L1658.27 994.72A65.1 65.1 0 0 0 1598.80 956.10z" fill="#36cc98"/>
<path d="M1651.74 931.33L1661.27 930.30L1663.73 939.57z" fill="#36cc98" stroke="#36cc98" stroke-width="1" stroke-linejoin="round"/>
<path d="M1695.00 978.37A105.3 105.3 0 0 1 1698.36 1055.48L1660.35 1042.39A65.1 65.1 0 0 0 1658.27 994.72z" fill="#a3d9ff"/>
<path d="M1702.85 1013.92L1710.10 1021.20L1702.85 1028.48z" fill="#a3d9ff" stroke="#a3d9ff" stroke-width="1" stroke-linejoin="round"/>
<path d="M1698.36 1055.48A105.3 105.3 0 0 1 1494.14 1032.76L1534.09 1028.34A65.1 65.1 0 0 0 1660.35 1042.39z" fill="#003873"/>
<path d="M1577.11 1123.22L1568.12 1128.19L1563.13 1119.21z" fill="#003873" stroke="#003873" stroke-width="1" stroke-linejoin="round"/>
<path d="M1494.14 1032.76A105.3 105.3 0 0 1 1598.80 915.90L1598.80 956.10A65.1 65.1 0 0 0 1534.09 1028.34z" fill="#0b6ee6"/>
<path d="M1525.70 946.81L1527.17 937.33L1536.76 937.36z" fill="#0b6ee6" stroke="#0b6ee6" stroke-width="1" stroke-linejoin="round"/>
<rect x="1455.5" y="899.2" width="57" height="31.8" rx="6.5" fill="#0b6ee6"/>
<rect x="1669" y="886.9" width="57" height="31.8" rx="6.5" fill="#36cc98"/>
<rect x="1726" y="1005.7" width="57" height="31.8" rx="6.5" fill="#a3d9ff"/>
<rect x="1535.3" y="1141.1" width="57" height="31.8" rx="6.5" fill="#003873"/>
<path d="M1582.85 1027.37Q1580.37 1016.70 1572.00 1009.00Q1573.23 1020.30 1580.35 1028.63z" fill="#36cc98" stroke="#36cc98" stroke-width="1.1" stroke-linejoin="round"/>
<path d="M1586.96 1027.59Q1585.10 1008.64 1575.90 991.60Q1576.20 1010.96 1583.84 1028.41z" fill="#36cc98" stroke="#36cc98" stroke-width="1.1" stroke-linejoin="round"/>
<path d="M1590.62 1027.98Q1593.80 1006.60 1588.40 985.30Q1583.40 1006.70 1586.98 1028.02z" fill="#36cc98" stroke="#36cc98" stroke-width="1.1" stroke-linejoin="round"/>
<path d="M1594.99 1028.24Q1601.00 1008.02 1599.50 986.70Q1591.90 1006.68 1591.81 1027.76z" fill="#36cc98" stroke="#36cc98" stroke-width="1.1" stroke-linejoin="round"/>
<path d="M1598.46 1028.27Q1605.06 1009.88 1606.20 990.20Q1598.44 1008.32 1596.14 1027.73z" fill="#36cc98" stroke="#36cc98" stroke-width="1.1" stroke-linejoin="round"/>
<path d="M1602.07 1028.40Q1608.48 1016.13 1608.90 1002.00Q1601.22 1013.87 1599.53 1027.60z" fill="#36cc98" stroke="#36cc98" stroke-width="1.1" stroke-linejoin="round"/>
<path d="M1613.64 1027.83Q1613.76 1016.61 1609.00 1006.20Q1607.84 1017.59 1611.56 1028.17z" fill="#36cc98" stroke="#36cc98" stroke-width="1.1" stroke-linejoin="round"/>
<path d="M1616.35 1027.96Q1617.75 1013.34 1614.20 998.90Q1611.75 1013.56 1614.25 1028.04z" fill="#36cc98" stroke="#36cc98" stroke-width="1.1" stroke-linejoin="round"/>
<path d="M1619.04 1028.11Q1622.53 1013.77 1621.10 998.90Q1616.57 1013.13 1616.96 1027.89z" fill="#36cc98" stroke="#36cc98" stroke-width="1.1" stroke-linejoin="round"/>
<path d="M1620.52 1028.21Q1624.73 1017.70 1624.60 1006.20Q1619.47 1016.50 1618.68 1027.79z" fill="#36cc98" stroke="#36cc98" stroke-width="1.1" stroke-linejoin="round"/>
<path d="M1621.62 1028.38Q1625.96 1023.10 1626.40 1016.00Q1621.24 1020.90 1619.98 1027.62z" fill="#36cc98" stroke="#36cc98" stroke-width="1.1" stroke-linejoin="round"/>
<path d="M1579.6 1028L1583 1018.5L1599.5 1016L1603.2 1028zM1611.4 1028L1613 1020L1619.5 1019L1622.4 1028z" fill="#36cc98"/>
<path d="M1571.6 1027.1h55.4q3 0 3 3q-1.4 13 -9.2 20.6q-7 7.4 -13.6 7.4h-15.800q-6.600 0 -13.600 -7.400q-7.800 -7.600 -9.200 -20.600q0 -3 3 -3z" fill="#5fb3fd"/>
</svg>
<div id="texts">
<div class="t" style="left:766.6px;top:260.1px;font-size:35.0px;letter-spacing:0.33px;color:#12181f;font-weight:700;">Market Details</div>
<div class="t" style="left:767.7px;top:310.0px;font-size:25.5px;letter-spacing:-0.53px;color:#4a5f7a;">Aug 1, 2021 - Jan 1, 2022 versus previous 214 days</div>
<div class="t" style="left:766.5px;top:411.9px;font-size:29.5px;letter-spacing:-1.06px;color:#4a5f7a;">My Market Share</div>
<div class="t" style="left:769.0px;top:461.5px;font-size:48.5px;letter-spacing:1.28px;color:#12181f;">16%</div>
<div class="t" style="left:885.2px;top:478.1px;font-size:29.0px;letter-spacing:-0.73px;color:#12181f;">1%</div>
<div class="t" style="left:771.4px;top:569.4px;font-size:29.5px;letter-spacing:-1.50px;color:#4a5f7a;">My Revenue</div>
<div class="t" style="left:773.0px;top:619.3px;font-size:48.5px;letter-spacing:1.39px;color:#12181f;">$112,769.21</div>
<div class="t" style="left:1069.3px;top:635.9px;font-size:29.0px;letter-spacing:0.14px;color:#12181f;">$33102.86</div>
<div class="t" style="left:1374.0px;top:569.4px;font-size:29.5px;letter-spacing:-0.83px;color:#4a5f7a;">My Unit Sales</div>
<div class="t" style="left:1375.5px;top:619.3px;font-size:48.5px;letter-spacing:1.10px;color:#12181f;">4,903</div>
<div class="t" style="left:1516.6px;top:635.9px;font-size:29.0px;letter-spacing:-0.06px;color:#12181f;">1,226</div>
<div class="t" style="left:1460.7px;top:121.1px;font-size:30.5px;letter-spacing:0.06px;color:#12181f;font-weight:700;">Market Composition Preview</div>
<div class="t" style="left:1461.7px;top:182.5px;font-size:23.5px;letter-spacing:-0.92px;color:#4a5f7a;">Based on the keywords and ASINs you’ve entered to define your</div>
<div class="t" style="left:1461.7px;top:210.1px;font-size:23.5px;letter-spacing:-0.97px;color:#4a5f7a;">market, here is a sample of your market size.</div>
<div class="t" style="left:1498.7px;top:286.2px;font-size:25.0px;letter-spacing:-0.39px;color:#4a5f7a;">Categories</div>
<div class="t" style="left:1708.3px;top:286.2px;font-size:25.0px;letter-spacing:-0.32px;color:#4a5f7a;">Subcategories</div>
<div class="t" style="left:1955.8px;top:286.2px;font-size:25.0px;letter-spacing:-0.04px;color:#4a5f7a;">Brands</div>
<div class="t" style="left:1498.3px;top:319.5px;font-size:43.5px;letter-spacing:1.41px;color:#12181f;">2+</div>
<div class="t" style="left:1708.6px;top:319.5px;font-size:43.5px;letter-spacing:1.41px;color:#12181f;">4+</div>
<div class="t" style="left:1957.0px;top:319.5px;font-size:43.5px;letter-spacing:3.12px;color:#12181f;">11+</div>
<div class="t" style="left:1996.7px;top:635.7px;font-size:40.0px;letter-spacing:-1.78px;color:#12181f;font-weight:700;">Custom</div>
<div class="t" style="left:1996.5px;top:692.7px;font-size:27.5px;letter-spacing:0.05px;color:#4a5f7a;">Jun 1, 2020 - Dec 31, 2021</div>
<div class="t" style="left:1996.2px;top:759.4px;font-size:27.5px;letter-spacing:-0.62px;color:#4a5f7a;">Gross Revenue</div>
<div class="t" style="left:2451.0px;top:759.4px;font-size:27.5px;letter-spacing:-0.43px;color:#4a5f7a;">Cost</div>
<div class="t" style="left:1998.0px;top:803.9px;font-size:48.5px;letter-spacing:0.15px;color:#12181f;">$24,899.99</div>
<div class="t" style="left:2323.6px;top:804.9px;font-size:35.5px;letter-spacing:0.63px;color:#12181f;">$22,313.00</div>
<div class="t" style="left:1997.2px;top:871.5px;font-size:24.5px;letter-spacing:-0.16px;color:#4a5f7a;">$2,908.33</div>
<div class="t" style="left:1995.2px;top:966.2px;font-size:27.5px;letter-spacing:0.37px;color:#4a5f7a;">Net Profit</div>
<div class="t" style="left:2421.4px;top:966.2px;font-size:27.5px;letter-spacing:0.37px;color:#4a5f7a;">Margin</div>
<div class="t" style="left:1998.0px;top:1009.9px;font-size:48.5px;letter-spacing:0.03px;color:#12181f;">$2,586.99</div>
<div class="t" style="left:2454.2px;top:1011.6px;font-size:35.5px;letter-spacing:1.06px;color:#12181f;">7%</div>
<div class="t" style="left:1997.2px;top:1077.3px;font-size:24.5px;letter-spacing:-0.38px;color:#4a5f7a;">$1,975.97</div>
<div class="t" style="left:1996.2px;top:1172.7px;font-size:27.5px;letter-spacing:-0.22px;color:#4a5f7a;">Orders</div>
<div class="t" style="left:2210.0px;top:1172.7px;font-size:27.5px;letter-spacing:0.40px;color:#4a5f7a;">Units</div>
<div class="t" style="left:2404.3px;top:1172.7px;font-size:27.5px;letter-spacing:0.00px;color:#4a5f7a;">Refunds</div>
<div class="t" style="left:1997.2px;top:1226.5px;font-size:35.5px;letter-spacing:0.86px;color:#12181f;">721</div>
<div class="t" style="left:2212.8px;top:1226.5px;font-size:35.5px;letter-spacing:2.21px;color:#12181f;">712</div>
<div class="t" style="left:2444.2px;top:1226.5px;font-size:35.5px;letter-spacing:1.66px;color:#12181f;">260</div>
<div class="t" style="left:393.8px;top:847.1px;font-size:38.5px;letter-spacing:0.56px;color:#ffffff;font-weight:700;">Export</div>
<div class="t" style="left:679.3px;top:848.1px;font-size:40.0px;letter-spacing:0.41px;color:#ffffff;font-weight:700;">Widget</div>
<div class="t" style="left:145.8px;top:1004.5px;font-size:20.0px;letter-spacing:-0.85px;color:#4a5f7a;">Type to filter keywords ...</div>
<div class="t" style="left:487.0px;top:1004.5px;font-size:20.0px;letter-spacing:-1.07px;color:#4a5f7a;">Keywords per page ...</div>
<div class="t" style="left:830.0px;top:1004.5px;font-size:20.0px;letter-spacing:-0.77px;color:#3f536c;font-weight:700;">Add Keywords to My List</div>
<div class="t" style="left:96.7px;top:1084.8px;font-size:19.0px;letter-spacing:0.00px;color:#3f536c;font-weight:700;">#</div>
<div class="t" style="left:352.3px;top:1072.5px;font-size:19.0px;letter-spacing:-1.07px;color:#3f536c;font-weight:700;">Keyword</div>
<div class="t" style="left:618.0px;top:1072.5px;font-size:19.0px;letter-spacing:-0.58px;color:#3f536c;font-weight:700;">Note</div>
<div class="t" style="left:773.3px;top:1072.5px;font-size:19.0px;letter-spacing:-1.03px;color:#3f536c;font-weight:700;">Search Volume</div>
<div class="t" style="left:1000.2px;top:1060.5px;font-size:19.0px;letter-spacing:-1.11px;color:#3f536c;font-weight:700;">Competing</div>
<div class="t" style="left:1016.2px;top:1084.8px;font-size:19.0px;letter-spacing:-1.15px;color:#3f536c;font-weight:700;">Products</div>
<div class="t" style="left:1144.6px;top:1072.5px;font-size:19.0px;letter-spacing:-1.26px;color:#3f536c;font-weight:700;">Trend</div>
<div class="t" style="left:1282.6px;top:1072.1px;font-size:19.0px;letter-spacing:-1.17px;color:#3f536c;font-weight:700;">Organic Rank</div>
<div class="t" style="left:93.3px;top:1136.1px;font-size:20.0px;letter-spacing:0.00px;color:#4a5f7a;">1</div>
<div class="t" style="left:92.8px;top:1216.9px;font-size:20.0px;letter-spacing:0.00px;color:#4a5f7a;">2</div>
<div class="t" style="left:93.3px;top:1298.4px;font-size:20.0px;letter-spacing:0.00px;color:#4a5f7a;">3</div>
<div class="t" style="left:335.3px;top:1136.1px;font-size:20.0px;letter-spacing:-0.47px;color:#4a5f7a;">succulent</div>
<div class="t" style="left:334.3px;top:1216.9px;font-size:20.0px;letter-spacing:-0.11px;color:#4a5f7a;">indoor</div>
<div class="t" style="left:334.3px;top:1298.9px;font-size:20.0px;letter-spacing:-0.05px;color:#4a5f7a;">planter</div>
<div class="t" style="left:599.8px;top:1135.6px;font-size:20.0px;letter-spacing:0.57px;color:#4a5f7a;">Add</div>
<div class="t" style="left:599.8px;top:1216.4px;font-size:20.0px;letter-spacing:0.57px;color:#4a5f7a;">Add</div>
<div class="t" style="left:599.8px;top:1297.9px;font-size:20.0px;letter-spacing:0.57px;color:#4a5f7a;">Add</div>
<div class="t" style="left:820.4px;top:1137.8px;font-size:18.5px;letter-spacing:-0.08px;color:#4a5f7a;">9,841</div>
<div class="t" style="left:835.5px;top:1218.6px;font-size:18.5px;letter-spacing:0.36px;color:#4a5f7a;">420</div>
<div class="t" style="left:809.9px;top:1300.1px;font-size:18.5px;letter-spacing:0.12px;color:#4a5f7a;">47,438</div>
<div class="t" style="left:1021.7px;top:1136.1px;font-size:18.5px;letter-spacing:0.10px;color:#4a5f7a;">&gt;20,000</div>
<div class="t" style="left:1011.5px;top:1216.3px;font-size:18.5px;letter-spacing:0.14px;color:#4a5f7a;">&gt;100,000</div>
<div class="t" style="left:1021.7px;top:1298.4px;font-size:18.5px;letter-spacing:0.10px;color:#4a5f7a;">&gt;20,000</div>
<div class="t" style="left:1364.3px;top:1137.7px;font-size:17.0px;letter-spacing:0.60px;color:#4a5f7a;">107</div>
<div class="t" style="left:1354.0px;top:1219.2px;font-size:17.0px;letter-spacing:0.52px;color:#4a5f7a;">&gt;306</div>
<div class="t" style="left:1354.0px;top:1301.4px;font-size:17.0px;letter-spacing:0.52px;color:#4a5f7a;">&gt;306</div>
<div class="t" style="left:1543.8px;top:1219.2px;font-size:17.0px;letter-spacing:0.61px;color:#4a5f7a;">&gt;96</div>
<div class="t" style="left:1543.8px;top:1301.4px;font-size:17.0px;letter-spacing:0.61px;color:#4a5f7a;">&gt;96</div>
<div class="t" style="left:443.5px;top:1008.1px;font-size:15.0px;letter-spacing:0.00px;color:#ffffff;">?</div>
<div class="t" style="left:1714.0px;top:1215.2px;font-size:25px;letter-spacing:0.00px;color:#47607d;font-weight:700;">a</div>
<div class="t" style="left:1714.0px;top:1297.5px;font-size:25px;letter-spacing:0.00px;color:#47607d;font-weight:700;">a</div>
</div>
</div>
</body>
</html>
